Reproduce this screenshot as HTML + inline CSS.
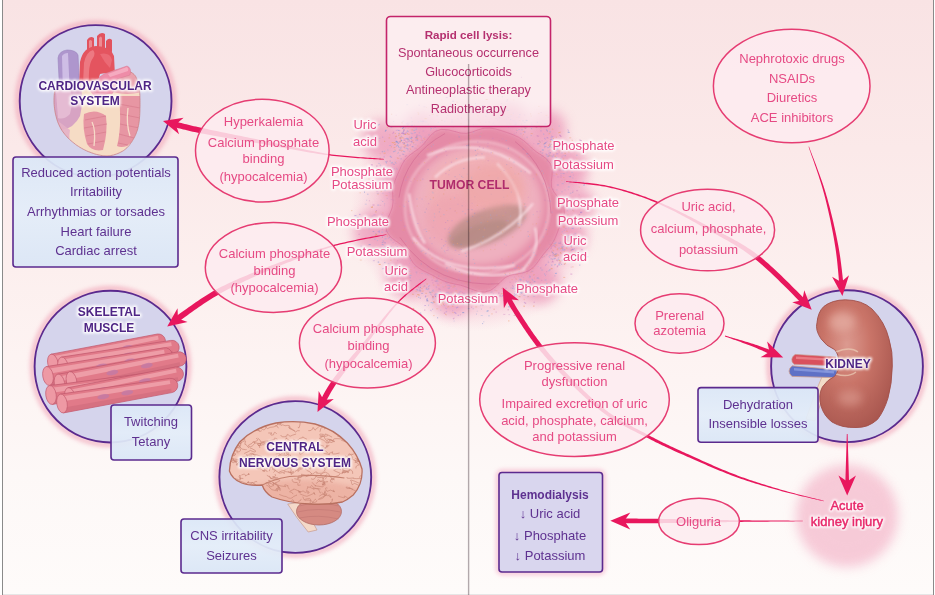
<!DOCTYPE html>
<html><head><meta charset="utf-8">
<style>
html,body{margin:0;padding:0;width:935px;height:595px;overflow:hidden;background:#fff}
svg{display:block}
text{font-family:"Liberation Sans",sans-serif}
.pk{fill:#e64a84;font-size:13px;text-anchor:middle}
.pu{fill:#5e3190;font-size:13px;text-anchor:middle}
.lb{fill:#4f2585;font-size:12px;font-weight:bold;text-anchor:middle}
.circ{fill:#d5d4ec;stroke:#5b2a8e;stroke-width:1.9}
.tl{fill:#e64a84;font-size:13px;text-anchor:middle}
.hl{fill:#fff;stroke:#fff;stroke-width:3.4;stroke-opacity:.85;stroke-linejoin:round}
</style></head><body>
<svg width="935" height="595" viewBox="0 0 935 595">
<defs>
<linearGradient id="bg" x1="0" y1="0" x2="0" y2="1">
<stop offset="0" stop-color="#f9e3e4"/>
<stop offset="0.25" stop-color="#fbe9e9"/>
<stop offset="0.45" stop-color="#fcefee"/>
<stop offset="0.6" stop-color="#fdf3f2"/>
<stop offset="0.8" stop-color="#fdf8f7"/>
<stop offset="1" stop-color="#fefbfa"/>
</linearGradient>
<radialGradient id="tglow" cx="0.5" cy="0.5" r="0.5">
<stop offset="0" stop-color="#e8749f" stop-opacity="1"/>
<stop offset="0.65" stop-color="#ec8cb0" stop-opacity="0.9"/>
<stop offset="0.85" stop-color="#f2acc5" stop-opacity="0.55"/>
<stop offset="1" stop-color="#f7c6d6" stop-opacity="0"/>
</radialGradient>
<radialGradient id="tbody" cx="0.45" cy="0.42" r="0.58">
<stop offset="0" stop-color="#f2c3cf"/>
<stop offset="0.55" stop-color="#efb3c5"/>
<stop offset="0.82" stop-color="#ea9cb6"/>
<stop offset="1" stop-color="#e2819f"/>
</radialGradient>
<radialGradient id="akglow" cx="0.5" cy="0.5" r="0.5">
<stop offset="0" stop-color="#f4adc3" stop-opacity="0.95"/>
<stop offset="0.55" stop-color="#f6bccf" stop-opacity="0.75"/>
<stop offset="1" stop-color="#fbd7e2" stop-opacity="0"/>
</radialGradient>
<linearGradient id="bluebox" x1="0" y1="0" x2="0" y2="1">
<stop offset="0" stop-color="#dbe7f7"/>
<stop offset="0.5" stop-color="#e3edf9"/>
<stop offset="1" stop-color="#dae6f6"/>
</linearGradient>
<radialGradient id="kid" cx="0.4" cy="0.35" r="0.7">
<stop offset="0" stop-color="#dc9a90"/>
<stop offset="0.45" stop-color="#c97468"/>
<stop offset="1" stop-color="#a9574f"/>
</radialGradient>
<linearGradient id="fib" x1="0" y1="0" x2="0" y2="1">
<stop offset="0" stop-color="#f2a7b0"/>
<stop offset="0.45" stop-color="#e8848f"/>
<stop offset="1" stop-color="#d66a7a"/>
</linearGradient>
<filter id="blur2" x="-50%" y="-50%" width="200%" height="200%"><feGaussianBlur stdDeviation="2"/></filter>
<filter id="blur1"><feGaussianBlur stdDeviation="0.8"/></filter>
<filter id="blur4" x="-50%" y="-50%" width="200%" height="200%"><feGaussianBlur stdDeviation="4"/></filter>
<filter id="blur6" x="-50%" y="-50%" width="200%" height="200%"><feGaussianBlur stdDeviation="6"/></filter>
<filter id="blur10" x="-50%" y="-50%" width="200%" height="200%"><feGaussianBlur stdDeviation="10"/></filter>
</defs>

<rect x="0" y="0" width="935" height="595" fill="#fff"/>
<rect x="3" y="0" width="930" height="594" fill="url(#bg)"/>
<circle cx="475" cy="207.5" r="124" fill="url(#tglow)" opacity="0.62"/>
<circle cx="382" cy="140" r="20" fill="#e98ab0" opacity="0.6" filter="url(#blur6)"/>
<circle cx="375" cy="232" r="22" fill="#e98ab0" opacity="0.6" filter="url(#blur6)"/>
<circle cx="408" cy="276" r="22" fill="#e98ab0" opacity="0.6" filter="url(#blur6)"/>
<circle cx="452" cy="296" r="20" fill="#e98ab0" opacity="0.6" filter="url(#blur6)"/>
<circle cx="540" cy="284" r="20" fill="#e98ab0" opacity="0.6" filter="url(#blur6)"/>
<circle cx="566" cy="238" r="20" fill="#e98ab0" opacity="0.6" filter="url(#blur6)"/>
<circle cx="566" cy="168" r="22" fill="#e98ab0" opacity="0.6" filter="url(#blur6)"/>
<circle cx="548" cy="128" r="18" fill="#e98ab0" opacity="0.6" filter="url(#blur6)"/>
<circle cx="398" cy="180" r="18" fill="#e98ab0" opacity="0.6" filter="url(#blur6)"/>
<circle cx="420" cy="128" r="16" fill="#e98ab0" opacity="0.6" filter="url(#blur6)"/>
<circle cx="510" cy="120" r="16" fill="#e98ab0" opacity="0.6" filter="url(#blur6)"/>
<circle cx="580" cy="205" r="15" fill="#e98ab0" opacity="0.6" filter="url(#blur6)"/>
<rect x="427.5" y="300.5" width="1" height="1" fill="#7f8fd0" opacity="0.45"/>
<rect x="577.9" y="246.0" width="1" height="1" fill="#8fb0e0" opacity="0.31"/>
<rect x="382.9" y="247.5" width="1" height="1" fill="#c77fc0" opacity="0.63"/>
<rect x="545.0" y="275.1" width="1" height="1" fill="#9aa6dc" opacity="0.53"/>
<rect x="395.6" y="266.5" width="1" height="1" fill="#b58fd8" opacity="0.42"/>
<rect x="533.9" y="281.1" width="1.5" height="1" fill="#7f8fd0" opacity="0.52"/>
<rect x="430.1" y="110.8" width="1.5" height="1" fill="#9aa6dc" opacity="0.34"/>
<rect x="450.1" y="107.1" width="1" height="1" fill="#8fb0e0" opacity="0.55"/>
<rect x="399.4" y="209.2" width="2" height="1" fill="#c77fc0" opacity="0.44"/>
<rect x="475.9" y="297.5" width="1" height="1" fill="#9aa6dc" opacity="0.33"/>
<rect x="448.6" y="286.7" width="1.5" height="1" fill="#c77fc0" opacity="0.54"/>
<rect x="561.3" y="249.4" width="2" height="1" fill="#8fb0e0" opacity="0.37"/>
<rect x="416.2" y="295.7" width="1" height="1" fill="#f0a070" opacity="0.61"/>
<rect x="393.5" y="168.1" width="1.5" height="1" fill="#b58fd8" opacity="0.44"/>
<rect x="431.1" y="266.6" width="1" height="1" fill="#7f8fd0" opacity="0.68"/>
<rect x="379.8" y="222.8" width="1" height="1" fill="#f0a070" opacity="0.32"/>
<rect x="453.0" y="139.1" width="2" height="1" fill="#b58fd8" opacity="0.41"/>
<rect x="425.4" y="249.9" width="1.5" height="1" fill="#f0a070" opacity="0.31"/>
<rect x="378.9" y="230.6" width="1" height="1" fill="#7f8fd0" opacity="0.61"/>
<rect x="544.6" y="279.5" width="2" height="1" fill="#9aa6dc" opacity="0.46"/>
<rect x="549.3" y="131.4" width="1.5" height="1" fill="#8fb0e0" opacity="0.65"/>
<rect x="518.2" y="116.5" width="1.5" height="1" fill="#b58fd8" opacity="0.58"/>
<rect x="565.9" y="199.9" width="1" height="1" fill="#9aa6dc" opacity="0.33"/>
<rect x="524.6" y="275.5" width="1" height="1" fill="#f0a070" opacity="0.30"/>
<rect x="523.8" y="121.9" width="2" height="1" fill="#9aa6dc" opacity="0.51"/>
<rect x="394.1" y="142.1" width="1" height="1" fill="#e79a6a" opacity="0.58"/>
<rect x="392.7" y="199.6" width="2" height="1" fill="#7f8fd0" opacity="0.66"/>
<rect x="490.7" y="126.8" width="2" height="1" fill="#b58fd8" opacity="0.46"/>
<rect x="409.0" y="258.3" width="1" height="1" fill="#9aa6dc" opacity="0.69"/>
<rect x="384.3" y="242.3" width="1.5" height="1" fill="#7f8fd0" opacity="0.54"/>
<rect x="540.9" y="255.9" width="1" height="1" fill="#e79a6a" opacity="0.33"/>
<rect x="498.5" y="292.6" width="1" height="1" fill="#c77fc0" opacity="0.55"/>
<rect x="556.8" y="184.5" width="2" height="1" fill="#7f8fd0" opacity="0.70"/>
<rect x="389.2" y="225.8" width="1.5" height="1" fill="#c77fc0" opacity="0.33"/>
<rect x="547.7" y="260.8" width="1" height="1" fill="#b58fd8" opacity="0.51"/>
<rect x="503.8" y="305.3" width="1.5" height="1" fill="#8fb0e0" opacity="0.36"/>
<rect x="368.5" y="178.5" width="1" height="1" fill="#f0a070" opacity="0.58"/>
<rect x="468.1" y="303.8" width="1" height="1" fill="#e79a6a" opacity="0.44"/>
<rect x="489.0" y="287.0" width="1" height="1" fill="#f0a070" opacity="0.55"/>
<rect x="497.1" y="119.6" width="1" height="1" fill="#b58fd8" opacity="0.62"/>
<rect x="514.7" y="122.4" width="2" height="1" fill="#8fb0e0" opacity="0.44"/>
<rect x="561.0" y="223.0" width="1.5" height="1" fill="#7f8fd0" opacity="0.49"/>
<rect x="505.3" y="287.7" width="1.5" height="1" fill="#b58fd8" opacity="0.68"/>
<rect x="416.1" y="273.2" width="1" height="1" fill="#9aa6dc" opacity="0.39"/>
<rect x="508.1" y="300.7" width="1" height="1" fill="#8fb0e0" opacity="0.49"/>
<rect x="410.8" y="117.4" width="1" height="1" fill="#b58fd8" opacity="0.63"/>
<rect x="534.5" y="262.2" width="2" height="1" fill="#9aa6dc" opacity="0.66"/>
<rect x="376.0" y="250.3" width="1.5" height="1" fill="#f0a070" opacity="0.33"/>
<rect x="563.3" y="177.0" width="1" height="1" fill="#f0a070" opacity="0.59"/>
<rect x="514.9" y="278.6" width="1" height="1" fill="#9aa6dc" opacity="0.36"/>
<rect x="556.3" y="153.3" width="2" height="1" fill="#b58fd8" opacity="0.56"/>
<rect x="422.1" y="278.5" width="1" height="1" fill="#8fb0e0" opacity="0.31"/>
<rect x="504.0" y="118.7" width="1" height="1" fill="#f0a070" opacity="0.47"/>
<rect x="537.7" y="143.5" width="1" height="1" fill="#b58fd8" opacity="0.31"/>
<rect x="492.5" y="279.6" width="1.5" height="1" fill="#e79a6a" opacity="0.52"/>
<rect x="523.4" y="126.4" width="1.5" height="1" fill="#7f8fd0" opacity="0.66"/>
<rect x="421.8" y="122.5" width="1" height="1" fill="#b58fd8" opacity="0.51"/>
<rect x="393.2" y="195.6" width="2" height="1" fill="#7f8fd0" opacity="0.61"/>
<rect x="399.6" y="147.5" width="2" height="1" fill="#9aa6dc" opacity="0.55"/>
<rect x="539.9" y="267.5" width="1.5" height="1" fill="#7f8fd0" opacity="0.57"/>
<rect x="401.0" y="193.3" width="1" height="1" fill="#8fb0e0" opacity="0.40"/>
<rect x="458.5" y="302.4" width="1" height="1" fill="#b58fd8" opacity="0.50"/>
<rect x="384.6" y="171.3" width="1.5" height="1" fill="#c77fc0" opacity="0.55"/>
<rect x="405.5" y="205.1" width="1" height="1" fill="#8fb0e0" opacity="0.58"/>
<rect x="396.1" y="231.4" width="1.5" height="1" fill="#9aa6dc" opacity="0.67"/>
<rect x="547.8" y="150.5" width="2" height="1" fill="#9aa6dc" opacity="0.35"/>
<rect x="541.2" y="269.6" width="2" height="1" fill="#9aa6dc" opacity="0.33"/>
<rect x="427.7" y="123.8" width="1" height="1" fill="#b58fd8" opacity="0.66"/>
<rect x="527.1" y="282.1" width="1.5" height="1" fill="#9aa6dc" opacity="0.65"/>
<rect x="552.1" y="191.9" width="1" height="1" fill="#9aa6dc" opacity="0.46"/>
<rect x="356.7" y="216.8" width="2" height="1" fill="#9aa6dc" opacity="0.70"/>
<rect x="397.2" y="260.2" width="1" height="1" fill="#c77fc0" opacity="0.44"/>
<rect x="549.3" y="255.1" width="2" height="1" fill="#c77fc0" opacity="0.58"/>
<rect x="397.2" y="275.3" width="1.5" height="1" fill="#8fb0e0" opacity="0.50"/>
<rect x="582.6" y="252.6" width="1" height="1" fill="#7f8fd0" opacity="0.41"/>
<rect x="566.1" y="230.2" width="1" height="1" fill="#b58fd8" opacity="0.41"/>
<rect x="524.9" y="259.3" width="1.5" height="1" fill="#b58fd8" opacity="0.46"/>
<rect x="369.5" y="183.3" width="2" height="1" fill="#8fb0e0" opacity="0.58"/>
<rect x="570.7" y="266.6" width="1" height="1" fill="#c77fc0" opacity="0.41"/>
<rect x="576.9" y="218.1" width="1.5" height="1" fill="#7f8fd0" opacity="0.33"/>
<rect x="547.9" y="116.8" width="1" height="1" fill="#c77fc0" opacity="0.44"/>
<rect x="375.1" y="173.6" width="1" height="1" fill="#e79a6a" opacity="0.32"/>
<rect x="443.5" y="88.7" width="1" height="1" fill="#e79a6a" opacity="0.37"/>
<rect x="551.5" y="173.5" width="1.5" height="1" fill="#f0a070" opacity="0.51"/>
<rect x="496.7" y="282.1" width="1.5" height="1" fill="#e79a6a" opacity="0.62"/>
<rect x="576.9" y="204.0" width="1" height="1" fill="#7f8fd0" opacity="0.31"/>
<rect x="364.8" y="203.7" width="2" height="1" fill="#9aa6dc" opacity="0.34"/>
<rect x="514.5" y="123.9" width="2" height="1" fill="#c77fc0" opacity="0.52"/>
<rect x="556.2" y="140.6" width="1" height="1" fill="#9aa6dc" opacity="0.44"/>
<rect x="521.5" y="127.3" width="1" height="1" fill="#f0a070" opacity="0.46"/>
<rect x="416.3" y="289.2" width="1.5" height="1" fill="#7f8fd0" opacity="0.47"/>
<rect x="567.2" y="240.3" width="2" height="1" fill="#f0a070" opacity="0.65"/>
<rect x="429.9" y="126.4" width="1" height="1" fill="#e79a6a" opacity="0.48"/>
<rect x="532.5" y="293.3" width="1" height="1" fill="#c77fc0" opacity="0.41"/>
<rect x="582.7" y="181.7" width="1" height="1" fill="#9aa6dc" opacity="0.69"/>
<rect x="440.9" y="292.7" width="1" height="1" fill="#e79a6a" opacity="0.30"/>
<rect x="414.7" y="261.9" width="1" height="1" fill="#9aa6dc" opacity="0.50"/>
<rect x="573.2" y="210.5" width="1" height="1" fill="#e79a6a" opacity="0.36"/>
<rect x="399.7" y="162.7" width="1" height="1" fill="#f0a070" opacity="0.33"/>
<rect x="573.7" y="181.1" width="1" height="1" fill="#b58fd8" opacity="0.56"/>
<rect x="452.8" y="107.3" width="2" height="1" fill="#e79a6a" opacity="0.36"/>
<rect x="460.8" y="122.6" width="1" height="1" fill="#f0a070" opacity="0.32"/>
<rect x="530.7" y="115.6" width="1" height="1" fill="#f0a070" opacity="0.66"/>
<rect x="476.5" y="123.8" width="1" height="1" fill="#8fb0e0" opacity="0.63"/>
<rect x="379.8" y="153.1" width="1" height="1" fill="#f0a070" opacity="0.33"/>
<rect x="556.7" y="229.1" width="1.5" height="1" fill="#f0a070" opacity="0.68"/>
<rect x="409.1" y="270.8" width="1" height="1" fill="#7f8fd0" opacity="0.50"/>
<rect x="572.1" y="209.5" width="1" height="1" fill="#b58fd8" opacity="0.60"/>
<rect x="396.2" y="206.1" width="2" height="1" fill="#7f8fd0" opacity="0.40"/>
<rect x="557.2" y="248.2" width="1" height="1" fill="#e79a6a" opacity="0.59"/>
<rect x="501.1" y="295.9" width="2" height="1" fill="#c77fc0" opacity="0.33"/>
<rect x="528.6" y="174.4" width="1" height="1" fill="#e79a6a" opacity="0.55"/>
<rect x="411.4" y="129.4" width="1.5" height="1" fill="#e79a6a" opacity="0.55"/>
<rect x="541.3" y="279.8" width="1" height="1" fill="#c77fc0" opacity="0.49"/>
<rect x="576.3" y="190.2" width="1.5" height="1" fill="#c77fc0" opacity="0.58"/>
<rect x="452.6" y="303.9" width="2" height="1" fill="#c77fc0" opacity="0.61"/>
<rect x="561.0" y="203.9" width="2" height="1" fill="#7f8fd0" opacity="0.31"/>
<rect x="385.2" y="230.7" width="2" height="1" fill="#b58fd8" opacity="0.70"/>
<rect x="384.1" y="284.2" width="1" height="1" fill="#7f8fd0" opacity="0.36"/>
<rect x="393.8" y="195.4" width="1" height="1" fill="#e79a6a" opacity="0.54"/>
<rect x="410.8" y="139.0" width="1" height="1" fill="#e79a6a" opacity="0.50"/>
<rect x="547.5" y="137.5" width="1" height="1" fill="#c77fc0" opacity="0.36"/>
<rect x="561.4" y="180.0" width="1" height="1" fill="#f0a070" opacity="0.47"/>
<rect x="414.6" y="265.9" width="1.5" height="1" fill="#7f8fd0" opacity="0.30"/>
<rect x="475.5" y="110.3" width="1" height="1" fill="#9aa6dc" opacity="0.66"/>
<rect x="452.5" y="293.8" width="1" height="1" fill="#e79a6a" opacity="0.46"/>
<rect x="561.4" y="206.9" width="1.5" height="1" fill="#c77fc0" opacity="0.64"/>
<rect x="457.8" y="294.0" width="1.5" height="1" fill="#7f8fd0" opacity="0.55"/>
<rect x="539.5" y="293.2" width="1" height="1" fill="#e79a6a" opacity="0.61"/>
<rect x="495.5" y="117.9" width="1" height="1" fill="#c77fc0" opacity="0.62"/>
<rect x="393.1" y="121.0" width="1" height="1" fill="#8fb0e0" opacity="0.59"/>
<rect x="552.3" y="231.9" width="2" height="1" fill="#f0a070" opacity="0.48"/>
<rect x="476.5" y="119.4" width="1" height="1" fill="#7f8fd0" opacity="0.37"/>
<rect x="399.1" y="251.6" width="1.5" height="1" fill="#e79a6a" opacity="0.40"/>
<rect x="468.7" y="120.5" width="1.5" height="1" fill="#9aa6dc" opacity="0.49"/>
<rect x="433.1" y="134.0" width="1" height="1" fill="#7f8fd0" opacity="0.56"/>
<rect x="541.0" y="240.5" width="1" height="1" fill="#8fb0e0" opacity="0.48"/>
<rect x="427.3" y="289.1" width="2" height="1" fill="#b58fd8" opacity="0.47"/>
<rect x="383.0" y="179.6" width="1" height="1" fill="#8fb0e0" opacity="0.43"/>
<rect x="405.0" y="282.1" width="1" height="1" fill="#b58fd8" opacity="0.65"/>
<rect x="474.8" y="123.8" width="1" height="1" fill="#8fb0e0" opacity="0.45"/>
<rect x="421.1" y="292.9" width="2" height="1" fill="#7f8fd0" opacity="0.41"/>
<rect x="578.8" y="186.6" width="1" height="1" fill="#f0a070" opacity="0.34"/>
<rect x="559.6" y="144.7" width="2" height="1" fill="#c77fc0" opacity="0.56"/>
<rect x="395.3" y="243.2" width="1" height="1" fill="#7f8fd0" opacity="0.31"/>
<rect x="445.7" y="97.1" width="2" height="1" fill="#b58fd8" opacity="0.69"/>
<rect x="354.4" y="215.1" width="2" height="1" fill="#b58fd8" opacity="0.69"/>
<rect x="476.0" y="313.6" width="1" height="1" fill="#7f8fd0" opacity="0.36"/>
<rect x="391.7" y="195.9" width="2" height="1" fill="#f0a070" opacity="0.33"/>
<rect x="486.8" y="139.9" width="1" height="1" fill="#7f8fd0" opacity="0.39"/>
<rect x="553.6" y="165.1" width="1.5" height="1" fill="#9aa6dc" opacity="0.51"/>
<rect x="393.8" y="240.5" width="1" height="1" fill="#b58fd8" opacity="0.34"/>
<rect x="442.9" y="303.7" width="1" height="1" fill="#e79a6a" opacity="0.62"/>
<rect x="568.3" y="208.2" width="1.5" height="1" fill="#8fb0e0" opacity="0.70"/>
<rect x="459.5" y="291.1" width="2" height="1" fill="#9aa6dc" opacity="0.51"/>
<rect x="363.1" y="174.1" width="2" height="1" fill="#7f8fd0" opacity="0.58"/>
<rect x="436.2" y="308.3" width="2" height="1" fill="#f0a070" opacity="0.33"/>
<rect x="488.6" y="302.5" width="1.5" height="1" fill="#c77fc0" opacity="0.39"/>
<rect x="562.4" y="226.1" width="2" height="1" fill="#f0a070" opacity="0.38"/>
<rect x="506.1" y="107.5" width="1" height="1" fill="#f0a070" opacity="0.38"/>
<rect x="561.0" y="191.3" width="2" height="1" fill="#9aa6dc" opacity="0.39"/>
<rect x="482.7" y="93.5" width="1" height="1" fill="#e79a6a" opacity="0.68"/>
<rect x="375.8" y="210.1" width="1" height="1" fill="#c77fc0" opacity="0.68"/>
<rect x="538.0" y="288.5" width="1" height="1" fill="#c77fc0" opacity="0.39"/>
<rect x="572.2" y="191.9" width="1" height="1" fill="#7f8fd0" opacity="0.46"/>
<rect x="554.5" y="149.5" width="1" height="1" fill="#e79a6a" opacity="0.70"/>
<rect x="558.9" y="169.8" width="2" height="1" fill="#8fb0e0" opacity="0.31"/>
<rect x="422.4" y="121.0" width="1.5" height="1" fill="#c77fc0" opacity="0.69"/>
<rect x="381.7" y="242.1" width="1.5" height="1" fill="#7f8fd0" opacity="0.47"/>
<rect x="549.4" y="143.4" width="1" height="1" fill="#8fb0e0" opacity="0.45"/>
<rect x="485.4" y="121.7" width="1" height="1" fill="#7f8fd0" opacity="0.58"/>
<rect x="513.9" y="314.8" width="2" height="1" fill="#8fb0e0" opacity="0.38"/>
<rect x="410.3" y="280.1" width="1" height="1" fill="#c77fc0" opacity="0.62"/>
<rect x="484.8" y="115.7" width="2" height="1" fill="#7f8fd0" opacity="0.31"/>
<rect x="571.2" y="246.6" width="1" height="1" fill="#f0a070" opacity="0.66"/>
<rect x="426.4" y="283.5" width="1.5" height="1" fill="#e79a6a" opacity="0.68"/>
<rect x="404.9" y="145.4" width="1.5" height="1" fill="#e79a6a" opacity="0.42"/>
<rect x="454.6" y="96.6" width="1" height="1" fill="#8fb0e0" opacity="0.31"/>
<rect x="481.7" y="272.1" width="2" height="1" fill="#b58fd8" opacity="0.62"/>
<rect x="561.2" y="156.5" width="2" height="1" fill="#b58fd8" opacity="0.35"/>
<rect x="351.3" y="210.1" width="1" height="1" fill="#e79a6a" opacity="0.54"/>
<rect x="429.2" y="291.9" width="2" height="1" fill="#e79a6a" opacity="0.44"/>
<rect x="495.7" y="108.6" width="1" height="1" fill="#b58fd8" opacity="0.40"/>
<rect x="566.6" y="246.2" width="2" height="1" fill="#7f8fd0" opacity="0.52"/>
<rect x="419.7" y="312.6" width="1.5" height="1" fill="#7f8fd0" opacity="0.55"/>
<rect x="499.0" y="295.5" width="2" height="1" fill="#c77fc0" opacity="0.70"/>
<rect x="572.5" y="190.6" width="1" height="1" fill="#c77fc0" opacity="0.60"/>
<rect x="533.2" y="125.8" width="1" height="1" fill="#f0a070" opacity="0.61"/>
<rect x="449.3" y="296.4" width="1.5" height="1" fill="#e79a6a" opacity="0.38"/>
<rect x="476.7" y="310.7" width="1" height="1" fill="#9aa6dc" opacity="0.36"/>
<rect x="539.7" y="151.0" width="1.5" height="1" fill="#c77fc0" opacity="0.70"/>
<rect x="384.1" y="203.4" width="1" height="1" fill="#9aa6dc" opacity="0.56"/>
<rect x="581.7" y="201.5" width="1" height="1" fill="#b58fd8" opacity="0.64"/>
<rect x="564.5" y="155.2" width="1.5" height="1" fill="#7f8fd0" opacity="0.39"/>
<rect x="549.0" y="231.2" width="1" height="1" fill="#9aa6dc" opacity="0.45"/>
<rect x="530.1" y="147.1" width="1.5" height="1" fill="#c77fc0" opacity="0.61"/>
<rect x="417.3" y="112.2" width="1.5" height="1" fill="#f0a070" opacity="0.39"/>
<rect x="409.4" y="277.1" width="1" height="1" fill="#9aa6dc" opacity="0.38"/>
<rect x="472.5" y="287.7" width="1" height="1" fill="#9aa6dc" opacity="0.63"/>
<rect x="402.8" y="253.0" width="1" height="1" fill="#e79a6a" opacity="0.55"/>
<rect x="571.9" y="258.1" width="1" height="1" fill="#c77fc0" opacity="0.46"/>
<rect x="503.1" y="114.7" width="1" height="1" fill="#f0a070" opacity="0.56"/>
<rect x="563.7" y="263.6" width="1.5" height="1" fill="#c77fc0" opacity="0.57"/>
<rect x="377.7" y="261.6" width="1.5" height="1" fill="#7f8fd0" opacity="0.60"/>
<rect x="545.0" y="146.0" width="1.5" height="1" fill="#b58fd8" opacity="0.56"/>
<rect x="399.8" y="267.9" width="1" height="1" fill="#c77fc0" opacity="0.68"/>
<rect x="384.1" y="246.6" width="2" height="1" fill="#7f8fd0" opacity="0.53"/>
<rect x="408.4" y="281.8" width="1" height="1" fill="#b58fd8" opacity="0.35"/>
<rect x="578.9" y="241.8" width="1" height="1" fill="#c77fc0" opacity="0.53"/>
<rect x="576.4" y="158.6" width="1" height="1" fill="#f0a070" opacity="0.36"/>
<rect x="460.7" y="273.5" width="2" height="1" fill="#7f8fd0" opacity="0.50"/>
<rect x="506.2" y="122.3" width="1" height="1" fill="#b58fd8" opacity="0.42"/>
<rect x="538.4" y="105.9" width="1" height="1" fill="#e79a6a" opacity="0.54"/>
<rect x="407.5" y="131.1" width="1" height="1" fill="#7f8fd0" opacity="0.56"/>
<rect x="527.1" y="143.0" width="2" height="1" fill="#9aa6dc" opacity="0.37"/>
<rect x="491.8" y="288.7" width="1" height="1" fill="#c77fc0" opacity="0.45"/>
<rect x="544.0" y="273.5" width="1" height="1" fill="#9aa6dc" opacity="0.65"/>
<rect x="538.3" y="113.1" width="1" height="1" fill="#f0a070" opacity="0.57"/>
<rect x="436.4" y="282.6" width="1.5" height="1" fill="#b58fd8" opacity="0.56"/>
<rect x="437.6" y="303.1" width="2" height="1" fill="#9aa6dc" opacity="0.46"/>
<rect x="415.5" y="271.6" width="2" height="1" fill="#7f8fd0" opacity="0.49"/>
<rect x="384.5" y="238.3" width="2" height="1" fill="#8fb0e0" opacity="0.63"/>
<rect x="509.3" y="123.4" width="2" height="1" fill="#e79a6a" opacity="0.45"/>
<rect x="506.8" y="116.0" width="1" height="1" fill="#8fb0e0" opacity="0.32"/>
<rect x="546.9" y="282.8" width="1" height="1" fill="#f0a070" opacity="0.32"/>
<rect x="383.9" y="205.3" width="1" height="1" fill="#c77fc0" opacity="0.31"/>
<rect x="550.1" y="240.1" width="1" height="1" fill="#7f8fd0" opacity="0.35"/>
<rect x="538.2" y="153.4" width="1" height="1" fill="#e79a6a" opacity="0.57"/>
<rect x="456.9" y="111.0" width="1.5" height="1" fill="#8fb0e0" opacity="0.36"/>
<rect x="569.2" y="137.3" width="2" height="1" fill="#e79a6a" opacity="0.36"/>
<rect x="371.8" y="206.1" width="1" height="1" fill="#e79a6a" opacity="0.43"/>
<rect x="564.6" y="228.2" width="2" height="1" fill="#9aa6dc" opacity="0.36"/>
<rect x="553.4" y="175.1" width="1.5" height="1" fill="#9aa6dc" opacity="0.35"/>
<rect x="403.4" y="193.8" width="1.5" height="1" fill="#f0a070" opacity="0.69"/>
<rect x="400.5" y="229.7" width="1.5" height="1" fill="#7f8fd0" opacity="0.70"/>
<rect x="410.9" y="140.8" width="1.5" height="1" fill="#c77fc0" opacity="0.41"/>
<rect x="560.8" y="202.5" width="1" height="1" fill="#b58fd8" opacity="0.48"/>
<rect x="515.3" y="287.1" width="1" height="1" fill="#f0a070" opacity="0.42"/>
<rect x="390.9" y="199.1" width="1.5" height="1" fill="#b58fd8" opacity="0.59"/>
<rect x="472.7" y="85.0" width="1" height="1" fill="#9aa6dc" opacity="0.42"/>
<rect x="414.4" y="147.6" width="1" height="1" fill="#7f8fd0" opacity="0.50"/>
<rect x="397.7" y="142.8" width="1" height="1" fill="#7f8fd0" opacity="0.32"/>
<rect x="391.8" y="170.9" width="1" height="1" fill="#8fb0e0" opacity="0.47"/>
<rect x="440.3" y="309.6" width="1" height="1" fill="#9aa6dc" opacity="0.45"/>
<rect x="521.0" y="123.7" width="1" height="1" fill="#b58fd8" opacity="0.58"/>
<rect x="381.9" y="236.6" width="1" height="1" fill="#7f8fd0" opacity="0.65"/>
<rect x="492.7" y="122.7" width="1" height="1" fill="#7f8fd0" opacity="0.56"/>
<rect x="381.2" y="169.6" width="2" height="1" fill="#e79a6a" opacity="0.54"/>
<rect x="386.7" y="197.9" width="1" height="1" fill="#7f8fd0" opacity="0.32"/>
<rect x="570.1" y="222.4" width="1" height="1" fill="#9aa6dc" opacity="0.36"/>
<rect x="567.7" y="151.2" width="1" height="1" fill="#f0a070" opacity="0.36"/>
<rect x="508.1" y="306.3" width="2" height="1" fill="#8fb0e0" opacity="0.63"/>
<rect x="517.1" y="288.0" width="2" height="1" fill="#7f8fd0" opacity="0.59"/>
<rect x="580.4" y="211.6" width="2" height="1" fill="#b58fd8" opacity="0.60"/>
<rect x="381.9" y="227.7" width="1" height="1" fill="#9aa6dc" opacity="0.40"/>
<rect x="423.8" y="143.7" width="1.5" height="1" fill="#7f8fd0" opacity="0.66"/>
<rect x="568.4" y="161.0" width="1.5" height="1" fill="#7f8fd0" opacity="0.55"/>
<rect x="435.1" y="125.5" width="1.5" height="1" fill="#f0a070" opacity="0.42"/>
<rect x="565.1" y="165.0" width="1" height="1" fill="#8fb0e0" opacity="0.37"/>
<rect x="551.7" y="156.2" width="1" height="1" fill="#b58fd8" opacity="0.68"/>
<rect x="473.0" y="124.7" width="1" height="1" fill="#e79a6a" opacity="0.45"/>
<rect x="545.4" y="114.9" width="2" height="1" fill="#f0a070" opacity="0.49"/>
<rect x="378.0" y="189.0" width="1" height="1" fill="#f0a070" opacity="0.53"/>
<rect x="440.9" y="295.6" width="2" height="1" fill="#9aa6dc" opacity="0.55"/>
<rect x="564.8" y="254.3" width="1" height="1" fill="#7f8fd0" opacity="0.34"/>
<rect x="558.4" y="168.4" width="1" height="1" fill="#e79a6a" opacity="0.58"/>
<rect x="580.1" y="227.7" width="1" height="1" fill="#7f8fd0" opacity="0.59"/>
<rect x="575.0" y="250.5" width="1.5" height="1" fill="#8fb0e0" opacity="0.38"/>
<rect x="550.5" y="185.8" width="2" height="1" fill="#b58fd8" opacity="0.34"/>
<rect x="500.3" y="294.4" width="1" height="1" fill="#7f8fd0" opacity="0.31"/>
<rect x="534.0" y="125.4" width="1.5" height="1" fill="#b58fd8" opacity="0.49"/>
<rect x="529.0" y="265.7" width="1" height="1" fill="#b58fd8" opacity="0.42"/>
<rect x="425.8" y="287.4" width="1" height="1" fill="#e79a6a" opacity="0.59"/>
<rect x="402.6" y="284.9" width="2" height="1" fill="#e79a6a" opacity="0.64"/>
<rect x="395.4" y="135.8" width="1" height="1" fill="#c77fc0" opacity="0.44"/>
<rect x="447.3" y="115.0" width="1" height="1" fill="#8fb0e0" opacity="0.59"/>
<rect x="516.0" y="132.1" width="1" height="1" fill="#c77fc0" opacity="0.51"/>
<rect x="453.2" y="294.6" width="1" height="1" fill="#b58fd8" opacity="0.30"/>
<rect x="400.5" y="211.7" width="2" height="1" fill="#9aa6dc" opacity="0.54"/>
<rect x="568.7" y="182.2" width="1.5" height="1" fill="#8fb0e0" opacity="0.53"/>
<rect x="533.1" y="295.9" width="2" height="1" fill="#9aa6dc" opacity="0.37"/>
<rect x="539.9" y="181.7" width="1" height="1" fill="#b58fd8" opacity="0.50"/>
<rect x="565.6" y="202.5" width="1.5" height="1" fill="#e79a6a" opacity="0.34"/>
<rect x="559.6" y="167.5" width="1" height="1" fill="#f0a070" opacity="0.47"/>
<rect x="420.9" y="138.4" width="1" height="1" fill="#c77fc0" opacity="0.45"/>
<rect x="552.1" y="140.0" width="2" height="1" fill="#9aa6dc" opacity="0.35"/>
<rect x="400.4" y="158.4" width="1.5" height="1" fill="#7f8fd0" opacity="0.53"/>
<rect x="394.9" y="196.7" width="2" height="1" fill="#b58fd8" opacity="0.56"/>
<rect x="469.9" y="107.4" width="1.5" height="1" fill="#b58fd8" opacity="0.53"/>
<rect x="550.4" y="282.3" width="1" height="1" fill="#c77fc0" opacity="0.50"/>
<rect x="464.4" y="301.7" width="1" height="1" fill="#8fb0e0" opacity="0.59"/>
<rect x="547.6" y="196.1" width="1.5" height="1" fill="#f0a070" opacity="0.54"/>
<rect x="417.7" y="286.2" width="1" height="1" fill="#e79a6a" opacity="0.37"/>
<rect x="406.2" y="104.2" width="2" height="1" fill="#9aa6dc" opacity="0.36"/>
<rect x="530.3" y="280.5" width="1" height="1" fill="#e79a6a" opacity="0.34"/>
<rect x="564.6" y="152.8" width="1" height="1" fill="#e79a6a" opacity="0.65"/>
<rect x="358.6" y="233.8" width="1" height="1" fill="#c77fc0" opacity="0.50"/>
<rect x="409.1" y="136.6" width="1" height="1" fill="#c77fc0" opacity="0.36"/>
<rect x="411.6" y="160.1" width="2" height="1" fill="#b58fd8" opacity="0.58"/>
<rect x="383.6" y="152.7" width="2" height="1" fill="#f0a070" opacity="0.64"/>
<rect x="434.6" y="137.7" width="1" height="1" fill="#f0a070" opacity="0.57"/>
<rect x="427.2" y="149.7" width="2" height="1" fill="#c77fc0" opacity="0.43"/>
<rect x="401.5" y="132.4" width="2" height="1" fill="#b58fd8" opacity="0.59"/>
<rect x="404.2" y="133.9" width="2" height="1" fill="#e79a6a" opacity="0.49"/>
<rect x="579.3" y="220.2" width="1" height="1" fill="#f0a070" opacity="0.66"/>
<rect x="435.1" y="280.8" width="2" height="1" fill="#7f8fd0" opacity="0.63"/>
<rect x="561.5" y="152.4" width="1" height="1" fill="#9aa6dc" opacity="0.59"/>
<rect x="571.9" y="177.5" width="1.5" height="1" fill="#9aa6dc" opacity="0.34"/>
<rect x="405.8" y="173.2" width="1" height="1" fill="#8fb0e0" opacity="0.56"/>
<rect x="518.4" y="129.0" width="1.5" height="1" fill="#8fb0e0" opacity="0.46"/>
<rect x="570.2" y="175.9" width="1" height="1" fill="#c77fc0" opacity="0.59"/>
<rect x="389.3" y="134.4" width="1" height="1" fill="#f0a070" opacity="0.40"/>
<rect x="401.0" y="274.0" width="1.5" height="1" fill="#c77fc0" opacity="0.53"/>
<rect x="550.6" y="268.2" width="2" height="1" fill="#e79a6a" opacity="0.68"/>
<rect x="376.3" y="190.9" width="2" height="1" fill="#c77fc0" opacity="0.38"/>
<rect x="555.6" y="290.9" width="1" height="1" fill="#b58fd8" opacity="0.62"/>
<rect x="421.3" y="148.3" width="1" height="1" fill="#9aa6dc" opacity="0.44"/>
<rect x="411.3" y="133.2" width="2" height="1" fill="#b58fd8" opacity="0.49"/>
<rect x="450.2" y="292.4" width="2" height="1" fill="#b58fd8" opacity="0.44"/>
<rect x="530.7" y="133.1" width="2" height="1" fill="#e79a6a" opacity="0.57"/>
<rect x="564.5" y="198.0" width="1.5" height="1" fill="#b58fd8" opacity="0.44"/>
<rect x="427.8" y="139.9" width="2" height="1" fill="#e79a6a" opacity="0.49"/>
<rect x="390.7" y="126.6" width="1.5" height="1" fill="#9aa6dc" opacity="0.64"/>
<rect x="577.1" y="245.0" width="1.5" height="1" fill="#b58fd8" opacity="0.61"/>
<rect x="541.3" y="286.4" width="1" height="1" fill="#7f8fd0" opacity="0.38"/>
<rect x="548.0" y="242.3" width="1.5" height="1" fill="#e79a6a" opacity="0.54"/>
<rect x="386.3" y="160.8" width="1.5" height="1" fill="#c77fc0" opacity="0.61"/>
<rect x="498.2" y="292.6" width="1" height="1" fill="#c77fc0" opacity="0.54"/>
<rect x="436.6" y="115.8" width="1.5" height="1" fill="#8fb0e0" opacity="0.38"/>
<rect x="441.5" y="120.1" width="1" height="1" fill="#8fb0e0" opacity="0.60"/>
<rect x="375.6" y="247.1" width="2" height="1" fill="#e79a6a" opacity="0.39"/>
<rect x="529.9" y="272.0" width="1" height="1" fill="#c77fc0" opacity="0.49"/>
<rect x="552.3" y="156.4" width="1" height="1" fill="#9aa6dc" opacity="0.36"/>
<rect x="437.4" y="284.8" width="2" height="1" fill="#f0a070" opacity="0.57"/>
<rect x="522.0" y="135.5" width="1" height="1" fill="#f0a070" opacity="0.37"/>
<rect x="408.0" y="286.5" width="1" height="1" fill="#f0a070" opacity="0.31"/>
<rect x="563.4" y="233.2" width="1" height="1" fill="#b58fd8" opacity="0.50"/>
<rect x="423.6" y="212.4" width="1" height="1" fill="#9aa6dc" opacity="0.39"/>
<rect x="389.0" y="256.9" width="1.5" height="1" fill="#f0a070" opacity="0.44"/>
<rect x="492.8" y="111.2" width="1" height="1" fill="#8fb0e0" opacity="0.41"/>
<rect x="422.6" y="286.3" width="1.5" height="1" fill="#e79a6a" opacity="0.44"/>
<rect x="375.1" y="211.4" width="1.5" height="1" fill="#e79a6a" opacity="0.65"/>
<rect x="418.9" y="288.6" width="1.5" height="1" fill="#7f8fd0" opacity="0.38"/>
<rect x="449.9" y="103.2" width="1" height="1" fill="#9aa6dc" opacity="0.61"/>
<rect x="563.8" y="229.9" width="1" height="1" fill="#8fb0e0" opacity="0.46"/>
<rect x="530.4" y="251.6" width="1" height="1" fill="#7f8fd0" opacity="0.63"/>
<rect x="379.8" y="222.3" width="2" height="1" fill="#8fb0e0" opacity="0.55"/>
<rect x="410.8" y="143.2" width="1" height="1" fill="#f0a070" opacity="0.39"/>
<rect x="437.0" y="142.6" width="1" height="1" fill="#7f8fd0" opacity="0.65"/>
<rect x="385.7" y="254.5" width="1" height="1" fill="#7f8fd0" opacity="0.45"/>
<rect x="518.8" y="120.0" width="1.5" height="1" fill="#e79a6a" opacity="0.37"/>
<rect x="554.1" y="224.4" width="2" height="1" fill="#7f8fd0" opacity="0.53"/>
<rect x="379.7" y="157.5" width="1" height="1" fill="#8fb0e0" opacity="0.63"/>
<rect x="488.2" y="121.5" width="2" height="1" fill="#c77fc0" opacity="0.48"/>
<rect x="558.5" y="214.8" width="1" height="1" fill="#f0a070" opacity="0.49"/>
<rect x="384.3" y="262.1" width="1" height="1" fill="#7f8fd0" opacity="0.56"/>
<rect x="497.8" y="300.1" width="1" height="1" fill="#7f8fd0" opacity="0.57"/>
<rect x="545.5" y="273.8" width="1" height="1" fill="#b58fd8" opacity="0.39"/>
<rect x="537.6" y="266.1" width="1" height="1" fill="#8fb0e0" opacity="0.48"/>
<rect x="471.4" y="111.9" width="1.5" height="1" fill="#7f8fd0" opacity="0.61"/>
<rect x="450.5" y="104.5" width="1.5" height="1" fill="#7f8fd0" opacity="0.55"/>
<rect x="454.6" y="131.0" width="1.5" height="1" fill="#c77fc0" opacity="0.67"/>
<rect x="569.7" y="239.4" width="1" height="1" fill="#f0a070" opacity="0.46"/>
<rect x="437.9" y="295.2" width="1" height="1" fill="#8fb0e0" opacity="0.68"/>
<rect x="519.7" y="133.3" width="2" height="1" fill="#8fb0e0" opacity="0.49"/>
<rect x="519.8" y="283.3" width="1" height="1" fill="#b58fd8" opacity="0.45"/>
<rect x="421.4" y="139.8" width="2" height="1" fill="#c77fc0" opacity="0.68"/>
<rect x="493.8" y="124.3" width="1.5" height="1" fill="#8fb0e0" opacity="0.42"/>
<rect x="581.2" y="249.2" width="1.5" height="1" fill="#b58fd8" opacity="0.65"/>
<rect x="460.9" y="117.5" width="1" height="1" fill="#7f8fd0" opacity="0.54"/>
<rect x="448.6" y="274.6" width="2" height="1" fill="#c77fc0" opacity="0.57"/>
<rect x="389.2" y="145.0" width="2" height="1" fill="#9aa6dc" opacity="0.41"/>
<rect x="570.0" y="208.5" width="1" height="1" fill="#8fb0e0" opacity="0.42"/>
<rect x="543.8" y="289.7" width="1" height="1" fill="#b58fd8" opacity="0.41"/>
<rect x="535.8" y="126.8" width="1.5" height="1" fill="#c77fc0" opacity="0.51"/>
<rect x="398.6" y="188.3" width="2" height="1" fill="#c77fc0" opacity="0.38"/>
<rect x="475.1" y="105.6" width="1" height="1" fill="#8fb0e0" opacity="0.57"/>
<rect x="384.8" y="227.1" width="1.5" height="1" fill="#9aa6dc" opacity="0.53"/>
<rect x="559.6" y="212.4" width="1.5" height="1" fill="#8fb0e0" opacity="0.61"/>
<rect x="486.4" y="310.7" width="1.5" height="1" fill="#8fb0e0" opacity="0.65"/>
<rect x="395.6" y="196.7" width="1" height="1" fill="#9aa6dc" opacity="0.38"/>
<rect x="516.5" y="294.9" width="1.5" height="1" fill="#f0a070" opacity="0.45"/>
<rect x="397.6" y="175.0" width="1" height="1" fill="#9aa6dc" opacity="0.32"/>
<rect x="579.3" y="205.7" width="1" height="1" fill="#e79a6a" opacity="0.45"/>
<rect x="372.7" y="231.0" width="1.5" height="1" fill="#7f8fd0" opacity="0.41"/>
<rect x="395.9" y="145.7" width="1" height="1" fill="#7f8fd0" opacity="0.38"/>
<rect x="531.0" y="149.6" width="1.5" height="1" fill="#9aa6dc" opacity="0.67"/>
<rect x="458.3" y="293.8" width="2" height="1" fill="#7f8fd0" opacity="0.61"/>
<rect x="519.0" y="114.1" width="1.5" height="1" fill="#7f8fd0" opacity="0.38"/>
<rect x="514.6" y="291.0" width="1" height="1" fill="#7f8fd0" opacity="0.32"/>
<rect x="376.6" y="171.2" width="1" height="1" fill="#b58fd8" opacity="0.65"/>
<rect x="419.9" y="142.3" width="1" height="1" fill="#7f8fd0" opacity="0.40"/>
<rect x="404.3" y="177.8" width="2" height="1" fill="#f0a070" opacity="0.37"/>
<rect x="517.7" y="149.7" width="1" height="1" fill="#e79a6a" opacity="0.70"/>
<rect x="493.6" y="308.7" width="1" height="1" fill="#e79a6a" opacity="0.66"/>
<rect x="556.1" y="153.2" width="1" height="1" fill="#b58fd8" opacity="0.40"/>
<rect x="380.7" y="199.7" width="1" height="1" fill="#c77fc0" opacity="0.34"/>
<rect x="443.8" y="275.1" width="1" height="1" fill="#7f8fd0" opacity="0.57"/>
<rect x="451.1" y="281.3" width="2" height="1" fill="#7f8fd0" opacity="0.43"/>
<rect x="471.3" y="290.7" width="1.5" height="1" fill="#7f8fd0" opacity="0.49"/>
<rect x="522.2" y="289.9" width="1" height="1" fill="#f0a070" opacity="0.49"/>
<rect x="562.6" y="155.0" width="1" height="1" fill="#b58fd8" opacity="0.36"/>
<rect x="530.1" y="113.4" width="1" height="1" fill="#e79a6a" opacity="0.61"/>
<rect x="575.2" y="180.9" width="1" height="1" fill="#c77fc0" opacity="0.55"/>
<rect x="394.7" y="231.8" width="1" height="1" fill="#c77fc0" opacity="0.55"/>
<rect x="546.7" y="295.5" width="1" height="1" fill="#9aa6dc" opacity="0.37"/>
<rect x="374.0" y="238.7" width="1.5" height="1" fill="#9aa6dc" opacity="0.47"/>
<rect x="476.8" y="293.5" width="1.5" height="1" fill="#7f8fd0" opacity="0.53"/>
<rect x="446.4" y="300.5" width="1.5" height="1" fill="#7f8fd0" opacity="0.48"/>
<rect x="388.3" y="216.9" width="1" height="1" fill="#9aa6dc" opacity="0.55"/>
<rect x="500.7" y="103.0" width="1.5" height="1" fill="#b58fd8" opacity="0.35"/>
<rect x="477.7" y="120.3" width="2" height="1" fill="#e79a6a" opacity="0.70"/>
<rect x="575.8" y="206.3" width="2" height="1" fill="#e79a6a" opacity="0.66"/>
<rect x="562.5" y="239.9" width="1.5" height="1" fill="#f0a070" opacity="0.36"/>
<rect x="422.2" y="145.2" width="1" height="1" fill="#8fb0e0" opacity="0.48"/>
<rect x="499.9" y="111.5" width="1.5" height="1" fill="#8fb0e0" opacity="0.37"/>
<rect x="380.3" y="247.5" width="1" height="1" fill="#8fb0e0" opacity="0.36"/>
<rect x="513.9" y="288.7" width="1" height="1" fill="#b58fd8" opacity="0.58"/>
<rect x="508.0" y="300.5" width="2" height="1" fill="#8fb0e0" opacity="0.60"/>
<rect x="519.5" y="293.6" width="1" height="1" fill="#9aa6dc" opacity="0.53"/>
<rect x="508.6" y="314.1" width="1" height="1" fill="#c77fc0" opacity="0.51"/>
<rect x="415.2" y="290.7" width="2" height="1" fill="#e79a6a" opacity="0.34"/>
<rect x="393.7" y="258.4" width="1.5" height="1" fill="#f0a070" opacity="0.40"/>
<rect x="392.4" y="173.6" width="1" height="1" fill="#e79a6a" opacity="0.37"/>
<rect x="409.4" y="274.9" width="2" height="1" fill="#8fb0e0" opacity="0.69"/>
<rect x="560.9" y="248.0" width="1" height="1" fill="#e79a6a" opacity="0.63"/>
<rect x="533.3" y="143.1" width="1" height="1" fill="#c77fc0" opacity="0.42"/>
<rect x="563.2" y="276.9" width="2" height="1" fill="#f0a070" opacity="0.48"/>
<rect x="571.9" y="222.9" width="1" height="1" fill="#9aa6dc" opacity="0.39"/>
<rect x="512.1" y="287.8" width="1.5" height="1" fill="#7f8fd0" opacity="0.40"/>
<rect x="516.5" y="116.9" width="1" height="1" fill="#f0a070" opacity="0.40"/>
<rect x="525.6" y="126.4" width="2" height="1" fill="#f0a070" opacity="0.51"/>
<rect x="441.2" y="99.4" width="1" height="1" fill="#f0a070" opacity="0.32"/>
<rect x="554.1" y="283.2" width="1.5" height="1" fill="#c77fc0" opacity="0.34"/>
<rect x="552.4" y="280.2" width="1" height="1" fill="#9aa6dc" opacity="0.36"/>
<rect x="397.8" y="170.2" width="2" height="1" fill="#f0a070" opacity="0.37"/>
<rect x="524.2" y="114.4" width="1" height="1" fill="#c77fc0" opacity="0.46"/>
<rect x="560.3" y="175.2" width="1.5" height="1" fill="#b58fd8" opacity="0.44"/>
<rect x="480.4" y="295.0" width="1.5" height="1" fill="#8fb0e0" opacity="0.63"/>
<rect x="536.6" y="121.7" width="1.5" height="1" fill="#7f8fd0" opacity="0.51"/>
<rect x="575.7" y="180.7" width="1" height="1" fill="#c77fc0" opacity="0.45"/>
<rect x="384.4" y="190.1" width="1.5" height="1" fill="#7f8fd0" opacity="0.47"/>
<rect x="372.5" y="204.5" width="2" height="1" fill="#c77fc0" opacity="0.55"/>
<rect x="510.2" y="119.1" width="1" height="1" fill="#7f8fd0" opacity="0.65"/>
<rect x="394.8" y="132.9" width="1" height="1" fill="#f0a070" opacity="0.55"/>
<rect x="474.7" y="293.5" width="1" height="1" fill="#8fb0e0" opacity="0.47"/>
<rect x="564.2" y="179.6" width="1" height="1" fill="#f0a070" opacity="0.35"/>
<rect x="387.1" y="149.5" width="1.5" height="1" fill="#8fb0e0" opacity="0.33"/>
<rect x="384.1" y="150.8" width="1" height="1" fill="#8fb0e0" opacity="0.65"/>
<rect x="553.2" y="162.6" width="1.5" height="1" fill="#8fb0e0" opacity="0.41"/>
<rect x="466.6" y="114.4" width="1" height="1" fill="#c77fc0" opacity="0.56"/>
<rect x="501.0" y="288.0" width="1.5" height="1" fill="#f0a070" opacity="0.48"/>
<rect x="393.1" y="182.5" width="1" height="1" fill="#e79a6a" opacity="0.40"/>
<rect x="490.5" y="291.6" width="2" height="1" fill="#8fb0e0" opacity="0.69"/>
<rect x="393.6" y="268.2" width="1.5" height="1" fill="#9aa6dc" opacity="0.52"/>
<rect x="382.4" y="212.4" width="1" height="1" fill="#e79a6a" opacity="0.42"/>
<rect x="488.6" y="112.0" width="1.5" height="1" fill="#b58fd8" opacity="0.48"/>
<rect x="567.3" y="244.6" width="2" height="1" fill="#c77fc0" opacity="0.44"/>
<rect x="479.9" y="148.7" width="1" height="1" fill="#f0a070" opacity="0.47"/>
<rect x="430.2" y="129.6" width="1" height="1" fill="#9aa6dc" opacity="0.55"/>
<rect x="535.1" y="126.4" width="2" height="1" fill="#f0a070" opacity="0.41"/>
<rect x="418.5" y="148.0" width="1" height="1" fill="#f0a070" opacity="0.47"/>
<rect x="541.2" y="256.8" width="2" height="1" fill="#7f8fd0" opacity="0.46"/>
<rect x="579.0" y="203.0" width="2" height="1" fill="#9aa6dc" opacity="0.64"/>
<rect x="458.2" y="295.9" width="2" height="1" fill="#b58fd8" opacity="0.58"/>
<rect x="453.2" y="295.1" width="1.5" height="1" fill="#e79a6a" opacity="0.44"/>
<rect x="394.4" y="194.4" width="2" height="1" fill="#7f8fd0" opacity="0.45"/>
<rect x="448.3" y="287.8" width="1.5" height="1" fill="#8fb0e0" opacity="0.62"/>
<rect x="392.5" y="242.1" width="1.5" height="1" fill="#b58fd8" opacity="0.43"/>
<rect x="531.5" y="124.2" width="1" height="1" fill="#b58fd8" opacity="0.68"/>
<rect x="495.5" y="275.5" width="1" height="1" fill="#7f8fd0" opacity="0.32"/>
<rect x="376.1" y="165.6" width="1.5" height="1" fill="#c77fc0" opacity="0.67"/>
<rect x="483.0" y="154.8" width="2" height="1" fill="#8fb0e0" opacity="0.46"/>
<rect x="421.3" y="273.0" width="1.5" height="1" fill="#8fb0e0" opacity="0.48"/>
<rect x="578.7" y="214.1" width="1.5" height="1" fill="#c77fc0" opacity="0.50"/>
<rect x="415.7" y="129.1" width="1" height="1" fill="#8fb0e0" opacity="0.65"/>
<rect x="556.1" y="189.5" width="1.5" height="1" fill="#8fb0e0" opacity="0.58"/>
<rect x="472.8" y="112.4" width="1" height="1" fill="#7f8fd0" opacity="0.45"/>
<rect x="404.6" y="284.1" width="1" height="1" fill="#9aa6dc" opacity="0.56"/>
<rect x="447.0" y="302.3" width="2" height="1" fill="#e79a6a" opacity="0.55"/>
<rect x="376.8" y="192.8" width="2" height="1" fill="#9aa6dc" opacity="0.37"/>
<rect x="414.5" y="144.2" width="1" height="1" fill="#8fb0e0" opacity="0.44"/>
<rect x="568.6" y="203.9" width="1" height="1" fill="#c77fc0" opacity="0.62"/>
<rect x="442.4" y="293.2" width="1" height="1" fill="#f0a070" opacity="0.67"/>
<rect x="396.8" y="265.0" width="1" height="1" fill="#7f8fd0" opacity="0.37"/>
<rect x="486.6" y="112.9" width="1.5" height="1" fill="#8fb0e0" opacity="0.65"/>
<rect x="545.8" y="154.1" width="2" height="1" fill="#9aa6dc" opacity="0.54"/>
<rect x="533.3" y="281.5" width="1" height="1" fill="#8fb0e0" opacity="0.31"/>
<rect x="571.9" y="256.8" width="2" height="1" fill="#c77fc0" opacity="0.62"/>
<rect x="559.6" y="241.6" width="1.5" height="1" fill="#7f8fd0" opacity="0.36"/>
<rect x="482.0" y="300.8" width="1" height="1" fill="#f0a070" opacity="0.64"/>
<rect x="568.8" y="176.2" width="1.5" height="1" fill="#7f8fd0" opacity="0.38"/>
<rect x="400.7" y="135.6" width="1" height="1" fill="#c77fc0" opacity="0.48"/>
<rect x="404.3" y="142.3" width="1" height="1" fill="#9aa6dc" opacity="0.32"/>
<rect x="567.9" y="165.3" width="2" height="1" fill="#b58fd8" opacity="0.42"/>
<rect x="404.8" y="155.8" width="1" height="1" fill="#c77fc0" opacity="0.40"/>
<rect x="402.4" y="266.5" width="2" height="1" fill="#e79a6a" opacity="0.65"/>
<rect x="387.7" y="215.9" width="1" height="1" fill="#b58fd8" opacity="0.33"/>
<rect x="520.8" y="289.0" width="2" height="1" fill="#e79a6a" opacity="0.52"/>
<rect x="547.8" y="270.3" width="2" height="1" fill="#8fb0e0" opacity="0.43"/>
<rect x="412.1" y="121.2" width="1" height="1" fill="#e79a6a" opacity="0.45"/>
<rect x="384.0" y="226.2" width="1" height="1" fill="#e79a6a" opacity="0.47"/>
<rect x="453.6" y="320.6" width="1" height="1" fill="#9aa6dc" opacity="0.34"/>
<rect x="462.7" y="304.2" width="1" height="1" fill="#b58fd8" opacity="0.52"/>
<rect x="378.6" y="227.3" width="1.5" height="1" fill="#e79a6a" opacity="0.39"/>
<rect x="402.6" y="255.6" width="1" height="1" fill="#f0a070" opacity="0.42"/>
<rect x="373.5" y="222.6" width="1" height="1" fill="#f0a070" opacity="0.68"/>
<rect x="593.8" y="206.0" width="2" height="1" fill="#8fb0e0" opacity="0.54"/>
<rect x="409.9" y="277.2" width="1" height="1" fill="#9aa6dc" opacity="0.65"/>
<rect x="555.6" y="284.3" width="1" height="1" fill="#8fb0e0" opacity="0.52"/>
<rect x="462.5" y="302.4" width="1" height="1" fill="#f0a070" opacity="0.42"/>
<rect x="410.1" y="260.2" width="1" height="1" fill="#7f8fd0" opacity="0.61"/>
<rect x="487.2" y="310.3" width="1.5" height="1" fill="#7f8fd0" opacity="0.62"/>
<rect x="481.3" y="90.6" width="1" height="1" fill="#9aa6dc" opacity="0.59"/>
<rect x="552.2" y="254.1" width="1.5" height="1" fill="#c77fc0" opacity="0.44"/>
<rect x="540.6" y="112.0" width="1" height="1" fill="#c77fc0" opacity="0.67"/>
<rect x="511.4" y="279.1" width="1.5" height="1" fill="#f0a070" opacity="0.66"/>
<rect x="585.6" y="224.8" width="2" height="1" fill="#f0a070" opacity="0.40"/>
<rect x="524.0" y="138.4" width="1.5" height="1" fill="#9aa6dc" opacity="0.35"/>
<rect x="568.5" y="151.5" width="1" height="1" fill="#f0a070" opacity="0.59"/>
<rect x="574.6" y="232.9" width="1.5" height="1" fill="#9aa6dc" opacity="0.36"/>
<rect x="467.8" y="111.9" width="1.5" height="1" fill="#8fb0e0" opacity="0.55"/>
<rect x="557.2" y="176.5" width="1.5" height="1" fill="#c77fc0" opacity="0.67"/>
<rect x="430.5" y="127.9" width="1.5" height="1" fill="#8fb0e0" opacity="0.67"/>
<rect x="549.4" y="269.3" width="1" height="1" fill="#7f8fd0" opacity="0.69"/>
<rect x="442.0" y="137.6" width="1.5" height="1" fill="#7f8fd0" opacity="0.38"/>
<rect x="557.5" y="159.4" width="2" height="1" fill="#f0a070" opacity="0.70"/>
<rect x="406.9" y="148.4" width="1.5" height="1" fill="#9aa6dc" opacity="0.51"/>
<rect x="411.9" y="293.8" width="2" height="1" fill="#e79a6a" opacity="0.50"/>
<rect x="434.1" y="126.8" width="2" height="1" fill="#9aa6dc" opacity="0.57"/>
<rect x="531.1" y="128.2" width="1" height="1" fill="#9aa6dc" opacity="0.68"/>
<rect x="512.4" y="135.7" width="1.5" height="1" fill="#8fb0e0" opacity="0.37"/>
<rect x="525.4" y="289.5" width="1" height="1" fill="#e79a6a" opacity="0.69"/>
<rect x="518.0" y="282.0" width="2" height="1" fill="#e79a6a" opacity="0.34"/>
<rect x="404.4" y="127.5" width="2" height="1" fill="#c77fc0" opacity="0.40"/>
<rect x="480.7" y="315.0" width="2" height="1" fill="#8fb0e0" opacity="0.35"/>
<rect x="415.5" y="136.2" width="1" height="1" fill="#f0a070" opacity="0.54"/>
<rect x="480.2" y="295.5" width="1" height="1" fill="#f0a070" opacity="0.52"/>
<rect x="481.9" y="105.2" width="2" height="1" fill="#8fb0e0" opacity="0.64"/>
<rect x="382.3" y="268.3" width="1" height="1" fill="#9aa6dc" opacity="0.58"/>
<rect x="567.2" y="214.5" width="1.5" height="1" fill="#e79a6a" opacity="0.38"/>
<rect x="446.2" y="117.5" width="1" height="1" fill="#c77fc0" opacity="0.36"/>
<rect x="393.1" y="236.3" width="1" height="1" fill="#8fb0e0" opacity="0.32"/>
<rect x="385.0" y="225.2" width="2" height="1" fill="#b58fd8" opacity="0.33"/>
<rect x="452.2" y="100.7" width="2" height="1" fill="#7f8fd0" opacity="0.68"/>
<rect x="381.2" y="214.2" width="1.5" height="1" fill="#b58fd8" opacity="0.30"/>
<rect x="549.9" y="166.9" width="1.5" height="1" fill="#f0a070" opacity="0.56"/>
<rect x="547.9" y="245.7" width="1" height="1" fill="#f0a070" opacity="0.31"/>
<rect x="393.5" y="269.3" width="1" height="1" fill="#f0a070" opacity="0.34"/>
<rect x="454.6" y="106.5" width="1.5" height="1" fill="#e79a6a" opacity="0.45"/>
<rect x="420.5" y="136.5" width="1.5" height="1" fill="#9aa6dc" opacity="0.64"/>
<rect x="472.7" y="308.2" width="1" height="1" fill="#7f8fd0" opacity="0.34"/>
<rect x="520.9" y="76.8" width="1" height="1" fill="#c77fc0" opacity="0.68"/>
<rect x="403.4" y="210.0" width="1" height="1" fill="#c77fc0" opacity="0.70"/>
<rect x="402.0" y="153.7" width="1" height="1" fill="#9aa6dc" opacity="0.36"/>
<rect x="415.4" y="139.8" width="1" height="1" fill="#c77fc0" opacity="0.69"/>
<rect x="526.8" y="138.2" width="1" height="1" fill="#e79a6a" opacity="0.31"/>
<rect x="400.5" y="146.5" width="2" height="1" fill="#b58fd8" opacity="0.36"/>
<rect x="577.3" y="256.2" width="1" height="1" fill="#e79a6a" opacity="0.48"/>
<rect x="423.5" y="120.7" width="1" height="1" fill="#b58fd8" opacity="0.66"/>
<rect x="522.3" y="285.2" width="1.5" height="1" fill="#8fb0e0" opacity="0.53"/>
<rect x="368.6" y="228.2" width="1.5" height="1" fill="#8fb0e0" opacity="0.51"/>
<rect x="403.3" y="241.4" width="2" height="1" fill="#9aa6dc" opacity="0.68"/>
<rect x="407.6" y="145.6" width="1" height="1" fill="#b58fd8" opacity="0.59"/>
<rect x="432.1" y="282.3" width="1.5" height="1" fill="#c77fc0" opacity="0.49"/>
<rect x="425.1" y="142.5" width="1.5" height="1" fill="#e79a6a" opacity="0.51"/>
<rect x="407.7" y="133.8" width="2" height="1" fill="#f0a070" opacity="0.58"/>
<rect x="528.7" y="277.1" width="1.5" height="1" fill="#8fb0e0" opacity="0.52"/>
<rect x="559.6" y="176.6" width="2" height="1" fill="#c77fc0" opacity="0.40"/>
<rect x="489.7" y="307.3" width="1" height="1" fill="#9aa6dc" opacity="0.39"/>
<rect x="522.7" y="131.0" width="1.5" height="1" fill="#f0a070" opacity="0.58"/>
<rect x="487.9" y="294.5" width="1" height="1" fill="#c77fc0" opacity="0.52"/>
<rect x="444.2" y="120.8" width="1" height="1" fill="#8fb0e0" opacity="0.64"/>
<rect x="445.1" y="145.7" width="2" height="1" fill="#b58fd8" opacity="0.35"/>
<rect x="401.9" y="206.1" width="1" height="1" fill="#7f8fd0" opacity="0.48"/>
<rect x="437.8" y="121.9" width="1" height="1" fill="#8fb0e0" opacity="0.69"/>
<rect x="507.5" y="290.5" width="1" height="1" fill="#e79a6a" opacity="0.46"/>
<rect x="567.6" y="235.2" width="1" height="1" fill="#7f8fd0" opacity="0.58"/>
<rect x="561.6" y="183.2" width="2" height="1" fill="#9aa6dc" opacity="0.66"/>
<rect x="558.1" y="257.5" width="1" height="1" fill="#b58fd8" opacity="0.53"/>
<rect x="562.7" y="158.5" width="1.5" height="1" fill="#f0a070" opacity="0.62"/>
<rect x="467.1" y="118.9" width="1.5" height="1" fill="#7f8fd0" opacity="0.35"/>
<rect x="409.6" y="273.2" width="2" height="1" fill="#f0a070" opacity="0.32"/>
<rect x="421.8" y="167.7" width="1.5" height="1" fill="#7f8fd0" opacity="0.52"/>
<rect x="513.2" y="99.4" width="1" height="1" fill="#f0a070" opacity="0.40"/>
<rect x="514.8" y="312.0" width="1" height="1" fill="#c77fc0" opacity="0.64"/>
<rect x="389.6" y="160.6" width="1" height="1" fill="#7f8fd0" opacity="0.62"/>
<rect x="513.6" y="295.4" width="1.5" height="1" fill="#8fb0e0" opacity="0.65"/>
<rect x="424.5" y="118.1" width="1.5" height="1" fill="#e79a6a" opacity="0.68"/>
<rect x="557.0" y="214.5" width="1" height="1" fill="#e79a6a" opacity="0.49"/>
<rect x="357.2" y="219.2" width="1" height="1" fill="#7f8fd0" opacity="0.55"/>
<rect x="413.2" y="129.8" width="2" height="1" fill="#8fb0e0" opacity="0.64"/>
<rect x="564.5" y="189.4" width="1" height="1" fill="#9aa6dc" opacity="0.44"/>
<rect x="392.6" y="193.0" width="1" height="1" fill="#e79a6a" opacity="0.54"/>
<rect x="572.7" y="234.4" width="1.5" height="1" fill="#c77fc0" opacity="0.53"/>
<rect x="394.3" y="274.7" width="1.5" height="1" fill="#e79a6a" opacity="0.30"/>
<rect x="391.7" y="163.2" width="1" height="1" fill="#c77fc0" opacity="0.55"/>
<rect x="460.8" y="112.4" width="1.5" height="1" fill="#9aa6dc" opacity="0.45"/>
<rect x="573.8" y="248.3" width="1" height="1" fill="#8fb0e0" opacity="0.70"/>
<rect x="568.2" y="227.4" width="1" height="1" fill="#8fb0e0" opacity="0.65"/>
<rect x="487.9" y="125.6" width="1.5" height="1" fill="#e79a6a" opacity="0.62"/>
<rect x="481.3" y="289.0" width="1" height="1" fill="#b58fd8" opacity="0.57"/>
<rect x="442.5" y="297.7" width="1" height="1" fill="#8fb0e0" opacity="0.44"/>
<rect x="402.5" y="184.0" width="1.5" height="1" fill="#c77fc0" opacity="0.32"/>
<rect x="433.3" y="274.5" width="1.5" height="1" fill="#c77fc0" opacity="0.66"/>
<rect x="521.6" y="90.5" width="1" height="1" fill="#e79a6a" opacity="0.35"/>
<rect x="580.0" y="212.2" width="2" height="1" fill="#c77fc0" opacity="0.53"/>
<rect x="447.0" y="287.7" width="1" height="1" fill="#9aa6dc" opacity="0.36"/>
<rect x="457.0" y="115.3" width="1.5" height="1" fill="#f0a070" opacity="0.33"/>
<rect x="515.9" y="309.3" width="1" height="1" fill="#7f8fd0" opacity="0.42"/>
<rect x="435.8" y="258.0" width="2" height="1" fill="#f0a070" opacity="0.59"/>
<rect x="565.3" y="160.2" width="2" height="1" fill="#b58fd8" opacity="0.43"/>
<rect x="523.9" y="301.9" width="1" height="1" fill="#b58fd8" opacity="0.55"/>
<rect x="482.1" y="292.4" width="1" height="1" fill="#7f8fd0" opacity="0.32"/>
<rect x="376.9" y="240.1" width="1" height="1" fill="#8fb0e0" opacity="0.38"/>
<rect x="465.9" y="119.8" width="1" height="1" fill="#9aa6dc" opacity="0.33"/>
<rect x="512.9" y="112.8" width="1" height="1" fill="#9aa6dc" opacity="0.38"/>
<rect x="389.1" y="187.6" width="1.5" height="1" fill="#7f8fd0" opacity="0.67"/>
<rect x="495.4" y="290.1" width="2" height="1" fill="#f0a070" opacity="0.46"/>
<rect x="425.9" y="107.0" width="1" height="1" fill="#e79a6a" opacity="0.32"/>
<rect x="378.7" y="263.9" width="2" height="1" fill="#e79a6a" opacity="0.70"/>
<rect x="393.7" y="265.8" width="1" height="1" fill="#c77fc0" opacity="0.31"/>
<rect x="438.2" y="288.1" width="1.5" height="1" fill="#c77fc0" opacity="0.36"/>
<rect x="561.8" y="217.5" width="1" height="1" fill="#9aa6dc" opacity="0.51"/>
<rect x="522.9" y="134.1" width="1" height="1" fill="#e79a6a" opacity="0.56"/>
<rect x="390.8" y="146.3" width="1" height="1" fill="#e79a6a" opacity="0.60"/>
<rect x="470.5" y="296.7" width="1.5" height="1" fill="#b58fd8" opacity="0.56"/>
<rect x="402.4" y="184.6" width="2" height="1" fill="#f0a070" opacity="0.52"/>
<rect x="419.3" y="272.4" width="1" height="1" fill="#e79a6a" opacity="0.52"/>
<rect x="551.3" y="261.7" width="1.5" height="1" fill="#b58fd8" opacity="0.36"/>
<rect x="427.5" y="158.6" width="1" height="1" fill="#7f8fd0" opacity="0.35"/>
<rect x="363.8" y="177.1" width="1" height="1" fill="#9aa6dc" opacity="0.40"/>
<rect x="401.1" y="150.6" width="1" height="1" fill="#b58fd8" opacity="0.51"/>
<rect x="433.5" y="262.9" width="1" height="1" fill="#f0a070" opacity="0.48"/>
<rect x="540.0" y="130.4" width="2" height="1" fill="#b58fd8" opacity="0.48"/>
<rect x="420.5" y="314.2" width="1" height="1" fill="#7f8fd0" opacity="0.56"/>
<rect x="579.8" y="217.5" width="1.5" height="1" fill="#f0a070" opacity="0.32"/>
<rect x="409.6" y="180.1" width="2" height="1" fill="#c77fc0" opacity="0.68"/>
<rect x="407.0" y="139.1" width="2" height="1" fill="#e79a6a" opacity="0.40"/>
<rect x="411.0" y="289.1" width="2" height="1" fill="#e79a6a" opacity="0.56"/>
<rect x="443.7" y="305.1" width="1" height="1" fill="#8fb0e0" opacity="0.49"/>
<rect x="562.6" y="169.7" width="1.5" height="1" fill="#b58fd8" opacity="0.68"/>
<rect x="536.7" y="277.5" width="2" height="1" fill="#7f8fd0" opacity="0.65"/>
<rect x="475.2" y="306.4" width="2" height="1" fill="#e79a6a" opacity="0.38"/>
<rect x="570.4" y="239.2" width="1.5" height="1" fill="#f0a070" opacity="0.32"/>
<rect x="485.9" y="136.7" width="1" height="1" fill="#c77fc0" opacity="0.47"/>
<rect x="547.0" y="292.6" width="1" height="1" fill="#b58fd8" opacity="0.36"/>
<rect x="550.8" y="162.1" width="1.5" height="1" fill="#9aa6dc" opacity="0.36"/>
<rect x="466.1" y="108.0" width="2" height="1" fill="#f0a070" opacity="0.34"/>
<rect x="421.6" y="290.6" width="2" height="1" fill="#f0a070" opacity="0.65"/>
<rect x="578.7" y="194.4" width="1" height="1" fill="#b58fd8" opacity="0.32"/>
<rect x="377.2" y="204.6" width="2" height="1" fill="#9aa6dc" opacity="0.58"/>
<rect x="458.8" y="90.7" width="1" height="1" fill="#7f8fd0" opacity="0.35"/>
<rect x="371.7" y="215.6" width="2" height="1" fill="#9aa6dc" opacity="0.30"/>
<rect x="488.0" y="284.4" width="1" height="1" fill="#8fb0e0" opacity="0.51"/>
<rect x="523.9" y="131.5" width="1.5" height="1" fill="#7f8fd0" opacity="0.69"/>
<rect x="538.0" y="125.9" width="1.5" height="1" fill="#7f8fd0" opacity="0.58"/>
<rect x="569.1" y="216.3" width="1" height="1" fill="#e79a6a" opacity="0.69"/>
<rect x="513.4" y="315.0" width="1.5" height="1" fill="#e79a6a" opacity="0.30"/>
<rect x="436.2" y="114.7" width="2" height="1" fill="#f0a070" opacity="0.52"/>
<rect x="395.4" y="182.8" width="1.5" height="1" fill="#b58fd8" opacity="0.46"/>
<rect x="448.3" y="264.8" width="2" height="1" fill="#c77fc0" opacity="0.69"/>
<rect x="409.2" y="262.9" width="1" height="1" fill="#9aa6dc" opacity="0.40"/>
<rect x="370.9" y="206.8" width="2" height="1" fill="#e79a6a" opacity="0.70"/>
<rect x="517.7" y="126.1" width="1" height="1" fill="#8fb0e0" opacity="0.66"/>
<rect x="562.2" y="235.0" width="1.5" height="1" fill="#f0a070" opacity="0.57"/>
<rect x="391.3" y="238.5" width="1" height="1" fill="#8fb0e0" opacity="0.49"/>
<rect x="424.2" y="141.3" width="1.5" height="1" fill="#c77fc0" opacity="0.54"/>
<rect x="572.6" y="204.3" width="2" height="1" fill="#f0a070" opacity="0.44"/>
<rect x="578.8" y="250.9" width="1.5" height="1" fill="#8fb0e0" opacity="0.55"/>
<rect x="435.9" y="129.6" width="1" height="1" fill="#8fb0e0" opacity="0.67"/>
<rect x="485.7" y="99.0" width="2" height="1" fill="#e79a6a" opacity="0.64"/>
<rect x="427.3" y="273.8" width="1" height="1" fill="#9aa6dc" opacity="0.67"/>
<rect x="388.7" y="192.1" width="1" height="1" fill="#8fb0e0" opacity="0.51"/>
<rect x="512.4" y="120.3" width="2" height="1" fill="#b58fd8" opacity="0.37"/>
<rect x="572.8" y="174.6" width="1" height="1" fill="#b58fd8" opacity="0.43"/>
<rect x="407.6" y="285.5" width="1" height="1" fill="#c77fc0" opacity="0.58"/>
<rect x="413.8" y="267.3" width="1.5" height="1" fill="#e79a6a" opacity="0.57"/>
<rect x="385.6" y="195.0" width="2" height="1" fill="#e79a6a" opacity="0.42"/>
<rect x="368.6" y="244.1" width="2" height="1" fill="#7f8fd0" opacity="0.55"/>
<rect x="462.6" y="107.7" width="1" height="1" fill="#7f8fd0" opacity="0.45"/>
<rect x="367.0" y="193.7" width="1.5" height="1" fill="#9aa6dc" opacity="0.51"/>
<rect x="505.5" y="118.6" width="1.5" height="1" fill="#7f8fd0" opacity="0.32"/>
<rect x="523.4" y="305.7" width="1.5" height="1" fill="#f0a070" opacity="0.67"/>
<rect x="471.7" y="300.3" width="2" height="1" fill="#8fb0e0" opacity="0.64"/>
<rect x="507.5" y="309.3" width="1.5" height="1" fill="#c77fc0" opacity="0.55"/>
<rect x="399.9" y="284.3" width="1" height="1" fill="#e79a6a" opacity="0.59"/>
<rect x="447.1" y="301.1" width="2" height="1" fill="#c77fc0" opacity="0.56"/>
<rect x="508.2" y="126.7" width="1" height="1" fill="#8fb0e0" opacity="0.67"/>
<rect x="512.8" y="304.0" width="1.5" height="1" fill="#b58fd8" opacity="0.33"/>
<rect x="503.8" y="300.5" width="2" height="1" fill="#c77fc0" opacity="0.46"/>
<rect x="395.7" y="253.7" width="1" height="1" fill="#f0a070" opacity="0.34"/>
<rect x="370.8" y="164.4" width="2" height="1" fill="#c77fc0" opacity="0.70"/>
<rect x="514.6" y="285.2" width="2" height="1" fill="#7f8fd0" opacity="0.46"/>
<rect x="538.4" y="278.2" width="1" height="1" fill="#9aa6dc" opacity="0.46"/>
<rect x="566.3" y="230.8" width="1.5" height="1" fill="#f0a070" opacity="0.52"/>
<rect x="486.7" y="113.4" width="1" height="1" fill="#9aa6dc" opacity="0.53"/>
<rect x="564.6" y="216.1" width="1" height="1" fill="#c77fc0" opacity="0.64"/>
<rect x="491.0" y="278.9" width="1.5" height="1" fill="#9aa6dc" opacity="0.49"/>
<rect x="571.3" y="241.3" width="2" height="1" fill="#f0a070" opacity="0.64"/>
<rect x="534.0" y="277.6" width="1" height="1" fill="#f0a070" opacity="0.43"/>
<rect x="511.0" y="297.0" width="1" height="1" fill="#7f8fd0" opacity="0.70"/>
<rect x="460.3" y="299.7" width="1.5" height="1" fill="#e79a6a" opacity="0.52"/>
<rect x="368.9" y="200.3" width="1" height="1" fill="#c77fc0" opacity="0.42"/>
<rect x="475.8" y="292.4" width="1.5" height="1" fill="#8fb0e0" opacity="0.42"/>
<rect x="545.9" y="283.1" width="1.5" height="1" fill="#9aa6dc" opacity="0.67"/>
<rect x="422.6" y="130.6" width="1.5" height="1" fill="#b58fd8" opacity="0.38"/>
<rect x="553.3" y="164.9" width="1" height="1" fill="#8fb0e0" opacity="0.59"/>
<rect x="597.7" y="213.9" width="1.5" height="1" fill="#b58fd8" opacity="0.31"/>
<rect x="495.5" y="311.6" width="1.5" height="1" fill="#c77fc0" opacity="0.38"/>
<rect x="503.3" y="313.9" width="2" height="1" fill="#c77fc0" opacity="0.38"/>
<rect x="502.0" y="294.9" width="2" height="1" fill="#9aa6dc" opacity="0.64"/>
<rect x="554.5" y="284.9" width="2" height="1" fill="#b58fd8" opacity="0.37"/>
<rect x="576.4" y="154.8" width="1" height="1" fill="#8fb0e0" opacity="0.50"/>
<rect x="432.9" y="127.9" width="1" height="1" fill="#9aa6dc" opacity="0.36"/>
<rect x="550.7" y="165.4" width="1" height="1" fill="#9aa6dc" opacity="0.49"/>
<rect x="504.7" y="300.3" width="1.5" height="1" fill="#9aa6dc" opacity="0.58"/>
<rect x="383.3" y="241.5" width="1" height="1" fill="#c77fc0" opacity="0.65"/>
<rect x="564.4" y="162.0" width="1.5" height="1" fill="#c77fc0" opacity="0.60"/>
<rect x="546.5" y="137.2" width="1.5" height="1" fill="#b58fd8" opacity="0.58"/>
<rect x="457.3" y="118.4" width="1" height="1" fill="#8fb0e0" opacity="0.36"/>
<rect x="506.9" y="109.9" width="2" height="1" fill="#9aa6dc" opacity="0.69"/>
<rect x="427.4" y="295.4" width="1" height="1" fill="#f0a070" opacity="0.38"/>
<rect x="536.9" y="289.8" width="2" height="1" fill="#9aa6dc" opacity="0.43"/>
<rect x="388.0" y="268.3" width="1" height="1" fill="#f0a070" opacity="0.70"/>
<rect x="566.6" y="171.6" width="1" height="1" fill="#8fb0e0" opacity="0.42"/>
<rect x="419.6" y="284.3" width="1" height="1" fill="#7f8fd0" opacity="0.49"/>
<rect x="528.8" y="146.9" width="1" height="1" fill="#8fb0e0" opacity="0.38"/>
<rect x="378.4" y="225.3" width="1.5" height="1" fill="#9aa6dc" opacity="0.31"/>
<rect x="413.4" y="164.3" width="1.5" height="1" fill="#7f8fd0" opacity="0.38"/>
<rect x="529.0" y="282.5" width="2" height="1" fill="#e79a6a" opacity="0.49"/>
<rect x="425.6" y="296.1" width="1" height="1" fill="#e79a6a" opacity="0.34"/>
<rect x="525.8" y="119.7" width="1" height="1" fill="#c77fc0" opacity="0.60"/>
<rect x="534.2" y="257.3" width="2" height="1" fill="#9aa6dc" opacity="0.48"/>
<rect x="563.6" y="226.2" width="1" height="1" fill="#f0a070" opacity="0.47"/>
<rect x="524.8" y="127.6" width="1.5" height="1" fill="#7f8fd0" opacity="0.59"/>
<rect x="466.6" y="124.8" width="1.5" height="1" fill="#7f8fd0" opacity="0.30"/>
<rect x="407.7" y="122.7" width="2" height="1" fill="#b58fd8" opacity="0.42"/>
<rect x="467.7" y="308.1" width="2" height="1" fill="#9aa6dc" opacity="0.41"/>
<rect x="376.9" y="182.1" width="2" height="1" fill="#e79a6a" opacity="0.40"/>
<rect x="379.6" y="164.7" width="1.5" height="1" fill="#9aa6dc" opacity="0.46"/>
<rect x="503.4" y="299.8" width="1" height="1" fill="#9aa6dc" opacity="0.59"/>
<rect x="380.9" y="187.0" width="1" height="1" fill="#7f8fd0" opacity="0.50"/>
<rect x="500.9" y="111.5" width="1" height="1" fill="#8fb0e0" opacity="0.58"/>
<rect x="487.5" y="300.8" width="1" height="1" fill="#e79a6a" opacity="0.47"/>
<rect x="411.7" y="146.1" width="1.5" height="1" fill="#7f8fd0" opacity="0.53"/>
<rect x="541.5" y="269.3" width="1" height="1" fill="#9aa6dc" opacity="0.63"/>
<rect x="554.6" y="246.1" width="1" height="1" fill="#e79a6a" opacity="0.32"/>
<rect x="410.1" y="149.1" width="1" height="1" fill="#e79a6a" opacity="0.62"/>
<rect x="401.7" y="225.1" width="1" height="1" fill="#9aa6dc" opacity="0.43"/>
<rect x="562.9" y="167.9" width="1" height="1" fill="#b58fd8" opacity="0.36"/>
<rect x="382.2" y="201.0" width="1" height="1" fill="#9aa6dc" opacity="0.62"/>
<rect x="488.1" y="106.6" width="1.5" height="1" fill="#f0a070" opacity="0.58"/>
<rect x="586.5" y="256.3" width="2" height="1" fill="#7f8fd0" opacity="0.32"/>
<rect x="382.4" y="192.8" width="1" height="1" fill="#8fb0e0" opacity="0.38"/>
<rect x="404.4" y="138.2" width="1.5" height="1" fill="#b58fd8" opacity="0.61"/>
<rect x="553.4" y="257.9" width="2" height="1" fill="#9aa6dc" opacity="0.57"/>
<rect x="472.6" y="124.1" width="1.5" height="1" fill="#9aa6dc" opacity="0.63"/>
<rect x="578.7" y="165.1" width="1" height="1" fill="#b58fd8" opacity="0.47"/>
<rect x="513.6" y="133.5" width="1.5" height="1" fill="#b58fd8" opacity="0.60"/>
<rect x="403.1" y="160.5" width="1.5" height="1" fill="#7f8fd0" opacity="0.60"/>
<rect x="522.1" y="141.8" width="1" height="1" fill="#9aa6dc" opacity="0.54"/>
<rect x="375.7" y="167.8" width="1" height="1" fill="#f0a070" opacity="0.46"/>
<rect x="493.0" y="126.0" width="1.5" height="1" fill="#b58fd8" opacity="0.63"/>
<rect x="382.8" y="267.9" width="1.5" height="1" fill="#b58fd8" opacity="0.57"/>
<rect x="561.6" y="149.2" width="1.5" height="1" fill="#c77fc0" opacity="0.30"/>
<rect x="373.5" y="214.4" width="2" height="1" fill="#b58fd8" opacity="0.47"/>
<rect x="398.6" y="149.6" width="1" height="1" fill="#c77fc0" opacity="0.43"/>
<rect x="493.6" y="285.7" width="1" height="1" fill="#8fb0e0" opacity="0.42"/>
<rect x="572.4" y="266.4" width="1" height="1" fill="#e79a6a" opacity="0.58"/>
<rect x="396.1" y="237.0" width="1" height="1" fill="#7f8fd0" opacity="0.57"/>
<rect x="549.9" y="227.1" width="1" height="1" fill="#b58fd8" opacity="0.46"/>
<rect x="425.2" y="292.8" width="2" height="1" fill="#e79a6a" opacity="0.42"/>
<rect x="432.5" y="298.3" width="1" height="1" fill="#8fb0e0" opacity="0.64"/>
<rect x="567.9" y="189.1" width="1" height="1" fill="#b58fd8" opacity="0.34"/>
<rect x="477.5" y="302.6" width="1.5" height="1" fill="#8fb0e0" opacity="0.59"/>
<rect x="423.4" y="106.3" width="2" height="1" fill="#b58fd8" opacity="0.35"/>
<rect x="477.0" y="115.3" width="2" height="1" fill="#e79a6a" opacity="0.33"/>
<rect x="426.9" y="160.9" width="1.5" height="1" fill="#e79a6a" opacity="0.56"/>
<rect x="403.1" y="130.6" width="1" height="1" fill="#c77fc0" opacity="0.66"/>
<rect x="400.5" y="208.4" width="1" height="1" fill="#7f8fd0" opacity="0.52"/>
<rect x="360.7" y="245.7" width="1" height="1" fill="#b58fd8" opacity="0.59"/>
<rect x="474.9" y="103.2" width="1" height="1" fill="#9aa6dc" opacity="0.68"/>
<rect x="551.3" y="146.7" width="1" height="1" fill="#9aa6dc" opacity="0.54"/>
<rect x="379.8" y="158.6" width="1.5" height="1" fill="#f0a070" opacity="0.55"/>
<rect x="480.2" y="304.8" width="1" height="1" fill="#b58fd8" opacity="0.47"/>
<rect x="557.3" y="196.4" width="2" height="1" fill="#f0a070" opacity="0.50"/>
<rect x="552.5" y="195.3" width="1.5" height="1" fill="#e79a6a" opacity="0.43"/>
<rect x="521.2" y="129.3" width="1.5" height="1" fill="#8fb0e0" opacity="0.66"/>
<rect x="504.2" y="297.2" width="1" height="1" fill="#b58fd8" opacity="0.36"/>
<rect x="467.6" y="108.8" width="1.5" height="1" fill="#7f8fd0" opacity="0.69"/>
<rect x="492.8" y="106.0" width="1" height="1" fill="#e79a6a" opacity="0.41"/>
<rect x="536.6" y="158.3" width="2" height="1" fill="#c77fc0" opacity="0.34"/>
<rect x="468.7" y="304.0" width="1.5" height="1" fill="#c77fc0" opacity="0.45"/>
<rect x="567.7" y="186.4" width="2" height="1" fill="#8fb0e0" opacity="0.50"/>
<rect x="387.8" y="263.1" width="1.5" height="1" fill="#9aa6dc" opacity="0.32"/>
<rect x="460.8" y="283.4" width="2" height="1" fill="#b58fd8" opacity="0.60"/>
<rect x="460.4" y="296.6" width="2" height="1" fill="#e79a6a" opacity="0.51"/>
<rect x="453.6" y="292.8" width="1" height="1" fill="#b58fd8" opacity="0.32"/>
<rect x="516.3" y="130.0" width="1.5" height="1" fill="#8fb0e0" opacity="0.44"/>
<rect x="563.4" y="173.1" width="1" height="1" fill="#7f8fd0" opacity="0.60"/>
<rect x="429.2" y="115.0" width="1" height="1" fill="#c77fc0" opacity="0.67"/>
<rect x="527.7" y="296.0" width="1" height="1" fill="#f0a070" opacity="0.61"/>
<rect x="385.8" y="275.8" width="1.5" height="1" fill="#b58fd8" opacity="0.46"/>
<rect x="391.5" y="207.6" width="1" height="1" fill="#f0a070" opacity="0.51"/>
<rect x="359.5" y="192.3" width="1.5" height="1" fill="#f0a070" opacity="0.35"/>
<rect x="418.2" y="296.8" width="1" height="1" fill="#8fb0e0" opacity="0.64"/>
<rect x="425.1" y="121.4" width="2" height="1" fill="#8fb0e0" opacity="0.46"/>
<rect x="392.2" y="167.0" width="1" height="1" fill="#b58fd8" opacity="0.36"/>
<rect x="418.7" y="104.8" width="1" height="1" fill="#b58fd8" opacity="0.50"/>
<rect x="564.9" y="142.1" width="2" height="1" fill="#b58fd8" opacity="0.65"/>
<rect x="532.2" y="268.1" width="2" height="1" fill="#f0a070" opacity="0.54"/>
<rect x="457.6" y="314.8" width="1.5" height="1" fill="#b58fd8" opacity="0.54"/>
<rect x="559.5" y="150.3" width="1" height="1" fill="#e79a6a" opacity="0.44"/>
<rect x="384.5" y="166.5" width="1" height="1" fill="#7f8fd0" opacity="0.35"/>
<rect x="564.0" y="181.5" width="1" height="1" fill="#9aa6dc" opacity="0.48"/>
<rect x="482.2" y="126.9" width="1" height="1" fill="#c77fc0" opacity="0.32"/>
<rect x="522.0" y="120.3" width="2" height="1" fill="#7f8fd0" opacity="0.39"/>
<rect x="413.0" y="143.3" width="1" height="1" fill="#8fb0e0" opacity="0.39"/>
<rect x="503.3" y="108.3" width="1.5" height="1" fill="#9aa6dc" opacity="0.64"/>
<rect x="508.6" y="122.4" width="1" height="1" fill="#b58fd8" opacity="0.31"/>
<rect x="379.7" y="204.8" width="1.5" height="1" fill="#c77fc0" opacity="0.33"/>
<rect x="411.0" y="140.7" width="2" height="1" fill="#c77fc0" opacity="0.50"/>
<rect x="406.9" y="165.9" width="1" height="1" fill="#9aa6dc" opacity="0.62"/>
<rect x="551.9" y="188.8" width="2" height="1" fill="#7f8fd0" opacity="0.53"/>
<rect x="359.8" y="259.5" width="2" height="1" fill="#f0a070" opacity="0.38"/>
<rect x="399.1" y="141.4" width="1" height="1" fill="#b58fd8" opacity="0.33"/>
<rect x="555.5" y="148.2" width="2" height="1" fill="#7f8fd0" opacity="0.61"/>
<rect x="498.8" y="117.3" width="1.5" height="1" fill="#9aa6dc" opacity="0.60"/>
<rect x="546.4" y="183.9" width="1" height="1" fill="#f0a070" opacity="0.33"/>
<rect x="508.0" y="320.4" width="1.5" height="1" fill="#f0a070" opacity="0.52"/>
<rect x="406.9" y="138.5" width="1.5" height="1" fill="#8fb0e0" opacity="0.70"/>
<rect x="439.6" y="302.5" width="2" height="1" fill="#e79a6a" opacity="0.66"/>
<rect x="507.9" y="117.0" width="1" height="1" fill="#c77fc0" opacity="0.44"/>
<rect x="525.0" y="146.8" width="1" height="1" fill="#c77fc0" opacity="0.66"/>
<rect x="506.9" y="99.4" width="1" height="1" fill="#c77fc0" opacity="0.64"/>
<rect x="380.6" y="190.9" width="1.5" height="1" fill="#e79a6a" opacity="0.56"/>
<rect x="574.7" y="167.0" width="1.5" height="1" fill="#9aa6dc" opacity="0.68"/>
<rect x="552.5" y="198.2" width="1" height="1" fill="#c77fc0" opacity="0.62"/>
<rect x="531.2" y="122.3" width="1" height="1" fill="#9aa6dc" opacity="0.31"/>
<rect x="494.3" y="289.6" width="1" height="1" fill="#7f8fd0" opacity="0.49"/>
<rect x="561.7" y="231.2" width="1" height="1" fill="#8fb0e0" opacity="0.64"/>
<rect x="430.9" y="277.1" width="1" height="1" fill="#b58fd8" opacity="0.30"/>
<rect x="500.7" y="293.2" width="2" height="1" fill="#e79a6a" opacity="0.65"/>
<rect x="570.3" y="273.6" width="2" height="1" fill="#c77fc0" opacity="0.53"/>
<rect x="541.6" y="171.9" width="2" height="1" fill="#f0a070" opacity="0.60"/>
<rect x="392.3" y="169.3" width="2" height="1" fill="#9aa6dc" opacity="0.56"/>
<rect x="521.9" y="153.2" width="2" height="1" fill="#9aa6dc" opacity="0.58"/>
<rect x="364.3" y="227.0" width="2" height="1" fill="#8fb0e0" opacity="0.33"/>
<rect x="483.3" y="321.3" width="1" height="1" fill="#9aa6dc" opacity="0.46"/>
<rect x="499.5" y="108.8" width="1" height="1" fill="#f0a070" opacity="0.40"/>
<rect x="542.7" y="164.2" width="1" height="1" fill="#9aa6dc" opacity="0.32"/>
<rect x="568.1" y="236.3" width="1" height="1" fill="#9aa6dc" opacity="0.67"/>
<rect x="395.4" y="114.8" width="1.5" height="1" fill="#c77fc0" opacity="0.32"/>
<rect x="410.1" y="220.5" width="1" height="1" fill="#b58fd8" opacity="0.37"/>
<rect x="510.1" y="115.7" width="1.5" height="1" fill="#9aa6dc" opacity="0.34"/>
<rect x="501.8" y="96.3" width="1" height="1" fill="#7f8fd0" opacity="0.64"/>
<rect x="400.9" y="180.9" width="1" height="1" fill="#b58fd8" opacity="0.50"/>
<rect x="418.0" y="155.1" width="1" height="1" fill="#7f8fd0" opacity="0.56"/>
<rect x="412.1" y="153.1" width="2" height="1" fill="#c77fc0" opacity="0.57"/>
<rect x="383.9" y="172.2" width="2" height="1" fill="#8fb0e0" opacity="0.38"/>
<rect x="448.1" y="109.6" width="1" height="1" fill="#f0a070" opacity="0.57"/>
<rect x="566.6" y="198.0" width="1.5" height="1" fill="#8fb0e0" opacity="0.57"/>
<rect x="553.9" y="255.1" width="1" height="1" fill="#9aa6dc" opacity="0.34"/>
<rect x="461.1" y="297.0" width="1.5" height="1" fill="#c77fc0" opacity="0.61"/>
<rect x="580.3" y="212.0" width="1" height="1" fill="#7f8fd0" opacity="0.35"/>
<rect x="445.2" y="130.3" width="2" height="1" fill="#c77fc0" opacity="0.67"/>
<rect x="396.9" y="168.8" width="1" height="1" fill="#9aa6dc" opacity="0.67"/>
<rect x="524.7" y="127.7" width="1" height="1" fill="#f0a070" opacity="0.64"/>
<rect x="390.6" y="245.9" width="1" height="1" fill="#7f8fd0" opacity="0.55"/>
<rect x="449.2" y="297.9" width="1.5" height="1" fill="#b58fd8" opacity="0.64"/>
<rect x="575.8" y="225.3" width="1" height="1" fill="#c77fc0" opacity="0.36"/>
<rect x="533.5" y="301.7" width="1.5" height="1" fill="#c77fc0" opacity="0.41"/>
<rect x="475.1" y="295.9" width="1" height="1" fill="#c77fc0" opacity="0.44"/>
<rect x="395.8" y="185.5" width="1" height="1" fill="#7f8fd0" opacity="0.66"/>
<rect x="506.3" y="100.8" width="1" height="1" fill="#8fb0e0" opacity="0.34"/>
<rect x="515.8" y="129.5" width="1" height="1" fill="#e79a6a" opacity="0.51"/>
<rect x="583.9" y="184.1" width="1" height="1" fill="#9aa6dc" opacity="0.51"/>
<rect x="434.7" y="153.2" width="1" height="1" fill="#c77fc0" opacity="0.56"/>
<rect x="492.8" y="293.2" width="1" height="1" fill="#b58fd8" opacity="0.59"/>
<rect x="368.3" y="255.6" width="2" height="1" fill="#8fb0e0" opacity="0.55"/>
<rect x="533.0" y="305.6" width="1.5" height="1" fill="#f0a070" opacity="0.60"/>
<rect x="475.9" y="301.5" width="1" height="1" fill="#f0a070" opacity="0.56"/>
<rect x="402.2" y="142.0" width="1" height="1" fill="#f0a070" opacity="0.56"/>
<rect x="399.4" y="155.2" width="1" height="1" fill="#7f8fd0" opacity="0.51"/>
<rect x="552.4" y="245.2" width="1" height="1" fill="#7f8fd0" opacity="0.52"/>
<rect x="459.9" y="123.1" width="2" height="1" fill="#e79a6a" opacity="0.37"/>
<rect x="543.3" y="256.2" width="2" height="1" fill="#e79a6a" opacity="0.46"/>
<rect x="446.2" y="136.7" width="2" height="1" fill="#7f8fd0" opacity="0.44"/>
<rect x="525.7" y="120.1" width="2" height="1" fill="#7f8fd0" opacity="0.63"/>
<rect x="491.2" y="313.4" width="1.5" height="1" fill="#f0a070" opacity="0.41"/>
<rect x="553.8" y="212.3" width="1" height="1" fill="#9aa6dc" opacity="0.66"/>
<rect x="522.7" y="279.2" width="1.5" height="1" fill="#f0a070" opacity="0.37"/>
<rect x="526.2" y="271.0" width="1" height="1" fill="#7f8fd0" opacity="0.45"/>
<rect x="424.1" y="136.8" width="1.5" height="1" fill="#7f8fd0" opacity="0.31"/>
<rect x="530.5" y="135.1" width="1.5" height="1" fill="#9aa6dc" opacity="0.45"/>
<rect x="456.2" y="101.6" width="1.5" height="1" fill="#e79a6a" opacity="0.45"/>
<rect x="364.0" y="191.6" width="1" height="1" fill="#7f8fd0" opacity="0.66"/>
<rect x="524.4" y="290.3" width="1" height="1" fill="#7f8fd0" opacity="0.56"/>
<rect x="526.6" y="163.8" width="2" height="1" fill="#b58fd8" opacity="0.64"/>
<rect x="480.9" y="308.6" width="1" height="1" fill="#7f8fd0" opacity="0.34"/>
<rect x="410.3" y="269.0" width="1" height="1" fill="#e79a6a" opacity="0.41"/>
<rect x="386.1" y="222.7" width="2" height="1" fill="#8fb0e0" opacity="0.34"/>
<rect x="546.2" y="271.2" width="1" height="1" fill="#c77fc0" opacity="0.66"/>
<rect x="382.8" y="253.0" width="1.5" height="1" fill="#e79a6a" opacity="0.48"/>
<rect x="481.8" y="304.2" width="1" height="1" fill="#e79a6a" opacity="0.33"/>
<rect x="491.5" y="299.6" width="2" height="1" fill="#b58fd8" opacity="0.34"/>
<rect x="550.6" y="180.1" width="1" height="1" fill="#8fb0e0" opacity="0.40"/>
<rect x="523.5" y="294.8" width="2" height="1" fill="#7f8fd0" opacity="0.41"/>
<rect x="554.8" y="167.1" width="1" height="1" fill="#c77fc0" opacity="0.33"/>
<rect x="386.4" y="233.9" width="1.5" height="1" fill="#f0a070" opacity="0.33"/>
<rect x="445.2" y="110.5" width="2" height="1" fill="#c77fc0" opacity="0.40"/>
<rect x="394.4" y="202.8" width="2" height="1" fill="#7f8fd0" opacity="0.57"/>
<rect x="553.6" y="223.3" width="1" height="1" fill="#f0a070" opacity="0.61"/>
<rect x="422.1" y="120.5" width="1.5" height="1" fill="#c77fc0" opacity="0.60"/>
<rect x="540.4" y="127.3" width="1" height="1" fill="#e79a6a" opacity="0.58"/>
<rect x="552.0" y="214.9" width="1" height="1" fill="#c77fc0" opacity="0.64"/>
<rect x="452.9" y="304.0" width="1" height="1" fill="#9aa6dc" opacity="0.42"/>
<rect x="436.9" y="295.3" width="1" height="1" fill="#7f8fd0" opacity="0.31"/>
<rect x="570.0" y="176.2" width="1" height="1" fill="#9aa6dc" opacity="0.49"/>
<rect x="366.1" y="199.7" width="1" height="1" fill="#9aa6dc" opacity="0.38"/>
<rect x="385.0" y="224.1" width="2" height="1" fill="#e79a6a" opacity="0.41"/>
<rect x="569.9" y="192.7" width="1.5" height="1" fill="#9aa6dc" opacity="0.47"/>
<rect x="451.3" y="119.4" width="1.5" height="1" fill="#8fb0e0" opacity="0.61"/>
<rect x="482.2" y="304.9" width="1.5" height="1" fill="#b58fd8" opacity="0.54"/>
<rect x="386.0" y="221.3" width="2" height="1" fill="#8fb0e0" opacity="0.36"/>
<rect x="482.1" y="323.1" width="1" height="1" fill="#9aa6dc" opacity="0.70"/>
<rect x="552.2" y="293.6" width="1" height="1" fill="#e79a6a" opacity="0.37"/>
<rect x="372.9" y="260.2" width="2" height="1" fill="#b58fd8" opacity="0.40"/>
<rect x="378.5" y="162.9" width="1" height="1" fill="#9aa6dc" opacity="0.68"/>
<rect x="462.2" y="312.1" width="2" height="1" fill="#7f8fd0" opacity="0.67"/>
<rect x="547.7" y="262.1" width="1.5" height="1" fill="#7f8fd0" opacity="0.33"/>
<rect x="477.2" y="110.5" width="2" height="1" fill="#7f8fd0" opacity="0.64"/>
<rect x="510.7" y="114.0" width="1" height="1" fill="#f0a070" opacity="0.48"/>
<rect x="396.8" y="207.7" width="1" height="1" fill="#e79a6a" opacity="0.47"/>
<rect x="397.5" y="157.8" width="2" height="1" fill="#e79a6a" opacity="0.37"/>
<rect x="441.0" y="119.9" width="1.5" height="1" fill="#e79a6a" opacity="0.57"/>
<rect x="568.9" y="253.2" width="1" height="1" fill="#f0a070" opacity="0.55"/>
<rect x="390.5" y="222.4" width="2" height="1" fill="#7f8fd0" opacity="0.49"/>
<rect x="441.3" y="139.6" width="1" height="1" fill="#f0a070" opacity="0.49"/>
<rect x="417.1" y="320.1" width="1" height="1" fill="#7f8fd0" opacity="0.52"/>
<rect x="401.8" y="258.9" width="1" height="1" fill="#9aa6dc" opacity="0.45"/>
<rect x="452.7" y="126.3" width="1" height="1" fill="#e79a6a" opacity="0.70"/>
<rect x="407.6" y="127.9" width="1" height="1" fill="#e79a6a" opacity="0.31"/>
<rect x="531.2" y="270.8" width="2" height="1" fill="#7f8fd0" opacity="0.53"/>
<rect x="571.3" y="171.8" width="1.5" height="1" fill="#8fb0e0" opacity="0.44"/>
<rect x="479.6" y="122.0" width="1" height="1" fill="#f0a070" opacity="0.57"/>
<rect x="497.5" y="95.8" width="1.5" height="1" fill="#c77fc0" opacity="0.35"/>
<rect x="411.7" y="142.0" width="1" height="1" fill="#9aa6dc" opacity="0.58"/>
<rect x="583.2" y="184.7" width="1.5" height="1" fill="#9aa6dc" opacity="0.61"/>
<rect x="445.1" y="296.1" width="2" height="1" fill="#8fb0e0" opacity="0.64"/>
<rect x="558.7" y="125.6" width="1" height="1" fill="#8fb0e0" opacity="0.38"/>
<rect x="551.8" y="214.6" width="1" height="1" fill="#e79a6a" opacity="0.33"/>
<rect x="566.8" y="210.2" width="1" height="1" fill="#9aa6dc" opacity="0.58"/>
<rect x="572.2" y="209.9" width="1" height="1" fill="#f0a070" opacity="0.31"/>
<rect x="554.4" y="275.4" width="1" height="1" fill="#7f8fd0" opacity="0.36"/>
<rect x="431.3" y="279.6" width="2" height="1" fill="#c77fc0" opacity="0.65"/>
<rect x="427.9" y="287.8" width="1.5" height="1" fill="#7f8fd0" opacity="0.36"/>
<rect x="544.5" y="251.6" width="1" height="1" fill="#e79a6a" opacity="0.62"/>
<rect x="464.0" y="126.9" width="2" height="1" fill="#e79a6a" opacity="0.36"/>
<rect x="382.1" y="136.7" width="1" height="1" fill="#b58fd8" opacity="0.64"/>
<rect x="391.3" y="250.7" width="1" height="1" fill="#e79a6a" opacity="0.39"/>
<rect x="503.5" y="115.9" width="1" height="1" fill="#8fb0e0" opacity="0.38"/>
<rect x="451.1" y="121.5" width="2" height="1" fill="#b58fd8" opacity="0.62"/>
<rect x="488.0" y="315.3" width="2" height="1" fill="#8fb0e0" opacity="0.36"/>
<rect x="512.3" y="304.5" width="1" height="1" fill="#8fb0e0" opacity="0.34"/>
<rect x="410.7" y="137.0" width="1.5" height="1" fill="#c77fc0" opacity="0.59"/>
<rect x="578.3" y="227.4" width="1" height="1" fill="#f0a070" opacity="0.39"/>
<rect x="453.6" y="287.4" width="1" height="1" fill="#8fb0e0" opacity="0.66"/>
<rect x="498.0" y="284.5" width="1.5" height="1" fill="#e79a6a" opacity="0.35"/>
<rect x="554.0" y="239.3" width="1.5" height="1" fill="#f0a070" opacity="0.46"/>
<rect x="377.5" y="193.7" width="1" height="1" fill="#e79a6a" opacity="0.61"/>
<rect x="437.7" y="291.1" width="1" height="1" fill="#9aa6dc" opacity="0.37"/>
<rect x="402.0" y="131.9" width="2" height="1" fill="#9aa6dc" opacity="0.31"/>
<rect x="432.0" y="296.2" width="1.5" height="1" fill="#b58fd8" opacity="0.57"/>
<rect x="398.5" y="218.7" width="1" height="1" fill="#e79a6a" opacity="0.34"/>
<rect x="552.4" y="243.2" width="1" height="1" fill="#e79a6a" opacity="0.48"/>
<rect x="537.9" y="125.1" width="2" height="1" fill="#f0a070" opacity="0.61"/>
<rect x="426.5" y="257.0" width="1" height="1" fill="#e79a6a" opacity="0.34"/>
<rect x="374.0" y="235.8" width="1.5" height="1" fill="#f0a070" opacity="0.35"/>
<rect x="544.4" y="123.4" width="2" height="1" fill="#7f8fd0" opacity="0.57"/>
<rect x="563.5" y="227.0" width="1" height="1" fill="#f0a070" opacity="0.64"/>
<rect x="428.0" y="134.4" width="2" height="1" fill="#9aa6dc" opacity="0.58"/>
<rect x="452.0" y="103.9" width="1" height="1" fill="#f0a070" opacity="0.31"/>
<rect x="550.0" y="160.7" width="1" height="1" fill="#f0a070" opacity="0.43"/>
<rect x="509.7" y="133.5" width="2" height="1" fill="#8fb0e0" opacity="0.37"/>
<rect x="519.8" y="292.0" width="1.5" height="1" fill="#e79a6a" opacity="0.35"/>
<rect x="478.8" y="289.2" width="1" height="1" fill="#8fb0e0" opacity="0.34"/>
<rect x="581.6" y="168.4" width="2" height="1" fill="#c77fc0" opacity="0.39"/>
<rect x="510.3" y="287.5" width="1.5" height="1" fill="#b58fd8" opacity="0.60"/>
<rect x="394.9" y="269.8" width="1" height="1" fill="#f0a070" opacity="0.67"/>
<rect x="359.0" y="213.9" width="1.5" height="1" fill="#b58fd8" opacity="0.62"/>
<rect x="547.9" y="220.0" width="1" height="1" fill="#f0a070" opacity="0.69"/>
<rect x="404.5" y="146.3" width="1" height="1" fill="#e79a6a" opacity="0.59"/>
<rect x="526.6" y="136.7" width="1" height="1" fill="#7f8fd0" opacity="0.65"/>
<rect x="403.8" y="172.0" width="1.5" height="1" fill="#7f8fd0" opacity="0.54"/>
<rect x="560.7" y="146.0" width="1.5" height="1" fill="#b58fd8" opacity="0.63"/>
<rect x="465.7" y="298.0" width="1.5" height="1" fill="#e79a6a" opacity="0.45"/>
<rect x="419.7" y="279.3" width="1" height="1" fill="#9aa6dc" opacity="0.66"/>
<rect x="390.4" y="259.7" width="1" height="1" fill="#f0a070" opacity="0.63"/>
<rect x="402.7" y="137.1" width="1.5" height="1" fill="#f0a070" opacity="0.69" transform="rotate(38 402.7 137.1)"/>
<rect x="404.7" y="156.4" width="2.5" height="1" fill="#c77fc0" opacity="0.73" transform="rotate(-44 404.7 156.4)"/>
<rect x="395.2" y="137.5" width="1" height="1" fill="#b58fd8" opacity="0.51" transform="rotate(41 395.2 137.5)"/>
<rect x="418.3" y="121.2" width="1" height="1" fill="#9aa6dc" opacity="0.71" transform="rotate(41 418.3 121.2)"/>
<rect x="431.8" y="136.5" width="2.5" height="1" fill="#c77fc0" opacity="0.70" transform="rotate(44 431.8 136.5)"/>
<rect x="407.3" y="150.0" width="1" height="1" fill="#9aa6dc" opacity="0.40" transform="rotate(-21 407.3 150.0)"/>
<rect x="424.7" y="143.2" width="2" height="1" fill="#9aa6dc" opacity="0.38" transform="rotate(-52 424.7 143.2)"/>
<rect x="404.6" y="132.6" width="2.5" height="1" fill="#c77fc0" opacity="0.49" transform="rotate(-3 404.6 132.6)"/>
<rect x="393.5" y="151.1" width="2.5" height="1" fill="#8fb0e0" opacity="0.49" transform="rotate(-19 393.5 151.1)"/>
<rect x="414.7" y="124.4" width="1" height="1" fill="#e79a6a" opacity="0.62" transform="rotate(60 414.7 124.4)"/>
<rect x="408.3" y="137.4" width="2.5" height="1" fill="#c77fc0" opacity="0.36" transform="rotate(55 408.3 137.4)"/>
<rect x="406.1" y="147.6" width="2" height="1" fill="#8fb0e0" opacity="0.77" transform="rotate(19 406.1 147.6)"/>
<rect x="415.7" y="127.6" width="1" height="1" fill="#8fb0e0" opacity="0.56" transform="rotate(8 415.7 127.6)"/>
<rect x="410.9" y="140.9" width="1.5" height="1" fill="#7f8fd0" opacity="0.59" transform="rotate(38 410.9 140.9)"/>
<rect x="407.5" y="129.8" width="1" height="1" fill="#9aa6dc" opacity="0.45" transform="rotate(46 407.5 129.8)"/>
<rect x="416.9" y="139.4" width="1" height="1" fill="#c77fc0" opacity="0.77" transform="rotate(-36 416.9 139.4)"/>
<rect x="401.8" y="149.5" width="1.5" height="1" fill="#f0a070" opacity="0.57" transform="rotate(30 401.8 149.5)"/>
<rect x="427.6" y="141.5" width="2.5" height="1" fill="#8fb0e0" opacity="0.80" transform="rotate(7 427.6 141.5)"/>
<rect x="407.0" y="133.2" width="1" height="1" fill="#f0a070" opacity="0.74" transform="rotate(-17 407.0 133.2)"/>
<rect x="411.8" y="136.5" width="1.5" height="1" fill="#7f8fd0" opacity="0.58" transform="rotate(52 411.8 136.5)"/>
<rect x="399.2" y="137.7" width="2.5" height="1" fill="#f0a070" opacity="0.71" transform="rotate(-9 399.2 137.7)"/>
<rect x="398.1" y="134.8" width="1.5" height="1" fill="#e79a6a" opacity="0.54" transform="rotate(2 398.1 134.8)"/>
<rect x="400.2" y="141.0" width="2" height="1" fill="#7f8fd0" opacity="0.76" transform="rotate(-40 400.2 141.0)"/>
<rect x="407.8" y="126.4" width="1.5" height="1" fill="#9aa6dc" opacity="0.45" transform="rotate(-39 407.8 126.4)"/>
<rect x="426.3" y="118.0" width="1" height="1" fill="#f0a070" opacity="0.69" transform="rotate(25 426.3 118.0)"/>
<rect x="402.8" y="131.3" width="2.5" height="1" fill="#b58fd8" opacity="0.77" transform="rotate(-54 402.8 131.3)"/>
<rect x="416.4" y="135.8" width="1" height="1" fill="#7f8fd0" opacity="0.75" transform="rotate(7 416.4 135.8)"/>
<rect x="396.5" y="145.0" width="1.5" height="1" fill="#9aa6dc" opacity="0.80" transform="rotate(-20 396.5 145.0)"/>
<rect x="405.9" y="131.6" width="1.5" height="1" fill="#9aa6dc" opacity="0.42" transform="rotate(-11 405.9 131.6)"/>
<rect x="398.0" y="133.6" width="1.5" height="1" fill="#9aa6dc" opacity="0.55" transform="rotate(-43 398.0 133.6)"/>
<rect x="400.1" y="136.9" width="1.5" height="1" fill="#e79a6a" opacity="0.54" transform="rotate(41 400.1 136.9)"/>
<rect x="406.8" y="125.1" width="2" height="1" fill="#c77fc0" opacity="0.56" transform="rotate(-36 406.8 125.1)"/>
<rect x="399.8" y="136.6" width="1.5" height="1" fill="#9aa6dc" opacity="0.38" transform="rotate(24 399.8 136.6)"/>
<rect x="416.1" y="137.7" width="2.5" height="1" fill="#e79a6a" opacity="0.50" transform="rotate(25 416.1 137.7)"/>
<rect x="413.7" y="126.4" width="1" height="1" fill="#c77fc0" opacity="0.37" transform="rotate(34 413.7 126.4)"/>
<rect x="391.8" y="141.9" width="2.5" height="1" fill="#f0a070" opacity="0.78" transform="rotate(14 391.8 141.9)"/>
<rect x="414.0" y="153.6" width="1" height="1" fill="#f0a070" opacity="0.78" transform="rotate(-43 414.0 153.6)"/>
<rect x="390.4" y="156.3" width="2" height="1" fill="#b58fd8" opacity="0.62" transform="rotate(21 390.4 156.3)"/>
<rect x="390.5" y="162.8" width="2.5" height="1" fill="#8fb0e0" opacity="0.64" transform="rotate(-26 390.5 162.8)"/>
<rect x="420.9" y="158.3" width="2" height="1" fill="#7f8fd0" opacity="0.71" transform="rotate(-7 420.9 158.3)"/>
<rect x="402.9" y="153.4" width="2" height="1" fill="#7f8fd0" opacity="0.60" transform="rotate(35 402.9 153.4)"/>
<rect x="393.0" y="163.5" width="2" height="1" fill="#7f8fd0" opacity="0.46" transform="rotate(13 393.0 163.5)"/>
<rect x="384.7" y="131.2" width="2" height="1" fill="#7f8fd0" opacity="0.71" transform="rotate(-52 384.7 131.2)"/>
<rect x="410.8" y="125.4" width="2" height="1" fill="#7f8fd0" opacity="0.75" transform="rotate(-25 410.8 125.4)"/>
<rect x="378.5" y="140.8" width="1" height="1" fill="#c77fc0" opacity="0.38" transform="rotate(-35 378.5 140.8)"/>
<rect x="404.5" y="133.9" width="1.5" height="1" fill="#e79a6a" opacity="0.45" transform="rotate(-8 404.5 133.9)"/>
<rect x="426.5" y="160.7" width="1.5" height="1" fill="#7f8fd0" opacity="0.60" transform="rotate(51 426.5 160.7)"/>
<rect x="426.6" y="153.6" width="1.5" height="1" fill="#c77fc0" opacity="0.37" transform="rotate(-0 426.6 153.6)"/>
<rect x="403.6" y="128.4" width="1.5" height="1" fill="#f0a070" opacity="0.62" transform="rotate(57 403.6 128.4)"/>
<rect x="408.7" y="140.9" width="1" height="1" fill="#7f8fd0" opacity="0.36" transform="rotate(25 408.7 140.9)"/>
<rect x="401.3" y="136.0" width="1" height="1" fill="#9aa6dc" opacity="0.43" transform="rotate(13 401.3 136.0)"/>
<rect x="391.1" y="113.8" width="1" height="1" fill="#e79a6a" opacity="0.79" transform="rotate(-8 391.1 113.8)"/>
<rect x="398.4" y="145.4" width="2.5" height="1" fill="#9aa6dc" opacity="0.79" transform="rotate(59 398.4 145.4)"/>
<rect x="403.1" y="133.3" width="1.5" height="1" fill="#9aa6dc" opacity="0.71" transform="rotate(15 403.1 133.3)"/>
<rect x="398.2" y="129.9" width="1" height="1" fill="#8fb0e0" opacity="0.70" transform="rotate(6 398.2 129.9)"/>
<rect x="406.4" y="138.8" width="1" height="1" fill="#c77fc0" opacity="0.62" transform="rotate(-20 406.4 138.8)"/>
<rect x="383.7" y="156.3" width="1" height="1" fill="#b58fd8" opacity="0.76" transform="rotate(7 383.7 156.3)"/>
<rect x="409.3" y="145.4" width="1.5" height="1" fill="#c77fc0" opacity="0.66" transform="rotate(-59 409.3 145.4)"/>
<rect x="411.3" y="121.4" width="1" height="1" fill="#8fb0e0" opacity="0.73" transform="rotate(-17 411.3 121.4)"/>
<rect x="403.0" y="133.0" width="2.5" height="1" fill="#c77fc0" opacity="0.50" transform="rotate(-2 403.0 133.0)"/>
<rect x="377.7" y="125.0" width="2" height="1" fill="#9aa6dc" opacity="0.75" transform="rotate(-37 377.7 125.0)"/>
<rect x="412.7" y="139.7" width="1" height="1" fill="#f0a070" opacity="0.80" transform="rotate(23 412.7 139.7)"/>
<rect x="397.2" y="157.1" width="2" height="1" fill="#e79a6a" opacity="0.42" transform="rotate(43 397.2 157.1)"/>
<rect x="396.0" y="140.6" width="2.5" height="1" fill="#7f8fd0" opacity="0.77" transform="rotate(31 396.0 140.6)"/>
<rect x="416.2" y="155.3" width="2.5" height="1" fill="#8fb0e0" opacity="0.76" transform="rotate(10 416.2 155.3)"/>
<rect x="381.6" y="151.5" width="1.5" height="1" fill="#7f8fd0" opacity="0.40" transform="rotate(-27 381.6 151.5)"/>
<rect x="422.1" y="154.9" width="2" height="1" fill="#c77fc0" opacity="0.39" transform="rotate(-6 422.1 154.9)"/>
<rect x="403.0" y="142.2" width="2" height="1" fill="#b58fd8" opacity="0.45" transform="rotate(19 403.0 142.2)"/>
<rect x="403.1" y="150.6" width="2.5" height="1" fill="#8fb0e0" opacity="0.70" transform="rotate(23 403.1 150.6)"/>
<rect x="399.6" y="132.8" width="2" height="1" fill="#f0a070" opacity="0.53" transform="rotate(54 399.6 132.8)"/>
<rect x="399.5" y="141.0" width="1.5" height="1" fill="#f0a070" opacity="0.72" transform="rotate(-25 399.5 141.0)"/>
<rect x="387.0" y="126.6" width="1.5" height="1" fill="#f0a070" opacity="0.51" transform="rotate(42 387.0 126.6)"/>
<rect x="410.4" y="133.2" width="1" height="1" fill="#8fb0e0" opacity="0.55" transform="rotate(-57 410.4 133.2)"/>
<rect x="422.3" y="149.7" width="1.5" height="1" fill="#7f8fd0" opacity="0.56" transform="rotate(-4 422.3 149.7)"/>
<rect x="401.5" y="122.2" width="1.5" height="1" fill="#e79a6a" opacity="0.78" transform="rotate(17 401.5 122.2)"/>
<rect x="405.8" y="123.9" width="2" height="1" fill="#b58fd8" opacity="0.50" transform="rotate(-40 405.8 123.9)"/>
<rect x="416.5" y="134.6" width="1.5" height="1" fill="#b58fd8" opacity="0.46" transform="rotate(50 416.5 134.6)"/>
<rect x="409.4" y="164.0" width="2" height="1" fill="#8fb0e0" opacity="0.79" transform="rotate(33 409.4 164.0)"/>
<rect x="395.6" y="129.9" width="2.5" height="1" fill="#b58fd8" opacity="0.45" transform="rotate(-10 395.6 129.9)"/>
<rect x="395.5" y="141.8" width="2.5" height="1" fill="#7f8fd0" opacity="0.45" transform="rotate(-4 395.5 141.8)"/>
<rect x="417.7" y="114.3" width="1.5" height="1" fill="#e79a6a" opacity="0.58" transform="rotate(-46 417.7 114.3)"/>
<rect x="395.2" y="161.4" width="2.5" height="1" fill="#9aa6dc" opacity="0.56" transform="rotate(52 395.2 161.4)"/>
<rect x="400.3" y="138.0" width="2" height="1" fill="#c77fc0" opacity="0.42" transform="rotate(46 400.3 138.0)"/>
<rect x="385.9" y="161.0" width="2.5" height="1" fill="#9aa6dc" opacity="0.61" transform="rotate(56 385.9 161.0)"/>
<rect x="394.4" y="149.3" width="1" height="1" fill="#e79a6a" opacity="0.49" transform="rotate(-5 394.4 149.3)"/>
<rect x="416.9" y="136.7" width="2" height="1" fill="#e79a6a" opacity="0.57" transform="rotate(52 416.9 136.7)"/>
<rect x="414.1" y="166.7" width="1.5" height="1" fill="#f0a070" opacity="0.51" transform="rotate(13 414.1 166.7)"/>
<rect x="395.8" y="168.1" width="1" height="1" fill="#9aa6dc" opacity="0.54" transform="rotate(-35 395.8 168.1)"/>
<rect x="417.2" y="145.8" width="1" height="1" fill="#f0a070" opacity="0.69" transform="rotate(-32 417.2 145.8)"/>
<rect x="412.1" y="145.9" width="1.5" height="1" fill="#7f8fd0" opacity="0.66" transform="rotate(26 412.1 145.9)"/>
<rect x="408.6" y="140.0" width="1" height="1" fill="#c77fc0" opacity="0.79" transform="rotate(-22 408.6 140.0)"/>
<rect x="403.6" y="139.4" width="2" height="1" fill="#c77fc0" opacity="0.76" transform="rotate(11 403.6 139.4)"/>
<rect x="405.8" y="138.4" width="1.5" height="1" fill="#9aa6dc" opacity="0.76" transform="rotate(-33 405.8 138.4)"/>
<rect x="406.4" y="145.5" width="2" height="1" fill="#8fb0e0" opacity="0.65" transform="rotate(-14 406.4 145.5)"/>
<rect x="407.6" y="139.9" width="2.5" height="1" fill="#8fb0e0" opacity="0.40" transform="rotate(30 407.6 139.9)"/>
<rect x="404.2" y="146.3" width="1" height="1" fill="#e79a6a" opacity="0.78" transform="rotate(59 404.2 146.3)"/>
<rect x="420.6" y="139.4" width="2.5" height="1" fill="#f0a070" opacity="0.42" transform="rotate(27 420.6 139.4)"/>
<rect x="395.0" y="136.7" width="2" height="1" fill="#e79a6a" opacity="0.59" transform="rotate(-40 395.0 136.7)"/>
<rect x="408.1" y="144.4" width="1" height="1" fill="#b58fd8" opacity="0.42" transform="rotate(0 408.1 144.4)"/>
<rect x="392.2" y="133.5" width="2.5" height="1" fill="#c77fc0" opacity="0.59" transform="rotate(-58 392.2 133.5)"/>
<rect x="416.0" y="144.2" width="1" height="1" fill="#9aa6dc" opacity="0.46" transform="rotate(39 416.0 144.2)"/>
<rect x="405.3" y="144.9" width="2.5" height="1" fill="#c77fc0" opacity="0.54" transform="rotate(-3 405.3 144.9)"/>
<rect x="434.5" y="147.9" width="1" height="1" fill="#b58fd8" opacity="0.55" transform="rotate(0 434.5 147.9)"/>
<rect x="418.5" y="133.0" width="1.5" height="1" fill="#9aa6dc" opacity="0.38" transform="rotate(-50 418.5 133.0)"/>
<rect x="402.6" y="144.2" width="1" height="1" fill="#f0a070" opacity="0.54" transform="rotate(-23 402.6 144.2)"/>
<rect x="378.8" y="138.0" width="1.5" height="1" fill="#9aa6dc" opacity="0.43" transform="rotate(-8 378.8 138.0)"/>
<rect x="409.8" y="137.8" width="2.5" height="1" fill="#8fb0e0" opacity="0.77" transform="rotate(10 409.8 137.8)"/>
<rect x="371.1" y="140.5" width="1.5" height="1" fill="#f0a070" opacity="0.72" transform="rotate(35 371.1 140.5)"/>
<rect x="404.3" y="143.1" width="1" height="1" fill="#7f8fd0" opacity="0.58" transform="rotate(30 404.3 143.1)"/>
<rect x="409.1" y="150.6" width="1.5" height="1" fill="#9aa6dc" opacity="0.54" transform="rotate(19 409.1 150.6)"/>
<rect x="425.3" y="153.1" width="1.5" height="1" fill="#7f8fd0" opacity="0.65" transform="rotate(-48 425.3 153.1)"/>
<rect x="393.4" y="147.6" width="2" height="1" fill="#e79a6a" opacity="0.50" transform="rotate(-28 393.4 147.6)"/>
<rect x="401.2" y="133.0" width="2.5" height="1" fill="#c77fc0" opacity="0.66" transform="rotate(-8 401.2 133.0)"/>
<rect x="407.4" y="143.6" width="1.5" height="1" fill="#8fb0e0" opacity="0.80" transform="rotate(50 407.4 143.6)"/>
<rect x="415.7" y="147.8" width="2" height="1" fill="#c77fc0" opacity="0.44" transform="rotate(20 415.7 147.8)"/>
<rect x="384.6" y="140.6" width="1" height="1" fill="#e79a6a" opacity="0.77" transform="rotate(38 384.6 140.6)"/>
<rect x="398.9" y="141.0" width="2.5" height="1" fill="#c77fc0" opacity="0.41" transform="rotate(22 398.9 141.0)"/>
<rect x="400.2" y="126.1" width="1" height="1" fill="#f0a070" opacity="0.71" transform="rotate(35 400.2 126.1)"/>
<rect x="423.0" y="149.1" width="1" height="1" fill="#9aa6dc" opacity="0.45" transform="rotate(54 423.0 149.1)"/>
<rect x="404.2" y="146.8" width="2" height="1" fill="#b58fd8" opacity="0.53" transform="rotate(39 404.2 146.8)"/>
<rect x="411.3" y="150.2" width="1" height="1" fill="#9aa6dc" opacity="0.41" transform="rotate(5 411.3 150.2)"/>
<rect x="397.6" y="143.5" width="2" height="1" fill="#9aa6dc" opacity="0.67" transform="rotate(-46 397.6 143.5)"/>
<rect x="392.8" y="151.4" width="1.5" height="1" fill="#7f8fd0" opacity="0.37" transform="rotate(-18 392.8 151.4)"/>
<rect x="431.5" y="113.4" width="2.5" height="1" fill="#e79a6a" opacity="0.79" transform="rotate(17 431.5 113.4)"/>
<rect x="418.7" y="135.3" width="2" height="1" fill="#9aa6dc" opacity="0.58" transform="rotate(-2 418.7 135.3)"/>
<rect x="399.3" y="149.2" width="1.5" height="1" fill="#8fb0e0" opacity="0.63" transform="rotate(19 399.3 149.2)"/>
<rect x="406.6" y="141.7" width="1.5" height="1" fill="#c77fc0" opacity="0.37" transform="rotate(-25 406.6 141.7)"/>
<rect x="416.6" y="150.7" width="2" height="1" fill="#c77fc0" opacity="0.58" transform="rotate(-30 416.6 150.7)"/>
<rect x="417.0" y="134.0" width="2" height="1" fill="#c77fc0" opacity="0.48" transform="rotate(40 417.0 134.0)"/>
<rect x="413.5" y="141.7" width="1.5" height="1" fill="#e79a6a" opacity="0.68" transform="rotate(43 413.5 141.7)"/>
<rect x="401.9" y="128.1" width="2" height="1" fill="#7f8fd0" opacity="0.68" transform="rotate(-35 401.9 128.1)"/>
<rect x="407.0" y="159.5" width="2" height="1" fill="#f0a070" opacity="0.64" transform="rotate(23 407.0 159.5)"/>
<rect x="404.4" y="143.9" width="2.5" height="1" fill="#e79a6a" opacity="0.36" transform="rotate(55 404.4 143.9)"/>
<rect x="388.5" y="137.4" width="1.5" height="1" fill="#e79a6a" opacity="0.50" transform="rotate(-3 388.5 137.4)"/>
<rect x="401.5" y="122.0" width="2.5" height="1" fill="#9aa6dc" opacity="0.40" transform="rotate(-36 401.5 122.0)"/>
<rect x="407.6" y="138.0" width="2" height="1" fill="#9aa6dc" opacity="0.73" transform="rotate(44 407.6 138.0)"/>
<rect x="394.1" y="144.4" width="1.5" height="1" fill="#e79a6a" opacity="0.79" transform="rotate(-38 394.1 144.4)"/>
<rect x="410.0" y="147.6" width="1.5" height="1" fill="#f0a070" opacity="0.50" transform="rotate(42 410.0 147.6)"/>
<rect x="414.1" y="132.5" width="1.5" height="1" fill="#9aa6dc" opacity="0.70" transform="rotate(-15 414.1 132.5)"/>
<rect x="422.7" y="156.5" width="2.5" height="1" fill="#c77fc0" opacity="0.80" transform="rotate(59 422.7 156.5)"/>
<rect x="416.1" y="139.1" width="2.5" height="1" fill="#9aa6dc" opacity="0.70" transform="rotate(28 416.1 139.1)"/>
<rect x="412.4" y="146.5" width="1" height="1" fill="#9aa6dc" opacity="0.63" transform="rotate(-37 412.4 146.5)"/>
<rect x="421.6" y="142.1" width="1.5" height="1" fill="#8fb0e0" opacity="0.48" transform="rotate(-36 421.6 142.1)"/>
<rect x="420.1" y="120.6" width="2.5" height="1" fill="#9aa6dc" opacity="0.61" transform="rotate(9 420.1 120.6)"/>
<rect x="403.7" y="142.7" width="1" height="1" fill="#e79a6a" opacity="0.58" transform="rotate(-45 403.7 142.7)"/>
<rect x="407.2" y="149.4" width="2" height="1" fill="#c77fc0" opacity="0.36" transform="rotate(-33 407.2 149.4)"/>
<rect x="399.4" y="149.8" width="2.5" height="1" fill="#f0a070" opacity="0.46" transform="rotate(10 399.4 149.8)"/>
<rect x="402.8" y="142.2" width="2" height="1" fill="#b58fd8" opacity="0.47" transform="rotate(33 402.8 142.2)"/>
<rect x="372.3" y="144.3" width="2.5" height="1" fill="#7f8fd0" opacity="0.56" transform="rotate(12 372.3 144.3)"/>
<rect x="411.9" y="153.5" width="2.5" height="1" fill="#c77fc0" opacity="0.42" transform="rotate(55 411.9 153.5)"/>
<rect x="423.7" y="137.5" width="2.5" height="1" fill="#f0a070" opacity="0.77" transform="rotate(45 423.7 137.5)"/>
<rect x="396.6" y="161.0" width="1" height="1" fill="#f0a070" opacity="0.38" transform="rotate(49 396.6 161.0)"/>
<rect x="405.4" y="141.0" width="2.5" height="1" fill="#c77fc0" opacity="0.48" transform="rotate(24 405.4 141.0)"/>
<rect x="373.5" y="136.8" width="1" height="1" fill="#9aa6dc" opacity="0.58" transform="rotate(-1 373.5 136.8)"/>
<rect x="389.6" y="156.1" width="1.5" height="1" fill="#9aa6dc" opacity="0.74" transform="rotate(-17 389.6 156.1)"/>
<rect x="397.1" y="153.3" width="2" height="1" fill="#8fb0e0" opacity="0.48" transform="rotate(-50 397.1 153.3)"/>
<rect x="415.3" y="137.0" width="2" height="1" fill="#7f8fd0" opacity="0.65" transform="rotate(4 415.3 137.0)"/>
<rect x="400.3" y="148.8" width="1" height="1" fill="#b58fd8" opacity="0.50" transform="rotate(-10 400.3 148.8)"/>
<rect x="415.2" y="137.2" width="1" height="1" fill="#c77fc0" opacity="0.42" transform="rotate(19 415.2 137.2)"/>
<rect x="398.8" y="129.5" width="2" height="1" fill="#c77fc0" opacity="0.45" transform="rotate(35 398.8 129.5)"/>
<rect x="530.2" y="154.9" width="1" height="1" fill="#e79a6a" opacity="0.36" transform="rotate(-34 530.2 154.9)"/>
<rect x="562.4" y="146.4" width="1" height="1" fill="#f0a070" opacity="0.57" transform="rotate(-3 562.4 146.4)"/>
<rect x="550.0" y="155.7" width="1.5" height="1" fill="#f0a070" opacity="0.66" transform="rotate(-29 550.0 155.7)"/>
<rect x="544.7" y="145.8" width="1.5" height="1" fill="#8fb0e0" opacity="0.65" transform="rotate(44 544.7 145.8)"/>
<rect x="545.0" y="161.7" width="2.5" height="1" fill="#f0a070" opacity="0.68" transform="rotate(-47 545.0 161.7)"/>
<rect x="546.8" y="158.2" width="1.5" height="1" fill="#9aa6dc" opacity="0.65" transform="rotate(29 546.8 158.2)"/>
<rect x="545.8" y="154.6" width="2" height="1" fill="#b58fd8" opacity="0.57" transform="rotate(6 545.8 154.6)"/>
<rect x="549.8" y="152.9" width="1" height="1" fill="#7f8fd0" opacity="0.63" transform="rotate(-56 549.8 152.9)"/>
<rect x="572.0" y="139.4" width="1.5" height="1" fill="#f0a070" opacity="0.47" transform="rotate(41 572.0 139.4)"/>
<rect x="556.1" y="166.5" width="1" height="1" fill="#8fb0e0" opacity="0.36" transform="rotate(47 556.1 166.5)"/>
<rect x="530.8" y="156.8" width="2.5" height="1" fill="#f0a070" opacity="0.59" transform="rotate(43 530.8 156.8)"/>
<rect x="554.1" y="170.1" width="1" height="1" fill="#e79a6a" opacity="0.41" transform="rotate(-15 554.1 170.1)"/>
<rect x="549.8" y="148.9" width="1" height="1" fill="#f0a070" opacity="0.37" transform="rotate(24 549.8 148.9)"/>
<rect x="544.1" y="142.7" width="1" height="1" fill="#f0a070" opacity="0.74" transform="rotate(59 544.1 142.7)"/>
<rect x="531.8" y="156.4" width="1" height="1" fill="#e79a6a" opacity="0.71" transform="rotate(28 531.8 156.4)"/>
<rect x="548.6" y="154.3" width="2.5" height="1" fill="#f0a070" opacity="0.63" transform="rotate(43 548.6 154.3)"/>
<rect x="557.4" y="161.9" width="2.5" height="1" fill="#c77fc0" opacity="0.70" transform="rotate(-5 557.4 161.9)"/>
<rect x="556.1" y="173.2" width="2" height="1" fill="#e79a6a" opacity="0.69" transform="rotate(40 556.1 173.2)"/>
<rect x="548.2" y="165.1" width="1" height="1" fill="#c77fc0" opacity="0.45" transform="rotate(-34 548.2 165.1)"/>
<rect x="557.0" y="147.3" width="2" height="1" fill="#8fb0e0" opacity="0.58" transform="rotate(-57 557.0 147.3)"/>
<rect x="548.4" y="133.8" width="2" height="1" fill="#f0a070" opacity="0.53" transform="rotate(-41 548.4 133.8)"/>
<rect x="526.4" y="150.5" width="1.5" height="1" fill="#c77fc0" opacity="0.59" transform="rotate(-42 526.4 150.5)"/>
<rect x="557.7" y="144.6" width="1.5" height="1" fill="#8fb0e0" opacity="0.70" transform="rotate(-36 557.7 144.6)"/>
<rect x="546.4" y="141.0" width="1" height="1" fill="#b58fd8" opacity="0.47" transform="rotate(-18 546.4 141.0)"/>
<rect x="553.8" y="155.5" width="1.5" height="1" fill="#8fb0e0" opacity="0.49" transform="rotate(37 553.8 155.5)"/>
<rect x="553.8" y="144.0" width="1.5" height="1" fill="#b58fd8" opacity="0.60" transform="rotate(12 553.8 144.0)"/>
<rect x="544.4" y="146.4" width="1.5" height="1" fill="#b58fd8" opacity="0.48" transform="rotate(44 544.4 146.4)"/>
<rect x="551.3" y="135.6" width="2.5" height="1" fill="#b58fd8" opacity="0.55" transform="rotate(21 551.3 135.6)"/>
<rect x="554.1" y="148.1" width="1.5" height="1" fill="#7f8fd0" opacity="0.54" transform="rotate(1 554.1 148.1)"/>
<rect x="552.1" y="155.6" width="2.5" height="1" fill="#b58fd8" opacity="0.52" transform="rotate(-42 552.1 155.6)"/>
<rect x="553.3" y="161.7" width="1.5" height="1" fill="#9aa6dc" opacity="0.56" transform="rotate(5 553.3 161.7)"/>
<rect x="537.2" y="154.3" width="1" height="1" fill="#b58fd8" opacity="0.36" transform="rotate(52 537.2 154.3)"/>
<rect x="548.9" y="152.6" width="1" height="1" fill="#b58fd8" opacity="0.59" transform="rotate(-34 548.9 152.6)"/>
<rect x="549.6" y="141.8" width="1.5" height="1" fill="#f0a070" opacity="0.77" transform="rotate(-39 549.6 141.8)"/>
<rect x="545.4" y="153.8" width="1" height="1" fill="#b58fd8" opacity="0.79" transform="rotate(-41 545.4 153.8)"/>
<rect x="545.4" y="157.0" width="1" height="1" fill="#b58fd8" opacity="0.38" transform="rotate(9 545.4 157.0)"/>
<rect x="553.2" y="146.1" width="1" height="1" fill="#9aa6dc" opacity="0.47" transform="rotate(40 553.2 146.1)"/>
<rect x="547.5" y="156.2" width="2" height="1" fill="#7f8fd0" opacity="0.76" transform="rotate(-33 547.5 156.2)"/>
<rect x="548.9" y="170.1" width="1" height="1" fill="#c77fc0" opacity="0.69" transform="rotate(44 548.9 170.1)"/>
<rect x="560.3" y="160.7" width="2.5" height="1" fill="#c77fc0" opacity="0.70" transform="rotate(59 560.3 160.7)"/>
<rect x="548.7" y="152.6" width="2.5" height="1" fill="#b58fd8" opacity="0.54" transform="rotate(52 548.7 152.6)"/>
<rect x="541.4" y="155.3" width="2.5" height="1" fill="#7f8fd0" opacity="0.65" transform="rotate(10 541.4 155.3)"/>
<rect x="531.8" y="146.8" width="1.5" height="1" fill="#e79a6a" opacity="0.72" transform="rotate(49 531.8 146.8)"/>
<rect x="550.9" y="143.9" width="1.5" height="1" fill="#7f8fd0" opacity="0.56" transform="rotate(9 550.9 143.9)"/>
<rect x="548.4" y="162.5" width="1" height="1" fill="#b58fd8" opacity="0.39" transform="rotate(-16 548.4 162.5)"/>
<rect x="567.8" y="131.5" width="2" height="1" fill="#7f8fd0" opacity="0.63" transform="rotate(16 567.8 131.5)"/>
<rect x="554.1" y="140.8" width="2" height="1" fill="#9aa6dc" opacity="0.55" transform="rotate(16 554.1 140.8)"/>
<rect x="553.0" y="147.8" width="1" height="1" fill="#c77fc0" opacity="0.65" transform="rotate(-57 553.0 147.8)"/>
<rect x="539.9" y="153.1" width="1.5" height="1" fill="#8fb0e0" opacity="0.50" transform="rotate(-45 539.9 153.1)"/>
<rect x="544.1" y="142.9" width="2" height="1" fill="#b58fd8" opacity="0.49" transform="rotate(6 544.1 142.9)"/>
<rect x="549.7" y="145.5" width="1" height="1" fill="#f0a070" opacity="0.80" transform="rotate(-24 549.7 145.5)"/>
<rect x="552.0" y="128.5" width="1.5" height="1" fill="#f0a070" opacity="0.63" transform="rotate(16 552.0 128.5)"/>
<rect x="546.7" y="129.2" width="2.5" height="1" fill="#7f8fd0" opacity="0.49" transform="rotate(56 546.7 129.2)"/>
<rect x="540.2" y="157.0" width="2.5" height="1" fill="#9aa6dc" opacity="0.79" transform="rotate(-21 540.2 157.0)"/>
<rect x="536.8" y="135.3" width="2" height="1" fill="#c77fc0" opacity="0.73" transform="rotate(10 536.8 135.3)"/>
<rect x="543.6" y="143.8" width="1.5" height="1" fill="#9aa6dc" opacity="0.55" transform="rotate(32 543.6 143.8)"/>
<rect x="547.1" y="155.6" width="1.5" height="1" fill="#8fb0e0" opacity="0.54" transform="rotate(53 547.1 155.6)"/>
<rect x="553.8" y="145.7" width="1" height="1" fill="#8fb0e0" opacity="0.54" transform="rotate(-56 553.8 145.7)"/>
<rect x="527.5" y="157.5" width="2.5" height="1" fill="#e79a6a" opacity="0.67" transform="rotate(-52 527.5 157.5)"/>
<rect x="552.2" y="147.8" width="1" height="1" fill="#e79a6a" opacity="0.71" transform="rotate(-16 552.2 147.8)"/>
<rect x="549.3" y="146.0" width="1.5" height="1" fill="#7f8fd0" opacity="0.58" transform="rotate(17 549.3 146.0)"/>
<rect x="552.9" y="138.6" width="1" height="1" fill="#8fb0e0" opacity="0.41" transform="rotate(39 552.9 138.6)"/>
<rect x="541.5" y="153.7" width="2" height="1" fill="#9aa6dc" opacity="0.73" transform="rotate(-54 541.5 153.7)"/>
<rect x="547.8" y="145.6" width="2.5" height="1" fill="#f0a070" opacity="0.49" transform="rotate(-53 547.8 145.6)"/>
<rect x="555.9" y="156.7" width="1.5" height="1" fill="#8fb0e0" opacity="0.61" transform="rotate(27 555.9 156.7)"/>
<rect x="546.0" y="161.3" width="2.5" height="1" fill="#9aa6dc" opacity="0.36" transform="rotate(-5 546.0 161.3)"/>
<rect x="542.4" y="161.0" width="1" height="1" fill="#f0a070" opacity="0.39" transform="rotate(2 542.4 161.0)"/>
<rect x="542.9" y="157.9" width="2" height="1" fill="#e79a6a" opacity="0.67" transform="rotate(-15 542.9 157.9)"/>
<rect x="530.4" y="160.8" width="1.5" height="1" fill="#e79a6a" opacity="0.80" transform="rotate(53 530.4 160.8)"/>
<rect x="547.2" y="168.0" width="1.5" height="1" fill="#8fb0e0" opacity="0.41" transform="rotate(6 547.2 168.0)"/>
<rect x="560.4" y="162.9" width="1" height="1" fill="#7f8fd0" opacity="0.47" transform="rotate(24 560.4 162.9)"/>
<rect x="538.4" y="161.5" width="2.5" height="1" fill="#9aa6dc" opacity="0.56" transform="rotate(26 538.4 161.5)"/>
<rect x="559.9" y="158.2" width="1.5" height="1" fill="#7f8fd0" opacity="0.56" transform="rotate(18 559.9 158.2)"/>
<rect x="546.9" y="147.3" width="2.5" height="1" fill="#9aa6dc" opacity="0.53" transform="rotate(-9 546.9 147.3)"/>
<rect x="537.3" y="160.7" width="2" height="1" fill="#f0a070" opacity="0.53" transform="rotate(8 537.3 160.7)"/>
<rect x="541.7" y="149.4" width="2" height="1" fill="#9aa6dc" opacity="0.80" transform="rotate(-4 541.7 149.4)"/>
<rect x="551.9" y="143.8" width="1" height="1" fill="#f0a070" opacity="0.67" transform="rotate(53 551.9 143.8)"/>
<rect x="558.1" y="132.5" width="2.5" height="1" fill="#e79a6a" opacity="0.56" transform="rotate(-23 558.1 132.5)"/>
<rect x="536.1" y="162.9" width="1.5" height="1" fill="#b58fd8" opacity="0.73" transform="rotate(20 536.1 162.9)"/>
<rect x="550.7" y="155.0" width="1.5" height="1" fill="#8fb0e0" opacity="0.57" transform="rotate(44 550.7 155.0)"/>
<rect x="542.6" y="149.2" width="1.5" height="1" fill="#8fb0e0" opacity="0.79" transform="rotate(37 542.6 149.2)"/>
<rect x="555.9" y="148.5" width="2" height="1" fill="#7f8fd0" opacity="0.44" transform="rotate(50 555.9 148.5)"/>
<rect x="554.6" y="147.8" width="1" height="1" fill="#c77fc0" opacity="0.55" transform="rotate(16 554.6 147.8)"/>
<rect x="549.0" y="145.8" width="2.5" height="1" fill="#9aa6dc" opacity="0.46" transform="rotate(-57 549.0 145.8)"/>
<rect x="560.5" y="159.0" width="1" height="1" fill="#8fb0e0" opacity="0.46" transform="rotate(-26 560.5 159.0)"/>
<rect x="557.3" y="148.2" width="1" height="1" fill="#7f8fd0" opacity="0.69" transform="rotate(11 557.3 148.2)"/>
<rect x="539.0" y="140.6" width="2.5" height="1" fill="#f0a070" opacity="0.60" transform="rotate(38 539.0 140.6)"/>
<rect x="554.9" y="160.1" width="2" height="1" fill="#e79a6a" opacity="0.53" transform="rotate(-37 554.9 160.1)"/>
<rect x="544.7" y="137.6" width="2" height="1" fill="#b58fd8" opacity="0.62" transform="rotate(51 544.7 137.6)"/>
<rect x="552.8" y="138.3" width="1" height="1" fill="#e79a6a" opacity="0.77" transform="rotate(-15 552.8 138.3)"/>
<rect x="555.1" y="155.3" width="2" height="1" fill="#f0a070" opacity="0.65" transform="rotate(52 555.1 155.3)"/>
<rect x="549.9" y="139.5" width="2.5" height="1" fill="#c77fc0" opacity="0.69" transform="rotate(-22 549.9 139.5)"/>
<rect x="558.5" y="158.7" width="1" height="1" fill="#b58fd8" opacity="0.46" transform="rotate(22 558.5 158.7)"/>
<rect x="552.0" y="146.8" width="1.5" height="1" fill="#9aa6dc" opacity="0.57" transform="rotate(-20 552.0 146.8)"/>
<rect x="579.5" y="139.6" width="2.5" height="1" fill="#c77fc0" opacity="0.71" transform="rotate(16 579.5 139.6)"/>
<rect x="560.1" y="173.2" width="2.5" height="1" fill="#9aa6dc" opacity="0.38" transform="rotate(-6 560.1 173.2)"/>
<rect x="559.1" y="151.3" width="1" height="1" fill="#c77fc0" opacity="0.54" transform="rotate(42 559.1 151.3)"/>
<rect x="550.4" y="137.2" width="2" height="1" fill="#9aa6dc" opacity="0.49" transform="rotate(-1 550.4 137.2)"/>
<rect x="536.8" y="158.6" width="1" height="1" fill="#8fb0e0" opacity="0.50" transform="rotate(13 536.8 158.6)"/>
<rect x="554.6" y="149.9" width="1" height="1" fill="#e79a6a" opacity="0.36" transform="rotate(41 554.6 149.9)"/>
<rect x="559.7" y="134.6" width="2.5" height="1" fill="#c77fc0" opacity="0.78" transform="rotate(40 559.7 134.6)"/>
<rect x="536.9" y="143.4" width="2.5" height="1" fill="#7f8fd0" opacity="0.63" transform="rotate(-11 536.9 143.4)"/>
<rect x="559.1" y="147.0" width="2.5" height="1" fill="#8fb0e0" opacity="0.40" transform="rotate(-48 559.1 147.0)"/>
<rect x="541.7" y="140.3" width="1" height="1" fill="#c77fc0" opacity="0.40" transform="rotate(12 541.7 140.3)"/>
<rect x="567.8" y="129.1" width="2" height="1" fill="#b58fd8" opacity="0.37" transform="rotate(45 567.8 129.1)"/>
<rect x="544.0" y="143.2" width="2.5" height="1" fill="#7f8fd0" opacity="0.75" transform="rotate(-30 544.0 143.2)"/>
<rect x="539.5" y="145.6" width="1" height="1" fill="#e79a6a" opacity="0.50" transform="rotate(5 539.5 145.6)"/>
<rect x="559.4" y="144.5" width="1" height="1" fill="#8fb0e0" opacity="0.54" transform="rotate(46 559.4 144.5)"/>
<rect x="539.4" y="140.3" width="2.5" height="1" fill="#9aa6dc" opacity="0.49" transform="rotate(48 539.4 140.3)"/>
<rect x="555.8" y="152.3" width="1" height="1" fill="#f0a070" opacity="0.42" transform="rotate(25 555.8 152.3)"/>
<rect x="543.0" y="134.1" width="1" height="1" fill="#9aa6dc" opacity="0.76" transform="rotate(-40 543.0 134.1)"/>
<rect x="546.7" y="165.9" width="1.5" height="1" fill="#b58fd8" opacity="0.69" transform="rotate(26 546.7 165.9)"/>
<rect x="564.7" y="147.8" width="1.5" height="1" fill="#8fb0e0" opacity="0.78" transform="rotate(34 564.7 147.8)"/>
<rect x="555.0" y="147.8" width="2.5" height="1" fill="#8fb0e0" opacity="0.78" transform="rotate(-42 555.0 147.8)"/>
<rect x="530.1" y="156.0" width="2" height="1" fill="#b58fd8" opacity="0.77" transform="rotate(-58 530.1 156.0)"/>
<rect x="546.5" y="161.3" width="1.5" height="1" fill="#7f8fd0" opacity="0.73" transform="rotate(-60 546.5 161.3)"/>
<rect x="555.6" y="137.3" width="1" height="1" fill="#f0a070" opacity="0.50" transform="rotate(-51 555.6 137.3)"/>
<rect x="531.5" y="165.5" width="1" height="1" fill="#8fb0e0" opacity="0.61" transform="rotate(-45 531.5 165.5)"/>
<rect x="551.7" y="138.9" width="2.5" height="1" fill="#9aa6dc" opacity="0.72" transform="rotate(38 551.7 138.9)"/>
<rect x="552.8" y="172.7" width="2" height="1" fill="#b58fd8" opacity="0.45" transform="rotate(-60 552.8 172.7)"/>
<rect x="567.3" y="236.4" width="1.5" height="1" fill="#7f8fd0" opacity="0.70" transform="rotate(16 567.3 236.4)"/>
<rect x="569.1" y="225.4" width="1.5" height="1" fill="#e79a6a" opacity="0.76" transform="rotate(-22 569.1 225.4)"/>
<rect x="549.0" y="236.4" width="2.5" height="1" fill="#b58fd8" opacity="0.47" transform="rotate(-30 549.0 236.4)"/>
<rect x="549.9" y="248.6" width="2" height="1" fill="#b58fd8" opacity="0.75" transform="rotate(-31 549.9 248.6)"/>
<rect x="550.2" y="236.1" width="1.5" height="1" fill="#7f8fd0" opacity="0.70" transform="rotate(32 550.2 236.1)"/>
<rect x="553.5" y="254.2" width="2.5" height="1" fill="#e79a6a" opacity="0.71" transform="rotate(5 553.5 254.2)"/>
<rect x="551.0" y="251.5" width="1.5" height="1" fill="#c77fc0" opacity="0.42" transform="rotate(-51 551.0 251.5)"/>
<rect x="555.1" y="245.7" width="2.5" height="1" fill="#f0a070" opacity="0.39" transform="rotate(-30 555.1 245.7)"/>
<rect x="544.7" y="232.9" width="2.5" height="1" fill="#c77fc0" opacity="0.40" transform="rotate(-12 544.7 232.9)"/>
<rect x="558.9" y="262.4" width="2" height="1" fill="#c77fc0" opacity="0.70" transform="rotate(4 558.9 262.4)"/>
<rect x="553.4" y="245.1" width="1" height="1" fill="#c77fc0" opacity="0.48" transform="rotate(-26 553.4 245.1)"/>
<rect x="554.5" y="243.2" width="2.5" height="1" fill="#e79a6a" opacity="0.48" transform="rotate(44 554.5 243.2)"/>
<rect x="547.8" y="241.4" width="1" height="1" fill="#c77fc0" opacity="0.77" transform="rotate(-6 547.8 241.4)"/>
<rect x="537.2" y="242.0" width="2.5" height="1" fill="#e79a6a" opacity="0.47" transform="rotate(-48 537.2 242.0)"/>
<rect x="538.2" y="249.8" width="2.5" height="1" fill="#9aa6dc" opacity="0.44" transform="rotate(-59 538.2 249.8)"/>
<rect x="568.6" y="237.3" width="2.5" height="1" fill="#e79a6a" opacity="0.64" transform="rotate(7 568.6 237.3)"/>
<rect x="554.3" y="245.9" width="1.5" height="1" fill="#c77fc0" opacity="0.49" transform="rotate(2 554.3 245.9)"/>
<rect x="552.5" y="260.4" width="2" height="1" fill="#c77fc0" opacity="0.76" transform="rotate(49 552.5 260.4)"/>
<rect x="565.0" y="245.0" width="1.5" height="1" fill="#8fb0e0" opacity="0.43" transform="rotate(-30 565.0 245.0)"/>
<rect x="553.2" y="250.0" width="1" height="1" fill="#f0a070" opacity="0.47" transform="rotate(4 553.2 250.0)"/>
<rect x="535.0" y="250.4" width="1.5" height="1" fill="#b58fd8" opacity="0.54" transform="rotate(-58 535.0 250.4)"/>
<rect x="570.8" y="249.6" width="1" height="1" fill="#f0a070" opacity="0.39" transform="rotate(57 570.8 249.6)"/>
<rect x="556.7" y="259.4" width="2" height="1" fill="#c77fc0" opacity="0.61" transform="rotate(47 556.7 259.4)"/>
<rect x="568.1" y="245.3" width="2.5" height="1" fill="#e79a6a" opacity="0.40" transform="rotate(-52 568.1 245.3)"/>
<rect x="542.1" y="248.5" width="2.5" height="1" fill="#c77fc0" opacity="0.65" transform="rotate(8 542.1 248.5)"/>
<rect x="550.1" y="244.6" width="2.5" height="1" fill="#f0a070" opacity="0.50" transform="rotate(-14 550.1 244.6)"/>
<rect x="570.9" y="249.9" width="2.5" height="1" fill="#7f8fd0" opacity="0.60" transform="rotate(-35 570.9 249.9)"/>
<rect x="560.4" y="251.9" width="2" height="1" fill="#e79a6a" opacity="0.70" transform="rotate(47 560.4 251.9)"/>
<rect x="556.5" y="267.0" width="2.5" height="1" fill="#c77fc0" opacity="0.59" transform="rotate(-55 556.5 267.0)"/>
<rect x="568.3" y="255.9" width="1" height="1" fill="#f0a070" opacity="0.52" transform="rotate(50 568.3 255.9)"/>
<rect x="558.5" y="242.5" width="1.5" height="1" fill="#7f8fd0" opacity="0.60" transform="rotate(19 558.5 242.5)"/>
<rect x="555.5" y="252.9" width="2" height="1" fill="#c77fc0" opacity="0.37" transform="rotate(28 555.5 252.9)"/>
<rect x="549.4" y="244.4" width="1.5" height="1" fill="#c77fc0" opacity="0.47" transform="rotate(-4 549.4 244.4)"/>
<rect x="564.0" y="264.0" width="2" height="1" fill="#f0a070" opacity="0.69" transform="rotate(-44 564.0 264.0)"/>
<rect x="551.1" y="232.5" width="1" height="1" fill="#b58fd8" opacity="0.44" transform="rotate(57 551.1 232.5)"/>
<rect x="549.3" y="239.3" width="1" height="1" fill="#f0a070" opacity="0.60" transform="rotate(-14 549.3 239.3)"/>
<rect x="548.7" y="244.1" width="2.5" height="1" fill="#7f8fd0" opacity="0.66" transform="rotate(-8 548.7 244.1)"/>
<rect x="548.6" y="243.0" width="1.5" height="1" fill="#c77fc0" opacity="0.61" transform="rotate(-34 548.6 243.0)"/>
<rect x="558.6" y="263.4" width="2.5" height="1" fill="#8fb0e0" opacity="0.61" transform="rotate(38 558.6 263.4)"/>
<rect x="564.5" y="249.1" width="1" height="1" fill="#b58fd8" opacity="0.61" transform="rotate(30 564.5 249.1)"/>
<rect x="542.3" y="242.0" width="2" height="1" fill="#f0a070" opacity="0.57" transform="rotate(-8 542.3 242.0)"/>
<rect x="547.1" y="239.4" width="2.5" height="1" fill="#9aa6dc" opacity="0.79" transform="rotate(-4 547.1 239.4)"/>
<rect x="561.7" y="244.4" width="1" height="1" fill="#b58fd8" opacity="0.66" transform="rotate(-25 561.7 244.4)"/>
<rect x="553.0" y="245.1" width="2.5" height="1" fill="#b58fd8" opacity="0.71" transform="rotate(15 553.0 245.1)"/>
<rect x="559.6" y="243.4" width="1.5" height="1" fill="#c77fc0" opacity="0.68" transform="rotate(-36 559.6 243.4)"/>
<rect x="551.7" y="258.3" width="2" height="1" fill="#7f8fd0" opacity="0.51" transform="rotate(28 551.7 258.3)"/>
<rect x="549.7" y="247.2" width="2" height="1" fill="#f0a070" opacity="0.40" transform="rotate(30 549.7 247.2)"/>
<rect x="557.6" y="253.5" width="2.5" height="1" fill="#e79a6a" opacity="0.47" transform="rotate(46 557.6 253.5)"/>
<rect x="562.4" y="247.0" width="2" height="1" fill="#f0a070" opacity="0.46" transform="rotate(54 562.4 247.0)"/>
<rect x="556.5" y="249.6" width="1.5" height="1" fill="#e79a6a" opacity="0.49" transform="rotate(-36 556.5 249.6)"/>
<rect x="536.0" y="258.9" width="2" height="1" fill="#7f8fd0" opacity="0.48" transform="rotate(2 536.0 258.9)"/>
<rect x="560.1" y="248.5" width="1" height="1" fill="#e79a6a" opacity="0.64" transform="rotate(-19 560.1 248.5)"/>
<rect x="544.7" y="249.5" width="2.5" height="1" fill="#7f8fd0" opacity="0.57" transform="rotate(-16 544.7 249.5)"/>
<rect x="536.9" y="248.0" width="2" height="1" fill="#7f8fd0" opacity="0.54" transform="rotate(15 536.9 248.0)"/>
<rect x="554.5" y="256.2" width="2" height="1" fill="#c77fc0" opacity="0.76" transform="rotate(-31 554.5 256.2)"/>
<rect x="554.2" y="265.0" width="1.5" height="1" fill="#9aa6dc" opacity="0.75" transform="rotate(-56 554.2 265.0)"/>
<rect x="552.8" y="243.1" width="2.5" height="1" fill="#8fb0e0" opacity="0.51" transform="rotate(-0 552.8 243.1)"/>
<rect x="551.7" y="244.5" width="1.5" height="1" fill="#f0a070" opacity="0.54" transform="rotate(58 551.7 244.5)"/>
<rect x="560.9" y="264.3" width="1" height="1" fill="#7f8fd0" opacity="0.47" transform="rotate(-46 560.9 264.3)"/>
<rect x="562.1" y="259.7" width="1" height="1" fill="#9aa6dc" opacity="0.58" transform="rotate(-42 562.1 259.7)"/>
<rect x="549.1" y="255.9" width="2" height="1" fill="#8fb0e0" opacity="0.56" transform="rotate(52 549.1 255.9)"/>
<rect x="549.8" y="258.4" width="2" height="1" fill="#b58fd8" opacity="0.36" transform="rotate(-1 549.8 258.4)"/>
<rect x="548.5" y="250.5" width="1" height="1" fill="#8fb0e0" opacity="0.66" transform="rotate(-5 548.5 250.5)"/>
<rect x="561.8" y="248.5" width="1" height="1" fill="#b58fd8" opacity="0.50" transform="rotate(-42 561.8 248.5)"/>
<rect x="559.6" y="261.7" width="2" height="1" fill="#f0a070" opacity="0.51" transform="rotate(-51 559.6 261.7)"/>
<rect x="564.7" y="257.4" width="2.5" height="1" fill="#e79a6a" opacity="0.71" transform="rotate(-4 564.7 257.4)"/>
<rect x="553.9" y="258.9" width="1" height="1" fill="#b58fd8" opacity="0.43" transform="rotate(-39 553.9 258.9)"/>
<rect x="557.6" y="258.6" width="2.5" height="1" fill="#8fb0e0" opacity="0.43" transform="rotate(27 557.6 258.6)"/>
<rect x="568.4" y="255.7" width="1" height="1" fill="#8fb0e0" opacity="0.62" transform="rotate(-58 568.4 255.7)"/>
<rect x="564.3" y="245.2" width="2" height="1" fill="#8fb0e0" opacity="0.47" transform="rotate(-56 564.3 245.2)"/>
<rect x="561.9" y="246.4" width="2" height="1" fill="#7f8fd0" opacity="0.41" transform="rotate(59 561.9 246.4)"/>
<rect x="554.6" y="243.3" width="1" height="1" fill="#9aa6dc" opacity="0.75" transform="rotate(20 554.6 243.3)"/>
<rect x="550.5" y="247.4" width="2" height="1" fill="#c77fc0" opacity="0.78" transform="rotate(-60 550.5 247.4)"/>
<rect x="552.1" y="251.6" width="2.5" height="1" fill="#7f8fd0" opacity="0.78" transform="rotate(41 552.1 251.6)"/>
<rect x="554.7" y="247.1" width="1.5" height="1" fill="#f0a070" opacity="0.57" transform="rotate(-1 554.7 247.1)"/>
<rect x="562.2" y="259.3" width="1.5" height="1" fill="#b58fd8" opacity="0.58" transform="rotate(52 562.2 259.3)"/>
<rect x="554.3" y="254.1" width="2.5" height="1" fill="#7f8fd0" opacity="0.77" transform="rotate(-16 554.3 254.1)"/>
<rect x="570.6" y="261.0" width="1.5" height="1" fill="#8fb0e0" opacity="0.80" transform="rotate(-34 570.6 261.0)"/>
<rect x="563.7" y="250.9" width="1.5" height="1" fill="#e79a6a" opacity="0.41" transform="rotate(-10 563.7 250.9)"/>
<rect x="576.6" y="254.8" width="1.5" height="1" fill="#c77fc0" opacity="0.69" transform="rotate(-24 576.6 254.8)"/>
<rect x="554.1" y="243.4" width="2.5" height="1" fill="#8fb0e0" opacity="0.70" transform="rotate(-40 554.1 243.4)"/>
<rect x="544.8" y="265.2" width="2" height="1" fill="#b58fd8" opacity="0.79" transform="rotate(-46 544.8 265.2)"/>
<rect x="556.2" y="254.5" width="2" height="1" fill="#f0a070" opacity="0.64" transform="rotate(34 556.2 254.5)"/>
<rect x="542.5" y="248.7" width="1" height="1" fill="#f0a070" opacity="0.65" transform="rotate(11 542.5 248.7)"/>
<rect x="538.5" y="250.6" width="1" height="1" fill="#8fb0e0" opacity="0.41" transform="rotate(-9 538.5 250.6)"/>
<rect x="545.8" y="254.9" width="2" height="1" fill="#8fb0e0" opacity="0.58" transform="rotate(-42 545.8 254.9)"/>
<rect x="554.4" y="258.2" width="1" height="1" fill="#8fb0e0" opacity="0.55" transform="rotate(-21 554.4 258.2)"/>
<rect x="563.6" y="257.5" width="1" height="1" fill="#9aa6dc" opacity="0.52" transform="rotate(-31 563.6 257.5)"/>
<rect x="574.8" y="251.9" width="2" height="1" fill="#f0a070" opacity="0.74" transform="rotate(21 574.8 251.9)"/>
<rect x="573.1" y="238.5" width="1.5" height="1" fill="#9aa6dc" opacity="0.55" transform="rotate(39 573.1 238.5)"/>
<rect x="570.0" y="235.0" width="2.5" height="1" fill="#c77fc0" opacity="0.40" transform="rotate(-38 570.0 235.0)"/>
<rect x="561.2" y="233.8" width="1" height="1" fill="#e79a6a" opacity="0.51" transform="rotate(38 561.2 233.8)"/>
<rect x="550.2" y="233.5" width="1" height="1" fill="#9aa6dc" opacity="0.54" transform="rotate(-34 550.2 233.5)"/>
<rect x="553.3" y="239.5" width="2.5" height="1" fill="#8fb0e0" opacity="0.70" transform="rotate(52 553.3 239.5)"/>
<rect x="555.5" y="244.8" width="1" height="1" fill="#f0a070" opacity="0.54" transform="rotate(-30 555.5 244.8)"/>
<rect x="569.3" y="243.1" width="1.5" height="1" fill="#7f8fd0" opacity="0.55" transform="rotate(-34 569.3 243.1)"/>
<rect x="558.3" y="247.4" width="1.5" height="1" fill="#8fb0e0" opacity="0.68" transform="rotate(2 558.3 247.4)"/>
<rect x="570.4" y="246.7" width="2" height="1" fill="#7f8fd0" opacity="0.74" transform="rotate(-58 570.4 246.7)"/>
<rect x="554.9" y="273.0" width="2" height="1" fill="#9aa6dc" opacity="0.73" transform="rotate(-6 554.9 273.0)"/>
<rect x="552.1" y="256.0" width="2" height="1" fill="#b58fd8" opacity="0.59" transform="rotate(-42 552.1 256.0)"/>
<rect x="562.7" y="249.0" width="2" height="1" fill="#8fb0e0" opacity="0.55" transform="rotate(27 562.7 249.0)"/>
<rect x="550.9" y="264.7" width="1.5" height="1" fill="#9aa6dc" opacity="0.61" transform="rotate(-7 550.9 264.7)"/>
<rect x="566.2" y="239.0" width="2.5" height="1" fill="#9aa6dc" opacity="0.72" transform="rotate(-23 566.2 239.0)"/>
<rect x="571.6" y="228.0" width="2" height="1" fill="#9aa6dc" opacity="0.76" transform="rotate(-9 571.6 228.0)"/>
<rect x="561.6" y="246.5" width="2" height="1" fill="#8fb0e0" opacity="0.66" transform="rotate(-14 561.6 246.5)"/>
<rect x="554.3" y="255.2" width="2.5" height="1" fill="#e79a6a" opacity="0.58" transform="rotate(12 554.3 255.2)"/>
<rect x="564.2" y="260.7" width="2" height="1" fill="#f0a070" opacity="0.35" transform="rotate(25 564.2 260.7)"/>
<rect x="551.6" y="251.5" width="1" height="1" fill="#e79a6a" opacity="0.45" transform="rotate(39 551.6 251.5)"/>
<rect x="546.7" y="247.3" width="2" height="1" fill="#9aa6dc" opacity="0.72" transform="rotate(34 546.7 247.3)"/>
<rect x="548.3" y="236.4" width="1" height="1" fill="#7f8fd0" opacity="0.61" transform="rotate(-57 548.3 236.4)"/>
<rect x="537.0" y="242.1" width="2.5" height="1" fill="#7f8fd0" opacity="0.44" transform="rotate(-1 537.0 242.1)"/>
<rect x="537.9" y="245.1" width="1" height="1" fill="#c77fc0" opacity="0.73" transform="rotate(-23 537.9 245.1)"/>
<rect x="571.7" y="249.1" width="2" height="1" fill="#c77fc0" opacity="0.70" transform="rotate(6 571.7 249.1)"/>
<rect x="550.9" y="234.3" width="2" height="1" fill="#b58fd8" opacity="0.48" transform="rotate(-27 550.9 234.3)"/>
<rect x="579.2" y="264.7" width="1" height="1" fill="#7f8fd0" opacity="0.63" transform="rotate(-18 579.2 264.7)"/>
<rect x="559.1" y="259.7" width="1.5" height="1" fill="#e79a6a" opacity="0.63" transform="rotate(44 559.1 259.7)"/>
<rect x="566.5" y="247.1" width="1.5" height="1" fill="#e79a6a" opacity="0.61" transform="rotate(47 566.5 247.1)"/>
<rect x="552.7" y="249.2" width="2.5" height="1" fill="#e79a6a" opacity="0.41" transform="rotate(54 552.7 249.2)"/>
<rect x="543.7" y="256.3" width="1" height="1" fill="#9aa6dc" opacity="0.52" transform="rotate(-50 543.7 256.3)"/>
<rect x="544.1" y="234.9" width="1" height="1" fill="#7f8fd0" opacity="0.70" transform="rotate(-45 544.1 234.9)"/>
<rect x="433.2" y="315.6" width="1" height="1" fill="#f0a070" opacity="0.58" transform="rotate(-41 433.2 315.6)"/>
<rect x="454.2" y="280.6" width="2" height="1" fill="#8fb0e0" opacity="0.49" transform="rotate(-44 454.2 280.6)"/>
<rect x="446.5" y="303.0" width="2" height="1" fill="#9aa6dc" opacity="0.52" transform="rotate(6 446.5 303.0)"/>
<rect x="427.9" y="287.9" width="1" height="1" fill="#b58fd8" opacity="0.59" transform="rotate(13 427.9 287.9)"/>
<rect x="419.9" y="297.6" width="1" height="1" fill="#7f8fd0" opacity="0.61" transform="rotate(13 419.9 297.6)"/>
<rect x="446.5" y="301.2" width="2.5" height="1" fill="#b58fd8" opacity="0.36" transform="rotate(-48 446.5 301.2)"/>
<rect x="452.6" y="318.8" width="2" height="1" fill="#c77fc0" opacity="0.49" transform="rotate(-43 452.6 318.8)"/>
<rect x="441.4" y="272.7" width="2" height="1" fill="#e79a6a" opacity="0.50" transform="rotate(-42 441.4 272.7)"/>
<rect x="446.9" y="279.8" width="1" height="1" fill="#b58fd8" opacity="0.50" transform="rotate(-21 446.9 279.8)"/>
<rect x="419.2" y="290.3" width="2" height="1" fill="#7f8fd0" opacity="0.67" transform="rotate(4 419.2 290.3)"/>
<rect x="435.2" y="281.2" width="2" height="1" fill="#8fb0e0" opacity="0.55" transform="rotate(-43 435.2 281.2)"/>
<rect x="462.9" y="302.8" width="1" height="1" fill="#f0a070" opacity="0.66" transform="rotate(19 462.9 302.8)"/>
<rect x="436.7" y="293.5" width="2" height="1" fill="#8fb0e0" opacity="0.60" transform="rotate(5 436.7 293.5)"/>
<rect x="426.4" y="300.6" width="1.5" height="1" fill="#7f8fd0" opacity="0.76" transform="rotate(-48 426.4 300.6)"/>
<rect x="452.1" y="306.4" width="1" height="1" fill="#f0a070" opacity="0.77" transform="rotate(-54 452.1 306.4)"/>
<rect x="449.2" y="292.6" width="1.5" height="1" fill="#b58fd8" opacity="0.52" transform="rotate(46 449.2 292.6)"/>
<rect x="454.6" y="311.8" width="2.5" height="1" fill="#b58fd8" opacity="0.79" transform="rotate(37 454.6 311.8)"/>
<rect x="464.0" y="292.7" width="2" height="1" fill="#9aa6dc" opacity="0.49" transform="rotate(28 464.0 292.7)"/>
<rect x="417.5" y="293.9" width="2.5" height="1" fill="#e79a6a" opacity="0.75" transform="rotate(22 417.5 293.9)"/>
<rect x="424.6" y="296.9" width="2" height="1" fill="#b58fd8" opacity="0.78" transform="rotate(-59 424.6 296.9)"/>
<rect x="455.9" y="280.0" width="1.5" height="1" fill="#c77fc0" opacity="0.35" transform="rotate(-3 455.9 280.0)"/>
<rect x="446.0" y="280.8" width="1" height="1" fill="#8fb0e0" opacity="0.64" transform="rotate(-55 446.0 280.8)"/>
<rect x="443.6" y="295.5" width="2.5" height="1" fill="#8fb0e0" opacity="0.49" transform="rotate(-29 443.6 295.5)"/>
<rect x="435.2" y="293.6" width="2.5" height="1" fill="#8fb0e0" opacity="0.61" transform="rotate(4 435.2 293.6)"/>
<rect x="425.9" y="288.4" width="1.5" height="1" fill="#b58fd8" opacity="0.72" transform="rotate(-51 425.9 288.4)"/>
<rect x="448.3" y="300.1" width="2.5" height="1" fill="#9aa6dc" opacity="0.76" transform="rotate(20 448.3 300.1)"/>
<rect x="442.4" y="301.0" width="1.5" height="1" fill="#9aa6dc" opacity="0.50" transform="rotate(-12 442.4 301.0)"/>
<rect x="439.5" y="294.1" width="2" height="1" fill="#c77fc0" opacity="0.76" transform="rotate(35 439.5 294.1)"/>
<rect x="424.4" y="305.0" width="1.5" height="1" fill="#b58fd8" opacity="0.56" transform="rotate(-4 424.4 305.0)"/>
<rect x="439.2" y="295.5" width="2" height="1" fill="#c77fc0" opacity="0.43" transform="rotate(43 439.2 295.5)"/>
<rect x="457.9" y="275.0" width="2.5" height="1" fill="#b58fd8" opacity="0.74" transform="rotate(-32 457.9 275.0)"/>
<rect x="428.2" y="304.7" width="1" height="1" fill="#8fb0e0" opacity="0.50" transform="rotate(10 428.2 304.7)"/>
<rect x="450.7" y="285.7" width="1" height="1" fill="#b58fd8" opacity="0.78" transform="rotate(46 450.7 285.7)"/>
<rect x="430.3" y="309.5" width="2" height="1" fill="#b58fd8" opacity="0.41" transform="rotate(35 430.3 309.5)"/>
<rect x="464.2" y="295.5" width="1" height="1" fill="#b58fd8" opacity="0.56" transform="rotate(58 464.2 295.5)"/>
<rect x="436.5" y="300.2" width="1" height="1" fill="#8fb0e0" opacity="0.35" transform="rotate(-34 436.5 300.2)"/>
<rect x="431.8" y="297.3" width="2" height="1" fill="#e79a6a" opacity="0.59" transform="rotate(-51 431.8 297.3)"/>
<rect x="421.0" y="288.0" width="2" height="1" fill="#f0a070" opacity="0.38" transform="rotate(7 421.0 288.0)"/>
<rect x="436.9" y="280.0" width="2" height="1" fill="#8fb0e0" opacity="0.76" transform="rotate(31 436.9 280.0)"/>
<rect x="438.4" y="294.3" width="2" height="1" fill="#e79a6a" opacity="0.36" transform="rotate(-54 438.4 294.3)"/>
<rect x="454.9" y="297.8" width="2.5" height="1" fill="#8fb0e0" opacity="0.39" transform="rotate(50 454.9 297.8)"/>
<rect x="457.5" y="300.5" width="1" height="1" fill="#e79a6a" opacity="0.41" transform="rotate(-51 457.5 300.5)"/>
<rect x="462.6" y="291.7" width="2.5" height="1" fill="#c77fc0" opacity="0.71" transform="rotate(56 462.6 291.7)"/>
<rect x="453.9" y="285.1" width="2" height="1" fill="#e79a6a" opacity="0.79" transform="rotate(28 453.9 285.1)"/>
<rect x="428.3" y="270.8" width="1.5" height="1" fill="#c77fc0" opacity="0.39" transform="rotate(58 428.3 270.8)"/>
<rect x="416.0" y="285.4" width="1.5" height="1" fill="#7f8fd0" opacity="0.71" transform="rotate(39 416.0 285.4)"/>
<rect x="432.8" y="302.7" width="2" height="1" fill="#b58fd8" opacity="0.54" transform="rotate(-60 432.8 302.7)"/>
<rect x="456.7" y="302.9" width="1.5" height="1" fill="#9aa6dc" opacity="0.46" transform="rotate(37 456.7 302.9)"/>
<rect x="456.8" y="272.1" width="1" height="1" fill="#9aa6dc" opacity="0.79" transform="rotate(-57 456.8 272.1)"/>
<rect x="446.3" y="282.9" width="2.5" height="1" fill="#7f8fd0" opacity="0.47" transform="rotate(-31 446.3 282.9)"/>
<rect x="450.9" y="300.5" width="1.5" height="1" fill="#7f8fd0" opacity="0.40" transform="rotate(-33 450.9 300.5)"/>
<rect x="405.8" y="305.7" width="2.5" height="1" fill="#e79a6a" opacity="0.49" transform="rotate(-3 405.8 305.7)"/>
<rect x="446.7" y="302.9" width="1.5" height="1" fill="#f0a070" opacity="0.50" transform="rotate(36 446.7 302.9)"/>
<rect x="442.3" y="297.3" width="1" height="1" fill="#f0a070" opacity="0.55" transform="rotate(50 442.3 297.3)"/>
<rect x="456.5" y="304.8" width="2" height="1" fill="#f0a070" opacity="0.73" transform="rotate(-50 456.5 304.8)"/>
<rect x="434.2" y="280.4" width="2.5" height="1" fill="#c77fc0" opacity="0.66" transform="rotate(13 434.2 280.4)"/>
<rect x="432.8" y="295.7" width="2" height="1" fill="#c77fc0" opacity="0.60" transform="rotate(48 432.8 295.7)"/>
<rect x="456.1" y="291.5" width="2" height="1" fill="#e79a6a" opacity="0.45" transform="rotate(16 456.1 291.5)"/>
<rect x="439.3" y="282.5" width="2.5" height="1" fill="#f0a070" opacity="0.58" transform="rotate(-1 439.3 282.5)"/>
<rect x="418.5" y="286.6" width="1.5" height="1" fill="#9aa6dc" opacity="0.45" transform="rotate(40 418.5 286.6)"/>
<rect x="437.6" y="296.2" width="2.5" height="1" fill="#7f8fd0" opacity="0.43" transform="rotate(-5 437.6 296.2)"/>
<rect x="465.4" y="286.8" width="1" height="1" fill="#c77fc0" opacity="0.53" transform="rotate(10 465.4 286.8)"/>
<rect x="431.9" y="290.9" width="1.5" height="1" fill="#8fb0e0" opacity="0.44" transform="rotate(43 431.9 290.9)"/>
<rect x="412.6" y="308.5" width="1.5" height="1" fill="#e79a6a" opacity="0.59" transform="rotate(-28 412.6 308.5)"/>
<rect x="440.2" y="290.9" width="2" height="1" fill="#9aa6dc" opacity="0.68" transform="rotate(41 440.2 290.9)"/>
<rect x="457.4" y="298.6" width="1" height="1" fill="#7f8fd0" opacity="0.36" transform="rotate(55 457.4 298.6)"/>
<rect x="463.6" y="288.1" width="2.5" height="1" fill="#f0a070" opacity="0.51" transform="rotate(41 463.6 288.1)"/>
<rect x="457.8" y="293.9" width="2.5" height="1" fill="#8fb0e0" opacity="0.41" transform="rotate(-56 457.8 293.9)"/>
<rect x="449.2" y="275.5" width="2.5" height="1" fill="#f0a070" opacity="0.49" transform="rotate(-28 449.2 275.5)"/>
<rect x="453.6" y="284.6" width="2" height="1" fill="#7f8fd0" opacity="0.50" transform="rotate(-18 453.6 284.6)"/>
<rect x="471.7" y="306.4" width="1" height="1" fill="#c77fc0" opacity="0.59" transform="rotate(43 471.7 306.4)"/>
<rect x="443.5" y="278.0" width="1" height="1" fill="#b58fd8" opacity="0.71" transform="rotate(-46 443.5 278.0)"/>
<rect x="445.5" y="292.5" width="1.5" height="1" fill="#b58fd8" opacity="0.53" transform="rotate(-33 445.5 292.5)"/>
<rect x="433.3" y="276.1" width="2.5" height="1" fill="#f0a070" opacity="0.66" transform="rotate(56 433.3 276.1)"/>
<rect x="433.1" y="288.9" width="1" height="1" fill="#8fb0e0" opacity="0.39" transform="rotate(30 433.1 288.9)"/>
<rect x="441.7" y="303.0" width="2.5" height="1" fill="#e79a6a" opacity="0.79" transform="rotate(-53 441.7 303.0)"/>
<rect x="433.9" y="294.6" width="2.5" height="1" fill="#b58fd8" opacity="0.44" transform="rotate(-24 433.9 294.6)"/>
<rect x="448.5" y="292.4" width="1.5" height="1" fill="#c77fc0" opacity="0.68" transform="rotate(24 448.5 292.4)"/>
<rect x="448.3" y="285.0" width="2" height="1" fill="#b58fd8" opacity="0.68" transform="rotate(9 448.3 285.0)"/>
<rect x="426.3" y="300.9" width="1" height="1" fill="#7f8fd0" opacity="0.39" transform="rotate(-23 426.3 300.9)"/>
<rect x="442.8" y="294.8" width="1" height="1" fill="#f0a070" opacity="0.68" transform="rotate(14 442.8 294.8)"/>
<rect x="445.5" y="311.4" width="1.5" height="1" fill="#b58fd8" opacity="0.63" transform="rotate(-10 445.5 311.4)"/>
<rect x="440.8" y="303.6" width="2" height="1" fill="#f0a070" opacity="0.63" transform="rotate(52 440.8 303.6)"/>
<rect x="444.6" y="300.7" width="2.5" height="1" fill="#8fb0e0" opacity="0.38" transform="rotate(-24 444.6 300.7)"/>
<rect x="426.0" y="288.4" width="2" height="1" fill="#8fb0e0" opacity="0.64" transform="rotate(28 426.0 288.4)"/>
<rect x="420.3" y="286.7" width="1" height="1" fill="#7f8fd0" opacity="0.80" transform="rotate(28 420.3 286.7)"/>
<rect x="424.5" y="273.2" width="2.5" height="1" fill="#9aa6dc" opacity="0.42" transform="rotate(5 424.5 273.2)"/>
<rect x="424.5" y="309.4" width="1" height="1" fill="#c77fc0" opacity="0.72" transform="rotate(22 424.5 309.4)"/>
<rect x="444.2" y="286.7" width="2" height="1" fill="#e79a6a" opacity="0.50" transform="rotate(-42 444.2 286.7)"/>
<rect x="429.2" y="291.6" width="2.5" height="1" fill="#8fb0e0" opacity="0.65" transform="rotate(18 429.2 291.6)"/>
<rect x="452.5" y="298.9" width="1.5" height="1" fill="#f0a070" opacity="0.72" transform="rotate(-2 452.5 298.9)"/>
<rect x="459.8" y="314.7" width="1" height="1" fill="#c77fc0" opacity="0.35" transform="rotate(-38 459.8 314.7)"/>
<rect x="432.1" y="289.9" width="2.5" height="1" fill="#8fb0e0" opacity="0.59" transform="rotate(19 432.1 289.9)"/>
<rect x="445.5" y="307.5" width="2" height="1" fill="#b58fd8" opacity="0.38" transform="rotate(32 445.5 307.5)"/>
<rect x="445.5" y="302.2" width="2.5" height="1" fill="#9aa6dc" opacity="0.48" transform="rotate(-36 445.5 302.2)"/>
<rect x="434.8" y="295.5" width="1.5" height="1" fill="#c77fc0" opacity="0.46" transform="rotate(-11 434.8 295.5)"/>
<rect x="426.2" y="299.1" width="1.5" height="1" fill="#9aa6dc" opacity="0.74" transform="rotate(-42 426.2 299.1)"/>
<rect x="436.3" y="286.1" width="1.5" height="1" fill="#b58fd8" opacity="0.57" transform="rotate(54 436.3 286.1)"/>
<rect x="442.2" y="299.8" width="1" height="1" fill="#c77fc0" opacity="0.56" transform="rotate(23 442.2 299.8)"/>
<rect x="432.2" y="308.8" width="1" height="1" fill="#9aa6dc" opacity="0.62" transform="rotate(4 432.2 308.8)"/>
<rect x="445.5" y="292.9" width="1" height="1" fill="#8fb0e0" opacity="0.40" transform="rotate(-16 445.5 292.9)"/>
<rect x="452.1" y="286.8" width="2" height="1" fill="#e79a6a" opacity="0.78" transform="rotate(-13 452.1 286.8)"/>
<rect x="426.1" y="299.3" width="1.5" height="1" fill="#b58fd8" opacity="0.70" transform="rotate(5 426.1 299.3)"/>
<rect x="436.3" y="274.4" width="2" height="1" fill="#7f8fd0" opacity="0.69" transform="rotate(-34 436.3 274.4)"/>
<rect x="427.7" y="286.3" width="2.5" height="1" fill="#9aa6dc" opacity="0.70" transform="rotate(-33 427.7 286.3)"/>
<rect x="436.3" y="277.9" width="2.5" height="1" fill="#c77fc0" opacity="0.67" transform="rotate(27 436.3 277.9)"/>
<rect x="486.4" y="289.0" width="2" height="1" fill="#b58fd8" opacity="0.67" transform="rotate(44 486.4 289.0)"/>
<rect x="438.8" y="288.5" width="2" height="1" fill="#c77fc0" opacity="0.58" transform="rotate(18 438.8 288.5)"/>
<rect x="452.3" y="312.5" width="1" height="1" fill="#e79a6a" opacity="0.57" transform="rotate(-51 452.3 312.5)"/>
<rect x="450.0" y="282.8" width="2.5" height="1" fill="#e79a6a" opacity="0.58" transform="rotate(4 450.0 282.8)"/>
<rect x="434.8" y="296.3" width="1" height="1" fill="#7f8fd0" opacity="0.79" transform="rotate(-26 434.8 296.3)"/>
<rect x="433.4" y="300.9" width="2.5" height="1" fill="#f0a070" opacity="0.57" transform="rotate(36 433.4 300.9)"/>
<rect x="446.7" y="292.2" width="2" height="1" fill="#9aa6dc" opacity="0.45" transform="rotate(-20 446.7 292.2)"/>
<rect x="451.1" y="303.9" width="1" height="1" fill="#8fb0e0" opacity="0.64" transform="rotate(11 451.1 303.9)"/>
<rect x="445.4" y="282.0" width="1.5" height="1" fill="#7f8fd0" opacity="0.59" transform="rotate(10 445.4 282.0)"/>
<rect x="459.0" y="300.5" width="2.5" height="1" fill="#e79a6a" opacity="0.64" transform="rotate(-26 459.0 300.5)"/>
<rect x="450.5" y="286.1" width="1.5" height="1" fill="#e79a6a" opacity="0.45" transform="rotate(-27 450.5 286.1)"/>
<rect x="404.7" y="294.9" width="1.5" height="1" fill="#7f8fd0" opacity="0.56" transform="rotate(44 404.7 294.9)"/>
<rect x="454.9" y="291.1" width="2" height="1" fill="#f0a070" opacity="0.71" transform="rotate(-46 454.9 291.1)"/>
<rect x="449.1" y="284.4" width="1.5" height="1" fill="#b58fd8" opacity="0.56" transform="rotate(47 449.1 284.4)"/>
<rect x="430.4" y="293.3" width="2.5" height="1" fill="#9aa6dc" opacity="0.41" transform="rotate(40 430.4 293.3)"/>
<rect x="437.3" y="284.0" width="1.5" height="1" fill="#c77fc0" opacity="0.45" transform="rotate(-28 437.3 284.0)"/>
<rect x="452.7" y="292.5" width="1.5" height="1" fill="#f0a070" opacity="0.58" transform="rotate(13 452.7 292.5)"/>
<rect x="460.0" y="268.0" width="1" height="1" fill="#8fb0e0" opacity="0.46" transform="rotate(16 460.0 268.0)"/>
<rect x="455.4" y="282.5" width="2.5" height="1" fill="#8fb0e0" opacity="0.41" transform="rotate(-59 455.4 282.5)"/>
<rect x="445.6" y="313.4" width="2" height="1" fill="#e79a6a" opacity="0.48" transform="rotate(52 445.6 313.4)"/>
<rect x="450.4" y="295.5" width="1" height="1" fill="#c77fc0" opacity="0.45" transform="rotate(-29 450.4 295.5)"/>
<rect x="452.2" y="310.2" width="1" height="1" fill="#b58fd8" opacity="0.41" transform="rotate(1 452.2 310.2)"/>
<rect x="465.9" y="286.6" width="1.5" height="1" fill="#c77fc0" opacity="0.40" transform="rotate(-5 465.9 286.6)"/>
<rect x="418.0" y="289.6" width="1.5" height="1" fill="#9aa6dc" opacity="0.48" transform="rotate(58 418.0 289.6)"/>
<rect x="457.3" y="293.3" width="1" height="1" fill="#7f8fd0" opacity="0.69" transform="rotate(-9 457.3 293.3)"/>
<rect x="448.0" y="288.0" width="1.5" height="1" fill="#7f8fd0" opacity="0.46" transform="rotate(-21 448.0 288.0)"/>
<rect x="427.5" y="274.3" width="2" height="1" fill="#8fb0e0" opacity="0.39" transform="rotate(24 427.5 274.3)"/>
<rect x="442.8" y="286.1" width="1" height="1" fill="#8fb0e0" opacity="0.56" transform="rotate(30 442.8 286.1)"/>
<rect x="442.9" y="287.2" width="1" height="1" fill="#e79a6a" opacity="0.40" transform="rotate(-47 442.9 287.2)"/>
<rect x="449.3" y="295.2" width="1" height="1" fill="#f0a070" opacity="0.79" transform="rotate(44 449.3 295.2)"/>
<rect x="455.8" y="307.7" width="2.5" height="1" fill="#b58fd8" opacity="0.78" transform="rotate(-31 455.8 307.7)"/>
<rect x="431.3" y="292.6" width="1.5" height="1" fill="#f0a070" opacity="0.35" transform="rotate(-44 431.3 292.6)"/>
<rect x="442.2" y="272.8" width="1" height="1" fill="#7f8fd0" opacity="0.79" transform="rotate(-29 442.2 272.8)"/>
<rect x="437.7" y="317.2" width="1" height="1" fill="#7f8fd0" opacity="0.71" transform="rotate(48 437.7 317.2)"/>
<rect x="424.0" y="285.4" width="1.5" height="1" fill="#7f8fd0" opacity="0.62" transform="rotate(14 424.0 285.4)"/>
<rect x="442.0" y="276.9" width="1" height="1" fill="#7f8fd0" opacity="0.45" transform="rotate(18 442.0 276.9)"/>
<rect x="445.3" y="294.9" width="2.5" height="1" fill="#e79a6a" opacity="0.60" transform="rotate(-17 445.3 294.9)"/>
<rect x="456.2" y="288.3" width="1" height="1" fill="#9aa6dc" opacity="0.60" transform="rotate(43 456.2 288.3)"/>
<rect x="430.9" y="301.9" width="2.5" height="1" fill="#8fb0e0" opacity="0.79" transform="rotate(17 430.9 301.9)"/>
<rect x="447.0" y="307.1" width="2.5" height="1" fill="#e79a6a" opacity="0.36" transform="rotate(-42 447.0 307.1)"/>
<rect x="446.7" y="284.8" width="2.5" height="1" fill="#8fb0e0" opacity="0.72" transform="rotate(-4 446.7 284.8)"/>
<rect x="432.9" y="284.4" width="1.5" height="1" fill="#e79a6a" opacity="0.58" transform="rotate(4 432.9 284.4)"/>
<rect x="443.6" y="313.1" width="1.5" height="1" fill="#c77fc0" opacity="0.51" transform="rotate(-30 443.6 313.1)"/>
<rect x="454.1" y="268.8" width="1.5" height="1" fill="#e79a6a" opacity="0.49" transform="rotate(10 454.1 268.8)"/>
<rect x="393.6" y="228.7" width="2" height="1" fill="#f0a070" opacity="0.50" transform="rotate(-7 393.6 228.7)"/>
<rect x="393.0" y="225.5" width="1.5" height="1" fill="#e79a6a" opacity="0.70" transform="rotate(22 393.0 225.5)"/>
<rect x="391.6" y="228.0" width="2" height="1" fill="#9aa6dc" opacity="0.74" transform="rotate(-24 391.6 228.0)"/>
<rect x="389.1" y="222.3" width="2.5" height="1" fill="#c77fc0" opacity="0.56" transform="rotate(2 389.1 222.3)"/>
<rect x="393.2" y="239.2" width="2.5" height="1" fill="#c77fc0" opacity="0.35" transform="rotate(-18 393.2 239.2)"/>
<rect x="398.8" y="241.1" width="2.5" height="1" fill="#8fb0e0" opacity="0.51" transform="rotate(-30 398.8 241.1)"/>
<rect x="399.5" y="237.1" width="2.5" height="1" fill="#e79a6a" opacity="0.62" transform="rotate(18 399.5 237.1)"/>
<rect x="392.7" y="230.0" width="1" height="1" fill="#c77fc0" opacity="0.62" transform="rotate(-55 392.7 230.0)"/>
<rect x="407.9" y="242.8" width="1.5" height="1" fill="#8fb0e0" opacity="0.44" transform="rotate(41 407.9 242.8)"/>
<rect x="413.6" y="229.9" width="1" height="1" fill="#b58fd8" opacity="0.47" transform="rotate(55 413.6 229.9)"/>
<rect x="384.3" y="236.6" width="2" height="1" fill="#9aa6dc" opacity="0.35" transform="rotate(-52 384.3 236.6)"/>
<rect x="375.5" y="222.7" width="2.5" height="1" fill="#8fb0e0" opacity="0.74" transform="rotate(-47 375.5 222.7)"/>
<rect x="390.3" y="227.6" width="1.5" height="1" fill="#e79a6a" opacity="0.75" transform="rotate(25 390.3 227.6)"/>
<rect x="408.0" y="220.1" width="1.5" height="1" fill="#9aa6dc" opacity="0.70" transform="rotate(-51 408.0 220.1)"/>
<rect x="402.1" y="222.3" width="2.5" height="1" fill="#e79a6a" opacity="0.79" transform="rotate(-21 402.1 222.3)"/>
<rect x="407.3" y="221.8" width="1.5" height="1" fill="#b58fd8" opacity="0.57" transform="rotate(-21 407.3 221.8)"/>
<rect x="388.1" y="218.7" width="2" height="1" fill="#c77fc0" opacity="0.76" transform="rotate(-23 388.1 218.7)"/>
<rect x="390.2" y="228.8" width="2.5" height="1" fill="#e79a6a" opacity="0.51" transform="rotate(-15 390.2 228.8)"/>
<rect x="395.8" y="220.4" width="2" height="1" fill="#7f8fd0" opacity="0.74" transform="rotate(16 395.8 220.4)"/>
<rect x="397.9" y="232.3" width="2" height="1" fill="#9aa6dc" opacity="0.37" transform="rotate(24 397.9 232.3)"/>
<rect x="388.0" y="223.4" width="1.5" height="1" fill="#f0a070" opacity="0.58" transform="rotate(-38 388.0 223.4)"/>
<rect x="393.5" y="225.8" width="2" height="1" fill="#e79a6a" opacity="0.73" transform="rotate(8 393.5 225.8)"/>
<rect x="381.8" y="229.1" width="1.5" height="1" fill="#c77fc0" opacity="0.52" transform="rotate(6 381.8 229.1)"/>
<rect x="402.7" y="231.1" width="2" height="1" fill="#7f8fd0" opacity="0.80" transform="rotate(49 402.7 231.1)"/>
<rect x="392.2" y="225.9" width="1.5" height="1" fill="#b58fd8" opacity="0.48" transform="rotate(37 392.2 225.9)"/>
<rect x="388.3" y="220.7" width="2" height="1" fill="#f0a070" opacity="0.48" transform="rotate(38 388.3 220.7)"/>
<rect x="403.2" y="216.0" width="2" height="1" fill="#9aa6dc" opacity="0.36" transform="rotate(-16 403.2 216.0)"/>
<rect x="381.6" y="225.2" width="2" height="1" fill="#8fb0e0" opacity="0.57" transform="rotate(5 381.6 225.2)"/>
<rect x="397.3" y="227.8" width="1" height="1" fill="#e79a6a" opacity="0.66" transform="rotate(4 397.3 227.8)"/>
<rect x="388.5" y="230.1" width="1" height="1" fill="#9aa6dc" opacity="0.50" transform="rotate(52 388.5 230.1)"/>
<rect x="413.2" y="217.1" width="1.5" height="1" fill="#e79a6a" opacity="0.40" transform="rotate(-17 413.2 217.1)"/>
<rect x="403.8" y="234.5" width="1.5" height="1" fill="#c77fc0" opacity="0.51" transform="rotate(-27 403.8 234.5)"/>
<rect x="397.5" y="228.8" width="1.5" height="1" fill="#b58fd8" opacity="0.38" transform="rotate(54 397.5 228.8)"/>
<rect x="389.9" y="223.4" width="2" height="1" fill="#c77fc0" opacity="0.62" transform="rotate(3 389.9 223.4)"/>
<rect x="407.0" y="216.8" width="1.5" height="1" fill="#e79a6a" opacity="0.35" transform="rotate(33 407.0 216.8)"/>
<rect x="387.7" y="220.2" width="2.5" height="1" fill="#7f8fd0" opacity="0.38" transform="rotate(48 387.7 220.2)"/>
<rect x="388.8" y="237.2" width="1.5" height="1" fill="#7f8fd0" opacity="0.61" transform="rotate(-35 388.8 237.2)"/>
<rect x="390.8" y="239.2" width="1.5" height="1" fill="#8fb0e0" opacity="0.41" transform="rotate(44 390.8 239.2)"/>
<rect x="381.8" y="244.0" width="2" height="1" fill="#9aa6dc" opacity="0.67" transform="rotate(6 381.8 244.0)"/>
<rect x="401.9" y="216.4" width="1.5" height="1" fill="#f0a070" opacity="0.74" transform="rotate(-52 401.9 216.4)"/>
<rect x="381.3" y="231.6" width="2" height="1" fill="#9aa6dc" opacity="0.57" transform="rotate(5 381.3 231.6)"/>
<rect x="403.9" y="233.0" width="1" height="1" fill="#f0a070" opacity="0.61" transform="rotate(-39 403.9 233.0)"/>
<rect x="403.0" y="229.6" width="1.5" height="1" fill="#7f8fd0" opacity="0.63" transform="rotate(-7 403.0 229.6)"/>
<rect x="374.6" y="235.2" width="2.5" height="1" fill="#e79a6a" opacity="0.80" transform="rotate(-35 374.6 235.2)"/>
<rect x="391.5" y="229.3" width="2.5" height="1" fill="#c77fc0" opacity="0.37" transform="rotate(-11 391.5 229.3)"/>
<rect x="408.7" y="220.7" width="1" height="1" fill="#f0a070" opacity="0.79" transform="rotate(6 408.7 220.7)"/>
<rect x="401.1" y="222.1" width="2.5" height="1" fill="#7f8fd0" opacity="0.55" transform="rotate(-10 401.1 222.1)"/>
<rect x="386.7" y="235.9" width="1" height="1" fill="#e79a6a" opacity="0.78" transform="rotate(-37 386.7 235.9)"/>
<rect x="402.1" y="237.8" width="1.5" height="1" fill="#e79a6a" opacity="0.67" transform="rotate(-55 402.1 237.8)"/>
<rect x="391.4" y="222.8" width="2.5" height="1" fill="#e79a6a" opacity="0.45" transform="rotate(4 391.4 222.8)"/>
<rect x="408.0" y="242.3" width="2.5" height="1" fill="#c77fc0" opacity="0.64" transform="rotate(-20 408.0 242.3)"/>
<rect x="396.8" y="241.0" width="2.5" height="1" fill="#e79a6a" opacity="0.54" transform="rotate(-25 396.8 241.0)"/>
<rect x="387.3" y="230.9" width="1.5" height="1" fill="#8fb0e0" opacity="0.75" transform="rotate(30 387.3 230.9)"/>
<rect x="396.6" y="246.0" width="1.5" height="1" fill="#b58fd8" opacity="0.73" transform="rotate(-4 396.6 246.0)"/>
<rect x="390.8" y="216.8" width="2" height="1" fill="#b58fd8" opacity="0.39" transform="rotate(-51 390.8 216.8)"/>
<rect x="378.2" y="230.7" width="2.5" height="1" fill="#b58fd8" opacity="0.68" transform="rotate(42 378.2 230.7)"/>
<rect x="375.7" y="233.0" width="1" height="1" fill="#7f8fd0" opacity="0.39" transform="rotate(33 375.7 233.0)"/>
<rect x="400.3" y="223.9" width="2" height="1" fill="#e79a6a" opacity="0.36" transform="rotate(44 400.3 223.9)"/>
<rect x="411.0" y="236.9" width="2" height="1" fill="#9aa6dc" opacity="0.78" transform="rotate(45 411.0 236.9)"/>
<rect x="410.1" y="224.5" width="1.5" height="1" fill="#7f8fd0" opacity="0.44" transform="rotate(-15 410.1 224.5)"/>
<rect x="393.5" y="236.5" width="2.5" height="1" fill="#e79a6a" opacity="0.41" transform="rotate(10 393.5 236.5)"/>
<rect x="390.2" y="221.5" width="1" height="1" fill="#9aa6dc" opacity="0.48" transform="rotate(-9 390.2 221.5)"/>
<rect x="382.5" y="222.9" width="2" height="1" fill="#b58fd8" opacity="0.37" transform="rotate(-51 382.5 222.9)"/>
<rect x="397.4" y="225.8" width="2" height="1" fill="#b58fd8" opacity="0.38" transform="rotate(-41 397.4 225.8)"/>
<rect x="408.0" y="224.3" width="1.5" height="1" fill="#f0a070" opacity="0.52" transform="rotate(1 408.0 224.3)"/>
<rect x="395.9" y="232.5" width="1.5" height="1" fill="#9aa6dc" opacity="0.36" transform="rotate(-50 395.9 232.5)"/>
<rect x="392.4" y="220.5" width="2.5" height="1" fill="#7f8fd0" opacity="0.49" transform="rotate(58 392.4 220.5)"/>
<rect x="394.3" y="227.8" width="1" height="1" fill="#f0a070" opacity="0.52" transform="rotate(25 394.3 227.8)"/>
<rect x="396.8" y="228.2" width="2.5" height="1" fill="#9aa6dc" opacity="0.77" transform="rotate(-54 396.8 228.2)"/>
<rect x="389.8" y="220.9" width="1.5" height="1" fill="#9aa6dc" opacity="0.80" transform="rotate(1 389.8 220.9)"/>
<rect x="382.8" y="240.2" width="1" height="1" fill="#9aa6dc" opacity="0.80" transform="rotate(19 382.8 240.2)"/>
<rect x="393.6" y="229.8" width="2.5" height="1" fill="#b58fd8" opacity="0.74" transform="rotate(58 393.6 229.8)"/>
<rect x="399.6" y="249.8" width="1.5" height="1" fill="#7f8fd0" opacity="0.40" transform="rotate(35 399.6 249.8)"/>
<rect x="387.0" y="225.2" width="2.5" height="1" fill="#7f8fd0" opacity="0.43" transform="rotate(23 387.0 225.2)"/>
<rect x="385.2" y="221.1" width="2" height="1" fill="#8fb0e0" opacity="0.56" transform="rotate(-55 385.2 221.1)"/>
<rect x="388.3" y="237.3" width="1.5" height="1" fill="#8fb0e0" opacity="0.47" transform="rotate(49 388.3 237.3)"/>
<rect x="415.2" y="226.0" width="1" height="1" fill="#e79a6a" opacity="0.66" transform="rotate(41 415.2 226.0)"/>
<rect x="398.0" y="221.2" width="2" height="1" fill="#c77fc0" opacity="0.71" transform="rotate(19 398.0 221.2)"/>
<rect x="378.4" y="225.8" width="1" height="1" fill="#7f8fd0" opacity="0.46" transform="rotate(13 378.4 225.8)"/>
<rect x="390.7" y="229.2" width="1.5" height="1" fill="#7f8fd0" opacity="0.39" transform="rotate(-15 390.7 229.2)"/>
<rect x="521.4" y="262.9" width="1" height="1" fill="#b58fd8" opacity="0.60" transform="rotate(54 521.4 262.9)"/>
<rect x="509.5" y="281.5" width="1.5" height="1" fill="#c77fc0" opacity="0.54" transform="rotate(23 509.5 281.5)"/>
<rect x="529.9" y="290.3" width="1" height="1" fill="#f0a070" opacity="0.59" transform="rotate(-18 529.9 290.3)"/>
<rect x="523.0" y="284.1" width="1.5" height="1" fill="#8fb0e0" opacity="0.51" transform="rotate(-4 523.0 284.1)"/>
<rect x="521.4" y="286.5" width="1.5" height="1" fill="#c77fc0" opacity="0.44" transform="rotate(13 521.4 286.5)"/>
<rect x="526.2" y="281.2" width="2" height="1" fill="#c77fc0" opacity="0.72" transform="rotate(-0 526.2 281.2)"/>
<rect x="528.4" y="282.7" width="2.5" height="1" fill="#c77fc0" opacity="0.67" transform="rotate(-17 528.4 282.7)"/>
<rect x="514.9" y="273.7" width="1.5" height="1" fill="#7f8fd0" opacity="0.78" transform="rotate(-25 514.9 273.7)"/>
<rect x="499.7" y="276.0" width="1" height="1" fill="#9aa6dc" opacity="0.39" transform="rotate(-17 499.7 276.0)"/>
<rect x="523.3" y="280.4" width="1" height="1" fill="#9aa6dc" opacity="0.65" transform="rotate(50 523.3 280.4)"/>
<rect x="514.4" y="293.1" width="2.5" height="1" fill="#9aa6dc" opacity="0.60" transform="rotate(40 514.4 293.1)"/>
<rect x="529.5" y="289.9" width="1" height="1" fill="#7f8fd0" opacity="0.71" transform="rotate(-7 529.5 289.9)"/>
<rect x="503.2" y="276.5" width="1.5" height="1" fill="#9aa6dc" opacity="0.54" transform="rotate(-50 503.2 276.5)"/>
<rect x="519.8" y="277.2" width="2.5" height="1" fill="#8fb0e0" opacity="0.37" transform="rotate(57 519.8 277.2)"/>
<rect x="520.9" y="272.0" width="1" height="1" fill="#f0a070" opacity="0.69" transform="rotate(-27 520.9 272.0)"/>
<rect x="514.0" y="276.5" width="1" height="1" fill="#c77fc0" opacity="0.59" transform="rotate(20 514.0 276.5)"/>
<rect x="527.9" y="296.0" width="1" height="1" fill="#9aa6dc" opacity="0.49" transform="rotate(42 527.9 296.0)"/>
<rect x="528.0" y="281.3" width="1" height="1" fill="#8fb0e0" opacity="0.71" transform="rotate(-45 528.0 281.3)"/>
<rect x="531.6" y="287.8" width="1.5" height="1" fill="#7f8fd0" opacity="0.44" transform="rotate(-28 531.6 287.8)"/>
<rect x="518.1" y="276.5" width="1" height="1" fill="#e79a6a" opacity="0.58" transform="rotate(-44 518.1 276.5)"/>
<rect x="516.2" y="283.4" width="1" height="1" fill="#b58fd8" opacity="0.43" transform="rotate(50 516.2 283.4)"/>
<rect x="528.6" y="275.3" width="1.5" height="1" fill="#8fb0e0" opacity="0.43" transform="rotate(-21 528.6 275.3)"/>
<rect x="521.0" y="287.5" width="1" height="1" fill="#8fb0e0" opacity="0.50" transform="rotate(32 521.0 287.5)"/>
<rect x="505.9" y="275.0" width="2" height="1" fill="#7f8fd0" opacity="0.73" transform="rotate(1 505.9 275.0)"/>
<rect x="515.8" y="277.4" width="2.5" height="1" fill="#f0a070" opacity="0.62" transform="rotate(55 515.8 277.4)"/>
<rect x="519.6" y="288.0" width="1" height="1" fill="#b58fd8" opacity="0.42" transform="rotate(38 519.6 288.0)"/>
<rect x="519.6" y="285.5" width="2.5" height="1" fill="#7f8fd0" opacity="0.58" transform="rotate(7 519.6 285.5)"/>
<rect x="524.1" y="255.0" width="2" height="1" fill="#9aa6dc" opacity="0.76" transform="rotate(24 524.1 255.0)"/>
<rect x="515.0" y="282.4" width="2" height="1" fill="#c77fc0" opacity="0.69" transform="rotate(-60 515.0 282.4)"/>
<rect x="526.5" y="280.6" width="1" height="1" fill="#b58fd8" opacity="0.79" transform="rotate(28 526.5 280.6)"/>
<rect x="526.8" y="270.8" width="2.5" height="1" fill="#c77fc0" opacity="0.65" transform="rotate(-25 526.8 270.8)"/>
<rect x="529.9" y="275.7" width="1.5" height="1" fill="#7f8fd0" opacity="0.72" transform="rotate(46 529.9 275.7)"/>
<rect x="515.6" y="294.5" width="2.5" height="1" fill="#b58fd8" opacity="0.75" transform="rotate(-52 515.6 294.5)"/>
<rect x="523.3" y="276.6" width="1.5" height="1" fill="#b58fd8" opacity="0.56" transform="rotate(48 523.3 276.6)"/>
<rect x="528.9" y="256.5" width="1.5" height="1" fill="#e79a6a" opacity="0.68" transform="rotate(20 528.9 256.5)"/>
<rect x="512.0" y="287.8" width="1.5" height="1" fill="#8fb0e0" opacity="0.78" transform="rotate(-1 512.0 287.8)"/>
<rect x="524.2" y="288.4" width="1" height="1" fill="#e79a6a" opacity="0.58" transform="rotate(9 524.2 288.4)"/>
<rect x="519.5" y="281.1" width="2" height="1" fill="#c77fc0" opacity="0.79" transform="rotate(-35 519.5 281.1)"/>
<rect x="516.7" y="282.7" width="2.5" height="1" fill="#e79a6a" opacity="0.72" transform="rotate(-56 516.7 282.7)"/>
<rect x="524.5" y="267.7" width="1.5" height="1" fill="#b58fd8" opacity="0.47" transform="rotate(52 524.5 267.7)"/>
<rect x="513.6" y="288.6" width="2" height="1" fill="#8fb0e0" opacity="0.66" transform="rotate(-47 513.6 288.6)"/>
<rect x="526.6" y="282.2" width="1" height="1" fill="#7f8fd0" opacity="0.72" transform="rotate(-30 526.6 282.2)"/>
<rect x="532.2" y="278.7" width="2" height="1" fill="#9aa6dc" opacity="0.73" transform="rotate(48 532.2 278.7)"/>
<rect x="519.6" y="279.6" width="1.5" height="1" fill="#7f8fd0" opacity="0.66" transform="rotate(-19 519.6 279.6)"/>
<rect x="525.2" y="287.4" width="2.5" height="1" fill="#f0a070" opacity="0.60" transform="rotate(-44 525.2 287.4)"/>
<rect x="520.6" y="291.5" width="1" height="1" fill="#7f8fd0" opacity="0.40" transform="rotate(20 520.6 291.5)"/>
<rect x="518.6" y="295.9" width="2" height="1" fill="#e79a6a" opacity="0.69" transform="rotate(9 518.6 295.9)"/>
<rect x="529.9" y="285.4" width="2" height="1" fill="#8fb0e0" opacity="0.48" transform="rotate(60 529.9 285.4)"/>
<rect x="510.9" y="268.3" width="1" height="1" fill="#f0a070" opacity="0.43" transform="rotate(59 510.9 268.3)"/>
<rect x="518.3" y="272.2" width="1" height="1" fill="#b58fd8" opacity="0.48" transform="rotate(-16 518.3 272.2)"/>
<rect x="518.8" y="274.2" width="1" height="1" fill="#b58fd8" opacity="0.40" transform="rotate(46 518.8 274.2)"/>
<rect x="501.0" y="272.7" width="2.5" height="1" fill="#e79a6a" opacity="0.41" transform="rotate(37 501.0 272.7)"/>
<rect x="516.4" y="273.7" width="2" height="1" fill="#e79a6a" opacity="0.75" transform="rotate(16 516.4 273.7)"/>
<rect x="518.1" y="281.5" width="1.5" height="1" fill="#9aa6dc" opacity="0.67" transform="rotate(-58 518.1 281.5)"/>
<rect x="526.1" y="273.6" width="2" height="1" fill="#e79a6a" opacity="0.49" transform="rotate(-52 526.1 273.6)"/>
<rect x="520.0" y="291.9" width="2" height="1" fill="#7f8fd0" opacity="0.73" transform="rotate(8 520.0 291.9)"/>
<rect x="521.2" y="266.4" width="2" height="1" fill="#8fb0e0" opacity="0.77" transform="rotate(-44 521.2 266.4)"/>
<rect x="514.6" y="265.9" width="1" height="1" fill="#8fb0e0" opacity="0.62" transform="rotate(-1 514.6 265.9)"/>
<rect x="521.0" y="293.5" width="2.5" height="1" fill="#7f8fd0" opacity="0.39" transform="rotate(-54 521.0 293.5)"/>
<rect x="525.7" y="280.3" width="1" height="1" fill="#b58fd8" opacity="0.61" transform="rotate(-9 525.7 280.3)"/>
<rect x="523.8" y="268.5" width="2.5" height="1" fill="#e79a6a" opacity="0.45" transform="rotate(-3 523.8 268.5)"/>
<rect x="524.0" y="298.5" width="1.5" height="1" fill="#f0a070" opacity="0.38" transform="rotate(46 524.0 298.5)"/>
<rect x="521.9" y="272.1" width="2.5" height="1" fill="#8fb0e0" opacity="0.68" transform="rotate(6 521.9 272.1)"/>
<rect x="519.4" y="287.8" width="1.5" height="1" fill="#b58fd8" opacity="0.56" transform="rotate(-13 519.4 287.8)"/>
<rect x="512.0" y="268.7" width="1.5" height="1" fill="#9aa6dc" opacity="0.59" transform="rotate(24 512.0 268.7)"/>
<rect x="519.2" y="279.1" width="2.5" height="1" fill="#8fb0e0" opacity="0.75" transform="rotate(2 519.2 279.1)"/>
<rect x="522.7" y="269.6" width="2" height="1" fill="#7f8fd0" opacity="0.53" transform="rotate(-26 522.7 269.6)"/>
<rect x="524.6" y="302.8" width="1.5" height="1" fill="#c77fc0" opacity="0.68" transform="rotate(-15 524.6 302.8)"/>
<rect x="514.1" y="263.8" width="2" height="1" fill="#9aa6dc" opacity="0.78" transform="rotate(-15 514.1 263.8)"/>
<rect x="530.9" y="271.4" width="1.5" height="1" fill="#e79a6a" opacity="0.56" transform="rotate(12 530.9 271.4)"/>
<rect x="512.6" y="285.0" width="2.5" height="1" fill="#b58fd8" opacity="0.75" transform="rotate(50 512.6 285.0)"/>
<rect x="520.5" y="276.8" width="1.5" height="1" fill="#e79a6a" opacity="0.35" transform="rotate(-36 520.5 276.8)"/>
<rect x="517.2" y="286.4" width="2.5" height="1" fill="#c77fc0" opacity="0.41" transform="rotate(18 517.2 286.4)"/>
<rect x="514.6" y="285.4" width="1" height="1" fill="#f0a070" opacity="0.50" transform="rotate(-57 514.6 285.4)"/>
<rect x="527.4" y="270.0" width="2" height="1" fill="#b58fd8" opacity="0.75" transform="rotate(-30 527.4 270.0)"/>
<rect x="519.6" y="282.3" width="1" height="1" fill="#f0a070" opacity="0.60" transform="rotate(-54 519.6 282.3)"/>
<rect x="518.2" y="290.6" width="1.5" height="1" fill="#f0a070" opacity="0.63" transform="rotate(17 518.2 290.6)"/>
<rect x="520.8" y="276.0" width="1.5" height="1" fill="#b58fd8" opacity="0.43" transform="rotate(-31 520.8 276.0)"/>
<rect x="530.3" y="284.6" width="1.5" height="1" fill="#7f8fd0" opacity="0.43" transform="rotate(-39 530.3 284.6)"/>
<rect x="533.0" y="274.9" width="1.5" height="1" fill="#e79a6a" opacity="0.79" transform="rotate(-41 533.0 274.9)"/>
<circle cx="475" cy="207.5" r="92" fill="#ec9dbb" opacity="0.55" filter="url(#blur6)"/>
<path d="M564.0,207.5 L564.3,213.3 L562.8,219.0 L560.6,224.4 L558.4,229.7 L556.4,235.0 L554.1,240.2 L551.1,245.1 L547.5,249.6 L543.7,253.9 L540.3,258.4 L537.0,263.1 L533.2,267.6 L528.4,271.0 L522.5,272.9 L516.2,273.9 L510.4,275.0 L505.4,277.4 L500.9,281.5 L496.1,286.3 L490.7,290.3 L484.6,292.1 L478.2,291.5 L471.9,289.3 L466.0,286.9 L460.3,285.1 L454.5,283.9 L448.7,282.6 L443.2,280.7 L437.9,278.2 L432.8,275.4 L427.6,272.8 L422.3,270.2 L417.3,267.0 L413.2,262.9 L410.2,258.0 L407.8,252.9 L404.8,248.3 L400.5,244.3 L395.1,240.5 L389.9,236.3 L386.5,231.1 L385.8,225.1 L387.5,218.9 L390.2,213.0 L392.3,207.5 L393.0,202.2 L392.8,196.8 L392.6,191.2 L393.4,185.7 L395.1,180.5 L397.2,175.3 L399.5,170.2 L401.8,165.0 L404.8,160.1 L408.8,155.9 L413.5,152.3 L418.3,149.0 L422.6,145.2 L426.5,140.6 L430.4,135.7 L435.1,131.5 L441.1,129.4 L447.8,129.7 L454.6,131.5 L460.9,133.1 L466.6,133.4 L472.2,132.0 L477.9,129.9 L484.0,128.2 L490.1,128.0 L496.0,129.1 L501.8,130.8 L507.5,132.7 L513.2,134.8 L518.6,137.3 L523.6,140.6 L528.0,144.5 L532.2,148.5 L536.7,152.1 L541.8,155.4 L546.7,159.1 L550.4,163.7 L552.2,169.4 L552.0,175.6 L551.3,181.7 L551.5,187.1 L553.8,191.9 L557.6,196.7 L561.5,201.9 L564.0,207.5Z" fill="#e58aa6" opacity="0.95" filter="url(#blur2)"/>
<path d="M564.0,207.5 L564.3,213.3 L562.8,219.0 L560.6,224.4 L558.4,229.7 L556.4,235.0 L554.1,240.2 L551.1,245.1 L547.5,249.6 L543.7,253.9 L540.3,258.4 L537.0,263.1 L533.2,267.6 L528.4,271.0 L522.5,272.9 L516.2,273.9 L510.4,275.0 L505.4,277.4 L500.9,281.5 L496.1,286.3 L490.7,290.3 L484.6,292.1 L478.2,291.5 L471.9,289.3 L466.0,286.9 L460.3,285.1 L454.5,283.9 L448.7,282.6 L443.2,280.7 L437.9,278.2 L432.8,275.4 L427.6,272.8 L422.3,270.2 L417.3,267.0 L413.2,262.9 L410.2,258.0 L407.8,252.9 L404.8,248.3 L400.5,244.3 L395.1,240.5 L389.9,236.3 L386.5,231.1 L385.8,225.1 L387.5,218.9 L390.2,213.0 L392.3,207.5 L393.0,202.2 L392.8,196.8 L392.6,191.2 L393.4,185.7 L395.1,180.5 L397.2,175.3 L399.5,170.2 L401.8,165.0 L404.8,160.1 L408.8,155.9 L413.5,152.3 L418.3,149.0 L422.6,145.2 L426.5,140.6 L430.4,135.7 L435.1,131.5 L441.1,129.4 L447.8,129.7 L454.6,131.5 L460.9,133.1 L466.6,133.4 L472.2,132.0 L477.9,129.9 L484.0,128.2 L490.1,128.0 L496.0,129.1 L501.8,130.8 L507.5,132.7 L513.2,134.8 L518.6,137.3 L523.6,140.6 L528.0,144.5 L532.2,148.5 L536.7,152.1 L541.8,155.4 L546.7,159.1 L550.4,163.7 L552.2,169.4 L552.0,175.6 L551.3,181.7 L551.5,187.1 L553.8,191.9 L557.6,196.7 L561.5,201.9 L564.0,207.5Z" fill="none" stroke="#d86a94" stroke-width="1" opacity="0.5"/>
<clipPath id="tcc"><path d="M564.0,207.5 L564.3,213.3 L562.8,219.0 L560.6,224.4 L558.4,229.7 L556.4,235.0 L554.1,240.2 L551.1,245.1 L547.5,249.6 L543.7,253.9 L540.3,258.4 L537.0,263.1 L533.2,267.6 L528.4,271.0 L522.5,272.9 L516.2,273.9 L510.4,275.0 L505.4,277.4 L500.9,281.5 L496.1,286.3 L490.7,290.3 L484.6,292.1 L478.2,291.5 L471.9,289.3 L466.0,286.9 L460.3,285.1 L454.5,283.9 L448.7,282.6 L443.2,280.7 L437.9,278.2 L432.8,275.4 L427.6,272.8 L422.3,270.2 L417.3,267.0 L413.2,262.9 L410.2,258.0 L407.8,252.9 L404.8,248.3 L400.5,244.3 L395.1,240.5 L389.9,236.3 L386.5,231.1 L385.8,225.1 L387.5,218.9 L390.2,213.0 L392.3,207.5 L393.0,202.2 L392.8,196.8 L392.6,191.2 L393.4,185.7 L395.1,180.5 L397.2,175.3 L399.5,170.2 L401.8,165.0 L404.8,160.1 L408.8,155.9 L413.5,152.3 L418.3,149.0 L422.6,145.2 L426.5,140.6 L430.4,135.7 L435.1,131.5 L441.1,129.4 L447.8,129.7 L454.6,131.5 L460.9,133.1 L466.6,133.4 L472.2,132.0 L477.9,129.9 L484.0,128.2 L490.1,128.0 L496.0,129.1 L501.8,130.8 L507.5,132.7 L513.2,134.8 L518.6,137.3 L523.6,140.6 L528.0,144.5 L532.2,148.5 L536.7,152.1 L541.8,155.4 L546.7,159.1 L550.4,163.7 L552.2,169.4 L552.0,175.6 L551.3,181.7 L551.5,187.1 L553.8,191.9 L557.6,196.7 L561.5,201.9 L564.0,207.5Z"/></clipPath>
<g clip-path="url(#tcc)">
<ellipse cx="477" cy="205.5" rx="66" ry="60" fill="#efb0bf" filter="url(#blur4)"/>
<ellipse cx="477" cy="207.5" rx="72" ry="66" fill="none" stroke="#f6ccd6" stroke-width="3" opacity="0.5" filter="url(#blur1)"/>
<ellipse cx="477" cy="193.5" rx="50" ry="40" fill="#f2b0b4" opacity="0.8" filter="url(#blur4)"/>
<ellipse cx="453" cy="221.5" rx="28" ry="26" fill="#eea2ae" opacity="0.6" filter="url(#blur4)"/>
<ellipse cx="487" cy="226.5" rx="42" ry="17" fill="#b88c86" opacity="0.75" filter="url(#blur2)" transform="rotate(-22 487 226.5)"/>
<ellipse cx="479" cy="233.5" rx="30" ry="9" fill="#a9847c" opacity="0.45" filter="url(#blur2)" transform="rotate(-20 479 233.5)"/>
<path d="M413,237.5 Q445,277.5 515,265.5" stroke="#fbe4ea" stroke-width="2.6" fill="none" opacity="0.7" filter="url(#blur1)"/>
<path d="M427,155.5 Q480,132.5 531,173.5" stroke="#fbe4ea" stroke-width="2.6" fill="none" opacity="0.7" filter="url(#blur1)"/>
<path d="M461,251.5 Q505,237.5 533,203.5" stroke="#fbe4ea" stroke-width="2.6" fill="none" opacity="0.7" filter="url(#blur1)"/>
<path d="M409,193.5 Q413,225.5 425,243.5" stroke="#fbe4ea" stroke-width="2.6" fill="none" opacity="0.7" filter="url(#blur1)"/>
<path d="M497,163.5 Q527,193.5 519,225.5" stroke="#fbe4ea" stroke-width="2.6" fill="none" opacity="0.7" filter="url(#blur1)"/>
<path d="M435,177.5 Q455,157.5 485,157.5" stroke="#fbe4ea" stroke-width="2.6" fill="none" opacity="0.7" filter="url(#blur1)"/>
<path d="M445,263.5 Q485,283.5 525,269.5" stroke="#fbe4ea" stroke-width="2.6" fill="none" opacity="0.7" filter="url(#blur1)"/>
<path d="M535,227.5 Q541,251.5 523,269.5" stroke="#fbe4ea" stroke-width="2.6" fill="none" opacity="0.7" filter="url(#blur1)"/>
<rect x="505.6" y="244.7" width="1.2" height="1" fill="#b58fd8" opacity="0.28"/>
<rect x="476.8" y="204.9" width="1.2" height="1" fill="#e79a6a" opacity="0.40"/>
<rect x="466.7" y="221.2" width="1.2" height="1" fill="#7f8fd0" opacity="0.34"/>
<rect x="522.0" y="255.2" width="1.2" height="1" fill="#9aa6dc" opacity="0.29"/>
<rect x="448.8" y="142.7" width="1.2" height="1" fill="#f0a070" opacity="0.38"/>
<rect x="512.4" y="262.4" width="1.2" height="1" fill="#7f8fd0" opacity="0.35"/>
<rect x="471.1" y="176.7" width="1.2" height="1" fill="#8fb0e0" opacity="0.38"/>
<rect x="461.0" y="175.8" width="1.2" height="1" fill="#7f8fd0" opacity="0.32"/>
<rect x="441.1" y="247.6" width="1.2" height="1" fill="#9aa6dc" opacity="0.41"/>
<rect x="512.5" y="179.3" width="1.2" height="1" fill="#8fb0e0" opacity="0.23"/>
<rect x="408.0" y="245.9" width="1.2" height="1" fill="#f0a070" opacity="0.33"/>
<rect x="481.4" y="153.3" width="1.2" height="1" fill="#7f8fd0" opacity="0.25"/>
<rect x="439.5" y="208.3" width="1.2" height="1" fill="#b58fd8" opacity="0.30"/>
<rect x="482.8" y="250.3" width="1.2" height="1" fill="#f0a070" opacity="0.25"/>
<rect x="459.0" y="174.2" width="1.2" height="1" fill="#8fb0e0" opacity="0.23"/>
<rect x="408.0" y="200.8" width="1.2" height="1" fill="#b58fd8" opacity="0.42"/>
<rect x="403.6" y="229.5" width="1.2" height="1" fill="#f0a070" opacity="0.35"/>
<rect x="448.8" y="169.9" width="1.2" height="1" fill="#7f8fd0" opacity="0.21"/>
<rect x="504.4" y="272.9" width="1.2" height="1" fill="#e79a6a" opacity="0.37"/>
<rect x="477.1" y="148.7" width="1.2" height="1" fill="#b58fd8" opacity="0.35"/>
<rect x="486.1" y="180.0" width="1.2" height="1" fill="#8fb0e0" opacity="0.35"/>
<rect x="483.7" y="229.4" width="1.2" height="1" fill="#f0a070" opacity="0.39"/>
<rect x="482.7" y="147.6" width="1.2" height="1" fill="#c77fc0" opacity="0.45"/>
<rect x="458.5" y="254.0" width="1.2" height="1" fill="#7f8fd0" opacity="0.27"/>
<rect x="546.8" y="233.6" width="1.2" height="1" fill="#e79a6a" opacity="0.33"/>
<rect x="520.1" y="230.2" width="1.2" height="1" fill="#f0a070" opacity="0.22"/>
<rect x="505.6" y="140.2" width="1.2" height="1" fill="#8fb0e0" opacity="0.40"/>
<rect x="529.7" y="256.9" width="1.2" height="1" fill="#8fb0e0" opacity="0.29"/>
<rect x="482.6" y="236.3" width="1.2" height="1" fill="#9aa6dc" opacity="0.42"/>
<rect x="503.8" y="243.6" width="1.2" height="1" fill="#8fb0e0" opacity="0.25"/>
<rect x="425.8" y="252.8" width="1.2" height="1" fill="#b58fd8" opacity="0.20"/>
<rect x="464.7" y="213.3" width="1.2" height="1" fill="#9aa6dc" opacity="0.43"/>
<rect x="505.1" y="279.1" width="1.2" height="1" fill="#8fb0e0" opacity="0.33"/>
<rect x="461.6" y="205.3" width="1.2" height="1" fill="#7f8fd0" opacity="0.25"/>
<rect x="480.5" y="222.3" width="1.2" height="1" fill="#8fb0e0" opacity="0.32"/>
<rect x="420.8" y="263.5" width="1.2" height="1" fill="#7f8fd0" opacity="0.35"/>
<rect x="527.8" y="235.8" width="1.2" height="1" fill="#8fb0e0" opacity="0.44"/>
<rect x="479.5" y="181.8" width="1.2" height="1" fill="#8fb0e0" opacity="0.33"/>
<rect x="510.8" y="191.6" width="1.2" height="1" fill="#7f8fd0" opacity="0.35"/>
<rect x="472.9" y="259.0" width="1.2" height="1" fill="#8fb0e0" opacity="0.34"/>
<rect x="521.0" y="224.3" width="1.2" height="1" fill="#b58fd8" opacity="0.31"/>
<rect x="524.1" y="203.4" width="1.2" height="1" fill="#8fb0e0" opacity="0.34"/>
<rect x="465.8" y="255.8" width="1.2" height="1" fill="#7f8fd0" opacity="0.30"/>
<rect x="466.7" y="173.7" width="1.2" height="1" fill="#8fb0e0" opacity="0.26"/>
<rect x="405.2" y="176.2" width="1.2" height="1" fill="#e79a6a" opacity="0.29"/>
<rect x="474.2" y="196.3" width="1.2" height="1" fill="#7f8fd0" opacity="0.22"/>
<rect x="430.1" y="269.0" width="1.2" height="1" fill="#b58fd8" opacity="0.22"/>
<rect x="418.5" y="163.6" width="1.2" height="1" fill="#7f8fd0" opacity="0.21"/>
<rect x="487.1" y="145.9" width="1.2" height="1" fill="#b58fd8" opacity="0.28"/>
<rect x="483.5" y="208.0" width="1.2" height="1" fill="#c77fc0" opacity="0.35"/>
<rect x="462.3" y="177.0" width="1.2" height="1" fill="#8fb0e0" opacity="0.29"/>
<rect x="482.1" y="240.4" width="1.2" height="1" fill="#e79a6a" opacity="0.44"/>
<rect x="450.9" y="161.7" width="1.2" height="1" fill="#c77fc0" opacity="0.44"/>
<rect x="448.0" y="181.1" width="1.2" height="1" fill="#8fb0e0" opacity="0.27"/>
<rect x="509.2" y="273.1" width="1.2" height="1" fill="#e79a6a" opacity="0.34"/>
<rect x="409.6" y="214.2" width="1.2" height="1" fill="#b58fd8" opacity="0.42"/>
<rect x="462.4" y="156.8" width="1.2" height="1" fill="#9aa6dc" opacity="0.20"/>
<rect x="502.8" y="185.7" width="1.2" height="1" fill="#b58fd8" opacity="0.21"/>
<rect x="445.3" y="173.1" width="1.2" height="1" fill="#c77fc0" opacity="0.38"/>
<rect x="518.7" y="265.8" width="1.2" height="1" fill="#8fb0e0" opacity="0.29"/>
<rect x="548.5" y="187.3" width="1.2" height="1" fill="#8fb0e0" opacity="0.41"/>
<rect x="427.0" y="266.5" width="1.2" height="1" fill="#b58fd8" opacity="0.32"/>
<rect x="480.7" y="132.8" width="1.2" height="1" fill="#8fb0e0" opacity="0.28"/>
<rect x="510.0" y="215.6" width="1.2" height="1" fill="#8fb0e0" opacity="0.31"/>
<rect x="505.6" y="220.2" width="1.2" height="1" fill="#c77fc0" opacity="0.38"/>
<rect x="503.4" y="170.1" width="1.2" height="1" fill="#b58fd8" opacity="0.35"/>
<rect x="479.9" y="243.5" width="1.2" height="1" fill="#f0a070" opacity="0.28"/>
<rect x="490.7" y="152.1" width="1.2" height="1" fill="#b58fd8" opacity="0.35"/>
<rect x="424.5" y="211.7" width="1.2" height="1" fill="#7f8fd0" opacity="0.37"/>
<rect x="429.5" y="237.6" width="1.2" height="1" fill="#9aa6dc" opacity="0.45"/>
<rect x="436.5" y="268.0" width="1.2" height="1" fill="#b58fd8" opacity="0.26"/>
<rect x="454.9" y="249.9" width="1.2" height="1" fill="#b58fd8" opacity="0.42"/>
<rect x="413.4" y="242.1" width="1.2" height="1" fill="#f0a070" opacity="0.32"/>
<rect x="402.0" y="229.5" width="1.2" height="1" fill="#f0a070" opacity="0.30"/>
<rect x="449.7" y="208.1" width="1.2" height="1" fill="#b58fd8" opacity="0.29"/>
<rect x="427.5" y="168.9" width="1.2" height="1" fill="#7f8fd0" opacity="0.31"/>
<rect x="468.2" y="254.3" width="1.2" height="1" fill="#9aa6dc" opacity="0.23"/>
<rect x="467.8" y="276.5" width="1.2" height="1" fill="#e79a6a" opacity="0.35"/>
<rect x="438.2" y="275.6" width="1.2" height="1" fill="#7f8fd0" opacity="0.28"/>
<rect x="489.4" y="187.2" width="1.2" height="1" fill="#f0a070" opacity="0.34"/>
<rect x="479.3" y="169.0" width="1.2" height="1" fill="#b58fd8" opacity="0.21"/>
<rect x="438.8" y="211.4" width="1.2" height="1" fill="#7f8fd0" opacity="0.31"/>
<rect x="412.2" y="242.3" width="1.2" height="1" fill="#8fb0e0" opacity="0.23"/>
<rect x="470.5" y="227.0" width="1.2" height="1" fill="#b58fd8" opacity="0.40"/>
<rect x="505.0" y="212.2" width="1.2" height="1" fill="#c77fc0" opacity="0.25"/>
<rect x="474.1" y="241.6" width="1.2" height="1" fill="#f0a070" opacity="0.32"/>
<rect x="542.8" y="183.3" width="1.2" height="1" fill="#9aa6dc" opacity="0.33"/>
<rect x="449.8" y="266.1" width="1.2" height="1" fill="#7f8fd0" opacity="0.21"/>
<rect x="446.0" y="210.0" width="1.2" height="1" fill="#f0a070" opacity="0.24"/>
<rect x="493.9" y="210.4" width="1.2" height="1" fill="#e79a6a" opacity="0.44"/>
<rect x="422.2" y="178.6" width="1.2" height="1" fill="#b58fd8" opacity="0.43"/>
<rect x="451.9" y="241.2" width="1.2" height="1" fill="#e79a6a" opacity="0.22"/>
<rect x="541.8" y="172.6" width="1.2" height="1" fill="#f0a070" opacity="0.38"/>
<rect x="437.1" y="204.6" width="1.2" height="1" fill="#7f8fd0" opacity="0.35"/>
<rect x="478.8" y="229.1" width="1.2" height="1" fill="#f0a070" opacity="0.27"/>
<rect x="467.6" y="208.9" width="1.2" height="1" fill="#7f8fd0" opacity="0.27"/>
<rect x="469.4" y="280.3" width="1.2" height="1" fill="#8fb0e0" opacity="0.37"/>
<rect x="476.5" y="149.7" width="1.2" height="1" fill="#e79a6a" opacity="0.31"/>
<rect x="432.5" y="226.8" width="1.2" height="1" fill="#b58fd8" opacity="0.22"/>
<rect x="423.1" y="251.9" width="1.2" height="1" fill="#f0a070" opacity="0.25"/>
<rect x="539.5" y="210.7" width="1.2" height="1" fill="#b58fd8" opacity="0.24"/>
<rect x="456.1" y="212.3" width="1.2" height="1" fill="#f0a070" opacity="0.28"/>
<rect x="479.6" y="136.0" width="1.2" height="1" fill="#9aa6dc" opacity="0.32"/>
<rect x="527.8" y="263.8" width="1.2" height="1" fill="#f0a070" opacity="0.29"/>
<rect x="419.3" y="197.4" width="1.2" height="1" fill="#e79a6a" opacity="0.23"/>
<rect x="478.3" y="149.3" width="1.2" height="1" fill="#f0a070" opacity="0.22"/>
<rect x="514.5" y="173.4" width="1.2" height="1" fill="#9aa6dc" opacity="0.23"/>
<rect x="532.7" y="214.2" width="1.2" height="1" fill="#8fb0e0" opacity="0.24"/>
<rect x="527.7" y="196.9" width="1.2" height="1" fill="#c77fc0" opacity="0.21"/>
<rect x="546.4" y="190.3" width="1.2" height="1" fill="#7f8fd0" opacity="0.30"/>
<rect x="432.5" y="192.5" width="1.2" height="1" fill="#9aa6dc" opacity="0.41"/>
<rect x="427.2" y="148.8" width="1.2" height="1" fill="#f0a070" opacity="0.40"/>
<rect x="447.1" y="220.1" width="1.2" height="1" fill="#7f8fd0" opacity="0.28"/>
<rect x="536.0" y="174.4" width="1.2" height="1" fill="#f0a070" opacity="0.39"/>
<rect x="431.3" y="243.2" width="1.2" height="1" fill="#b58fd8" opacity="0.36"/>
<rect x="446.3" y="267.5" width="1.2" height="1" fill="#7f8fd0" opacity="0.38"/>
<rect x="441.8" y="258.3" width="1.2" height="1" fill="#f0a070" opacity="0.28"/>
<rect x="455.0" y="269.1" width="1.2" height="1" fill="#7f8fd0" opacity="0.29"/>
<rect x="421.5" y="198.6" width="1.2" height="1" fill="#b58fd8" opacity="0.39"/>
<rect x="475.7" y="158.5" width="1.2" height="1" fill="#8fb0e0" opacity="0.36"/>
<rect x="518.6" y="271.2" width="1.2" height="1" fill="#8fb0e0" opacity="0.22"/>
<rect x="518.9" y="269.1" width="1.2" height="1" fill="#e79a6a" opacity="0.30"/>
<rect x="453.9" y="197.3" width="1.2" height="1" fill="#9aa6dc" opacity="0.35"/>
<rect x="462.2" y="210.9" width="1.2" height="1" fill="#9aa6dc" opacity="0.37"/>
<rect x="503.1" y="196.8" width="1.2" height="1" fill="#9aa6dc" opacity="0.32"/>
<rect x="467.4" y="265.6" width="1.2" height="1" fill="#f0a070" opacity="0.28"/>
<rect x="501.0" y="239.3" width="1.2" height="1" fill="#f0a070" opacity="0.22"/>
<rect x="445.0" y="162.3" width="1.2" height="1" fill="#b58fd8" opacity="0.28"/>
<rect x="428.0" y="248.7" width="1.2" height="1" fill="#7f8fd0" opacity="0.26"/>
<rect x="471.6" y="202.8" width="1.2" height="1" fill="#b58fd8" opacity="0.24"/>
<rect x="418.5" y="172.8" width="1.2" height="1" fill="#e79a6a" opacity="0.23"/>
<rect x="440.0" y="215.9" width="1.2" height="1" fill="#e79a6a" opacity="0.21"/>
<rect x="465.3" y="282.2" width="1.2" height="1" fill="#e79a6a" opacity="0.32"/>
<rect x="490.0" y="214.6" width="1.2" height="1" fill="#8fb0e0" opacity="0.44"/>
<rect x="502.9" y="204.5" width="1.2" height="1" fill="#9aa6dc" opacity="0.29"/>
<rect x="403.5" y="206.1" width="1.2" height="1" fill="#8fb0e0" opacity="0.37"/>
<rect x="490.7" y="193.8" width="1.2" height="1" fill="#7f8fd0" opacity="0.20"/>
<rect x="425.1" y="228.7" width="1.2" height="1" fill="#9aa6dc" opacity="0.31"/>
<rect x="431.5" y="257.8" width="1.2" height="1" fill="#f0a070" opacity="0.44"/>
<rect x="420.1" y="237.5" width="1.2" height="1" fill="#9aa6dc" opacity="0.32"/>
<rect x="481.5" y="216.7" width="1.2" height="1" fill="#e79a6a" opacity="0.24"/>
<rect x="512.3" y="271.5" width="1.2" height="1" fill="#f0a070" opacity="0.21"/>
<rect x="518.8" y="156.7" width="1.2" height="1" fill="#e79a6a" opacity="0.21"/>
<rect x="469.2" y="138.2" width="1.2" height="1" fill="#e79a6a" opacity="0.28"/>
<rect x="468.7" y="230.5" width="1.2" height="1" fill="#f0a070" opacity="0.36"/>
<rect x="445.2" y="240.9" width="1.2" height="1" fill="#b58fd8" opacity="0.40"/>
<rect x="420.7" y="250.7" width="1.2" height="1" fill="#9aa6dc" opacity="0.45"/>
<rect x="428.4" y="230.3" width="1.2" height="1" fill="#e79a6a" opacity="0.40"/>
<rect x="516.8" y="265.4" width="1.2" height="1" fill="#9aa6dc" opacity="0.41"/>
<rect x="433.9" y="237.2" width="1.2" height="1" fill="#b58fd8" opacity="0.41"/>
<rect x="444.6" y="244.2" width="1.2" height="1" fill="#b58fd8" opacity="0.41"/>
<rect x="541.5" y="170.5" width="1.2" height="1" fill="#8fb0e0" opacity="0.44"/>
<rect x="494.3" y="248.9" width="1.2" height="1" fill="#e79a6a" opacity="0.29"/>
<rect x="552.7" y="207.7" width="1.2" height="1" fill="#e79a6a" opacity="0.31"/>
<rect x="458.7" y="271.0" width="1.2" height="1" fill="#b58fd8" opacity="0.40"/>
<rect x="445.3" y="150.8" width="1.2" height="1" fill="#c77fc0" opacity="0.40"/>
<rect x="507.9" y="256.2" width="1.2" height="1" fill="#f0a070" opacity="0.32"/>
<rect x="410.3" y="180.9" width="1.2" height="1" fill="#c77fc0" opacity="0.28"/>
<rect x="416.8" y="180.2" width="1.2" height="1" fill="#f0a070" opacity="0.32"/>
<rect x="444.1" y="189.4" width="1.2" height="1" fill="#f0a070" opacity="0.37"/>
<rect x="421.9" y="259.0" width="1.2" height="1" fill="#f0a070" opacity="0.39"/>
<rect x="441.1" y="238.9" width="1.2" height="1" fill="#c77fc0" opacity="0.42"/>
<rect x="413.7" y="178.4" width="1.2" height="1" fill="#e79a6a" opacity="0.43"/>
<rect x="542.7" y="236.4" width="1.2" height="1" fill="#8fb0e0" opacity="0.25"/>
<rect x="443.0" y="245.4" width="1.2" height="1" fill="#7f8fd0" opacity="0.39"/>
<rect x="451.4" y="220.2" width="1.2" height="1" fill="#b58fd8" opacity="0.34"/>
<rect x="515.5" y="267.7" width="1.2" height="1" fill="#8fb0e0" opacity="0.32"/>
<rect x="428.1" y="203.2" width="1.2" height="1" fill="#c77fc0" opacity="0.40"/>
<rect x="425.9" y="231.0" width="1.2" height="1" fill="#9aa6dc" opacity="0.44"/>
<rect x="502.6" y="189.6" width="1.2" height="1" fill="#b58fd8" opacity="0.21"/>
<rect x="424.0" y="162.2" width="1.2" height="1" fill="#f0a070" opacity="0.38"/>
<rect x="454.9" y="268.5" width="1.2" height="1" fill="#e79a6a" opacity="0.41"/>
<rect x="508.8" y="158.3" width="1.2" height="1" fill="#f0a070" opacity="0.45"/>
<rect x="474.0" y="212.8" width="1.2" height="1" fill="#7f8fd0" opacity="0.33"/>
<rect x="431.8" y="151.0" width="1.2" height="1" fill="#f0a070" opacity="0.30"/>
<rect x="523.6" y="203.6" width="1.2" height="1" fill="#f0a070" opacity="0.43"/>
<rect x="477.3" y="277.5" width="1.2" height="1" fill="#e79a6a" opacity="0.29"/>
<rect x="447.6" y="249.4" width="1.2" height="1" fill="#b58fd8" opacity="0.37"/>
<rect x="484.0" y="227.6" width="1.2" height="1" fill="#b58fd8" opacity="0.34"/>
<rect x="448.2" y="174.2" width="1.2" height="1" fill="#b58fd8" opacity="0.23"/>
<rect x="501.9" y="138.4" width="1.2" height="1" fill="#b58fd8" opacity="0.25"/>
<rect x="474.7" y="279.5" width="1.2" height="1" fill="#f0a070" opacity="0.33"/>
<rect x="467.9" y="144.7" width="1.2" height="1" fill="#7f8fd0" opacity="0.39"/>
<rect x="463.2" y="167.9" width="1.2" height="1" fill="#7f8fd0" opacity="0.34"/>
<rect x="456.8" y="243.1" width="1.2" height="1" fill="#f0a070" opacity="0.45"/>
<rect x="506.8" y="195.5" width="1.2" height="1" fill="#f0a070" opacity="0.29"/>
<rect x="545.2" y="221.7" width="1.2" height="1" fill="#8fb0e0" opacity="0.37"/>
<rect x="416.2" y="242.5" width="1.2" height="1" fill="#f0a070" opacity="0.43"/>
<rect x="551.6" y="211.7" width="1.2" height="1" fill="#8fb0e0" opacity="0.34"/>
<rect x="452.2" y="237.9" width="1.2" height="1" fill="#c77fc0" opacity="0.35"/>
<rect x="536.5" y="211.2" width="1.2" height="1" fill="#c77fc0" opacity="0.45"/>
<rect x="492.1" y="137.9" width="1.2" height="1" fill="#c77fc0" opacity="0.41"/>
<rect x="460.5" y="243.8" width="1.2" height="1" fill="#7f8fd0" opacity="0.40"/>
<rect x="460.6" y="249.0" width="1.2" height="1" fill="#b58fd8" opacity="0.43"/>
<rect x="494.8" y="244.5" width="1.2" height="1" fill="#e79a6a" opacity="0.22"/>
<rect x="446.9" y="270.7" width="1.2" height="1" fill="#8fb0e0" opacity="0.24"/>
<rect x="532.2" y="223.6" width="1.2" height="1" fill="#f0a070" opacity="0.23"/>
<rect x="500.0" y="171.1" width="1.2" height="1" fill="#e79a6a" opacity="0.22"/>
<rect x="532.9" y="178.3" width="1.2" height="1" fill="#9aa6dc" opacity="0.30"/>
<rect x="457.7" y="134.2" width="1.2" height="1" fill="#b58fd8" opacity="0.29"/>
<rect x="528.4" y="155.8" width="1.2" height="1" fill="#b58fd8" opacity="0.44"/>
<rect x="433.1" y="220.2" width="1.2" height="1" fill="#8fb0e0" opacity="0.36"/>
<rect x="425.8" y="208.5" width="1.2" height="1" fill="#b58fd8" opacity="0.40"/>
<rect x="520.5" y="170.7" width="1.2" height="1" fill="#8fb0e0" opacity="0.44"/>
<rect x="446.3" y="250.0" width="1.2" height="1" fill="#c77fc0" opacity="0.43"/>
<rect x="539.7" y="244.7" width="1.2" height="1" fill="#f0a070" opacity="0.25"/>
<rect x="433.8" y="213.4" width="1.2" height="1" fill="#8fb0e0" opacity="0.35"/>
<rect x="477.5" y="269.0" width="1.2" height="1" fill="#f0a070" opacity="0.25"/>
<rect x="436.1" y="156.4" width="1.2" height="1" fill="#9aa6dc" opacity="0.32"/>
<rect x="405.1" y="179.7" width="1.2" height="1" fill="#b58fd8" opacity="0.42"/>
<rect x="487.6" y="160.2" width="1.2" height="1" fill="#c77fc0" opacity="0.38"/>
<rect x="466.4" y="146.4" width="1.2" height="1" fill="#c77fc0" opacity="0.22"/>
<rect x="447.8" y="228.7" width="1.2" height="1" fill="#b58fd8" opacity="0.37"/>
<rect x="416.3" y="198.5" width="1.2" height="1" fill="#9aa6dc" opacity="0.37"/>
<rect x="405.5" y="201.4" width="1.2" height="1" fill="#f0a070" opacity="0.32"/>
<rect x="518.0" y="173.3" width="1.2" height="1" fill="#e79a6a" opacity="0.35"/>
<rect x="546.9" y="230.5" width="1.2" height="1" fill="#f0a070" opacity="0.26"/>
<rect x="526.2" y="153.2" width="1.2" height="1" fill="#8fb0e0" opacity="0.42"/>
<rect x="529.0" y="234.2" width="1.2" height="1" fill="#f0a070" opacity="0.44"/>
<rect x="475.5" y="154.8" width="1.2" height="1" fill="#7f8fd0" opacity="0.42"/>
<rect x="450.2" y="259.0" width="1.2" height="1" fill="#8fb0e0" opacity="0.22"/>
<rect x="527.1" y="153.3" width="1.2" height="1" fill="#7f8fd0" opacity="0.40"/>
<rect x="474.0" y="262.9" width="1.2" height="1" fill="#8fb0e0" opacity="0.37"/>
<rect x="497.3" y="177.5" width="1.2" height="1" fill="#9aa6dc" opacity="0.31"/>
<rect x="514.0" y="268.1" width="1.2" height="1" fill="#8fb0e0" opacity="0.35"/>
<rect x="502.0" y="231.4" width="1.2" height="1" fill="#f0a070" opacity="0.43"/>
<rect x="517.3" y="223.0" width="1.2" height="1" fill="#9aa6dc" opacity="0.37"/>
<rect x="424.8" y="253.2" width="1.2" height="1" fill="#7f8fd0" opacity="0.23"/>
<rect x="501.2" y="258.5" width="1.2" height="1" fill="#c77fc0" opacity="0.29"/>
<rect x="402.7" y="204.6" width="1.2" height="1" fill="#b58fd8" opacity="0.26"/>
<rect x="490.6" y="217.6" width="1.2" height="1" fill="#9aa6dc" opacity="0.41"/>
<rect x="549.4" y="184.4" width="1.2" height="1" fill="#b58fd8" opacity="0.24"/>
<rect x="468.1" y="134.8" width="1.2" height="1" fill="#e79a6a" opacity="0.36"/>
<rect x="542.8" y="172.8" width="1.2" height="1" fill="#9aa6dc" opacity="0.36"/>
<rect x="477.2" y="153.3" width="1.2" height="1" fill="#9aa6dc" opacity="0.35"/>
<rect x="449.9" y="198.7" width="1.2" height="1" fill="#e79a6a" opacity="0.41"/>
<rect x="423.6" y="229.2" width="1.2" height="1" fill="#b58fd8" opacity="0.23"/>
<rect x="498.4" y="215.2" width="1.2" height="1" fill="#e79a6a" opacity="0.25"/>
<rect x="522.7" y="265.6" width="1.2" height="1" fill="#e79a6a" opacity="0.25"/>
<rect x="454.5" y="176.2" width="1.2" height="1" fill="#7f8fd0" opacity="0.31"/>
<rect x="512.2" y="236.5" width="1.2" height="1" fill="#e79a6a" opacity="0.39"/>
<rect x="521.6" y="266.2" width="1.2" height="1" fill="#8fb0e0" opacity="0.27"/>
<rect x="545.7" y="229.2" width="1.2" height="1" fill="#7f8fd0" opacity="0.37"/>
<rect x="487.1" y="221.0" width="1.2" height="1" fill="#e79a6a" opacity="0.41"/>
<rect x="405.2" y="240.8" width="1.2" height="1" fill="#8fb0e0" opacity="0.27"/>
<rect x="535.0" y="254.8" width="1.2" height="1" fill="#8fb0e0" opacity="0.37"/>
<rect x="466.3" y="145.0" width="1.2" height="1" fill="#7f8fd0" opacity="0.41"/>
<rect x="448.9" y="227.2" width="1.2" height="1" fill="#b58fd8" opacity="0.22"/>
<rect x="527.4" y="231.2" width="1.2" height="1" fill="#7f8fd0" opacity="0.28"/>
<rect x="448.7" y="231.9" width="1.2" height="1" fill="#b58fd8" opacity="0.38"/>
<rect x="445.0" y="222.0" width="1.2" height="1" fill="#c77fc0" opacity="0.43"/>
<rect x="431.9" y="191.6" width="1.2" height="1" fill="#8fb0e0" opacity="0.28"/>
<rect x="537.9" y="216.8" width="1.2" height="1" fill="#f0a070" opacity="0.21"/>
<rect x="430.9" y="145.8" width="1.2" height="1" fill="#9aa6dc" opacity="0.36"/>
<rect x="487.0" y="182.7" width="1.2" height="1" fill="#f0a070" opacity="0.37"/>
<rect x="501.5" y="225.4" width="1.2" height="1" fill="#f0a070" opacity="0.22"/>
<rect x="524.6" y="171.3" width="1.2" height="1" fill="#c77fc0" opacity="0.32"/>
<rect x="399.4" y="205.8" width="1.2" height="1" fill="#e79a6a" opacity="0.40"/>
<rect x="510.6" y="167.0" width="1.2" height="1" fill="#e79a6a" opacity="0.42"/>
<rect x="474.8" y="149.9" width="1.2" height="1" fill="#7f8fd0" opacity="0.43"/>
<rect x="524.9" y="217.7" width="1.2" height="1" fill="#9aa6dc" opacity="0.36"/>
<rect x="447.2" y="247.3" width="1.2" height="1" fill="#b58fd8" opacity="0.30"/>
<rect x="485.6" y="188.6" width="1.2" height="1" fill="#8fb0e0" opacity="0.33"/>
<rect x="549.7" y="200.7" width="1.2" height="1" fill="#8fb0e0" opacity="0.42"/>
<rect x="412.5" y="180.5" width="1.2" height="1" fill="#f0a070" opacity="0.23"/>
<rect x="456.3" y="178.4" width="1.2" height="1" fill="#b58fd8" opacity="0.31"/>
<rect x="497.3" y="226.3" width="1.2" height="1" fill="#f0a070" opacity="0.36"/>
<rect x="544.4" y="199.7" width="1.2" height="1" fill="#c77fc0" opacity="0.37"/>
<rect x="425.4" y="196.1" width="1.2" height="1" fill="#f0a070" opacity="0.22"/>
<rect x="429.5" y="254.5" width="1.2" height="1" fill="#e79a6a" opacity="0.22"/>
<rect x="432.8" y="144.1" width="1.2" height="1" fill="#8fb0e0" opacity="0.32"/>
<rect x="529.0" y="246.2" width="1.2" height="1" fill="#9aa6dc" opacity="0.31"/>
<rect x="471.0" y="177.8" width="1.2" height="1" fill="#8fb0e0" opacity="0.36"/>
<rect x="494.5" y="266.1" width="1.2" height="1" fill="#8fb0e0" opacity="0.30"/>
<rect x="479.1" y="146.2" width="1.2" height="1" fill="#c77fc0" opacity="0.41"/>
<rect x="446.6" y="181.5" width="1.2" height="1" fill="#e79a6a" opacity="0.30"/>
<rect x="513.4" y="161.6" width="1.2" height="1" fill="#8fb0e0" opacity="0.33"/>
<rect x="471.4" y="209.2" width="1.2" height="1" fill="#7f8fd0" opacity="0.35"/>
<rect x="487.4" y="142.8" width="1.2" height="1" fill="#c77fc0" opacity="0.31"/>
<rect x="496.0" y="214.7" width="1.2" height="1" fill="#b58fd8" opacity="0.30"/>
<rect x="444.7" y="269.8" width="1.2" height="1" fill="#9aa6dc" opacity="0.22"/>
<rect x="451.7" y="258.8" width="1.2" height="1" fill="#b58fd8" opacity="0.33"/>
<rect x="490.1" y="249.1" width="1.2" height="1" fill="#f0a070" opacity="0.34"/>
<rect x="502.5" y="215.2" width="1.2" height="1" fill="#f0a070" opacity="0.32"/>
<rect x="422.3" y="250.1" width="1.2" height="1" fill="#8fb0e0" opacity="0.21"/>
<rect x="524.7" y="206.2" width="1.2" height="1" fill="#8fb0e0" opacity="0.33"/>
<rect x="472.0" y="216.0" width="1.2" height="1" fill="#7f8fd0" opacity="0.29"/>
<rect x="469.7" y="138.7" width="1.2" height="1" fill="#f0a070" opacity="0.22"/>
<rect x="535.7" y="173.5" width="1.2" height="1" fill="#e79a6a" opacity="0.24"/>
<rect x="439.4" y="257.3" width="1.2" height="1" fill="#f0a070" opacity="0.21"/>
<rect x="455.9" y="158.1" width="1.2" height="1" fill="#8fb0e0" opacity="0.43"/>
<rect x="547.5" y="200.4" width="1.2" height="1" fill="#c77fc0" opacity="0.28"/>
<rect x="477.2" y="141.6" width="1.2" height="1" fill="#c77fc0" opacity="0.42"/>
<rect x="481.0" y="133.3" width="1.2" height="1" fill="#f0a070" opacity="0.34"/>
<rect x="473.0" y="131.5" width="1.2" height="1" fill="#9aa6dc" opacity="0.38"/>
<rect x="518.0" y="266.7" width="1.2" height="1" fill="#f0a070" opacity="0.43"/>
<rect x="445.3" y="277.8" width="1.2" height="1" fill="#8fb0e0" opacity="0.22"/>
<rect x="469.5" y="145.3" width="1.2" height="1" fill="#f0a070" opacity="0.29"/>
<rect x="417.3" y="223.0" width="1.2" height="1" fill="#b58fd8" opacity="0.43"/>
<rect x="497.6" y="231.9" width="1.2" height="1" fill="#c77fc0" opacity="0.33"/>
<rect x="494.7" y="233.0" width="1.2" height="1" fill="#e79a6a" opacity="0.20"/>
<rect x="498.5" y="140.1" width="1.2" height="1" fill="#c77fc0" opacity="0.30"/>
<rect x="492.0" y="152.4" width="1.2" height="1" fill="#f0a070" opacity="0.42"/>
<rect x="400.4" y="220.0" width="1.2" height="1" fill="#b58fd8" opacity="0.24"/>
<rect x="491.9" y="184.3" width="1.2" height="1" fill="#8fb0e0" opacity="0.24"/>
<rect x="444.6" y="252.5" width="1.2" height="1" fill="#b58fd8" opacity="0.22"/>
<rect x="443.1" y="193.5" width="1.2" height="1" fill="#e79a6a" opacity="0.45"/>
<rect x="478.3" y="166.5" width="1.2" height="1" fill="#e79a6a" opacity="0.44"/>
<rect x="432.8" y="197.3" width="1.2" height="1" fill="#e79a6a" opacity="0.42"/>
<rect x="446.2" y="154.8" width="1.2" height="1" fill="#c77fc0" opacity="0.37"/>
<rect x="418.2" y="156.2" width="1.2" height="1" fill="#c77fc0" opacity="0.31"/>
<rect x="458.5" y="136.4" width="1.2" height="1" fill="#7f8fd0" opacity="0.44"/>
<rect x="452.7" y="244.2" width="1.2" height="1" fill="#9aa6dc" opacity="0.40"/>
<rect x="444.4" y="228.3" width="1.2" height="1" fill="#7f8fd0" opacity="0.26"/>
<rect x="491.5" y="283.1" width="1.2" height="1" fill="#9aa6dc" opacity="0.20"/>
<rect x="458.0" y="278.7" width="1.2" height="1" fill="#b58fd8" opacity="0.39"/>
<rect x="443.3" y="214.1" width="1.2" height="1" fill="#8fb0e0" opacity="0.38"/>
<rect x="464.9" y="252.9" width="1.2" height="1" fill="#8fb0e0" opacity="0.38"/>
<rect x="477.6" y="167.6" width="1.2" height="1" fill="#f0a070" opacity="0.33"/>
<rect x="518.3" y="223.4" width="1.2" height="1" fill="#8fb0e0" opacity="0.21"/>
<rect x="506.1" y="164.1" width="1.2" height="1" fill="#7f8fd0" opacity="0.29"/>
<rect x="504.9" y="274.1" width="1.2" height="1" fill="#7f8fd0" opacity="0.27"/>
<rect x="481.9" y="277.2" width="1.2" height="1" fill="#8fb0e0" opacity="0.25"/>
<rect x="488.4" y="175.1" width="1.2" height="1" fill="#f0a070" opacity="0.28"/>
<rect x="507.4" y="220.4" width="1.2" height="1" fill="#8fb0e0" opacity="0.36"/>
<rect x="443.9" y="250.6" width="1.2" height="1" fill="#8fb0e0" opacity="0.37"/>
<rect x="407.2" y="176.6" width="1.2" height="1" fill="#9aa6dc" opacity="0.30"/>
<rect x="443.6" y="148.9" width="1.2" height="1" fill="#f0a070" opacity="0.32"/>
<rect x="481.0" y="182.4" width="1.2" height="1" fill="#f0a070" opacity="0.38"/>
<rect x="454.5" y="210.7" width="1.2" height="1" fill="#c77fc0" opacity="0.25"/>
<rect x="467.1" y="273.4" width="1.2" height="1" fill="#f0a070" opacity="0.32"/>
<rect x="417.2" y="235.8" width="1.2" height="1" fill="#e79a6a" opacity="0.40"/>
<rect x="472.3" y="273.5" width="1.2" height="1" fill="#c77fc0" opacity="0.31"/>
<rect x="522.7" y="148.7" width="1.2" height="1" fill="#7f8fd0" opacity="0.39"/>
<rect x="404.1" y="225.8" width="1.2" height="1" fill="#b58fd8" opacity="0.42"/>
<rect x="416.7" y="205.6" width="1.2" height="1" fill="#e79a6a" opacity="0.30"/>
<rect x="457.3" y="203.7" width="1.2" height="1" fill="#b58fd8" opacity="0.24"/>
<rect x="533.3" y="252.3" width="1.2" height="1" fill="#8fb0e0" opacity="0.30"/>
<rect x="434.0" y="216.5" width="1.2" height="1" fill="#9aa6dc" opacity="0.31"/>
<rect x="507.8" y="147.8" width="1.2" height="1" fill="#7f8fd0" opacity="0.44"/>
<rect x="503.9" y="230.3" width="1.2" height="1" fill="#e79a6a" opacity="0.20"/>
<rect x="471.5" y="133.6" width="1.2" height="1" fill="#e79a6a" opacity="0.23"/>
<rect x="419.9" y="179.8" width="1.2" height="1" fill="#e79a6a" opacity="0.34"/>
<rect x="518.6" y="227.1" width="1.2" height="1" fill="#f0a070" opacity="0.39"/>
<rect x="454.7" y="210.1" width="1.2" height="1" fill="#e79a6a" opacity="0.25"/>
<rect x="461.1" y="273.7" width="1.2" height="1" fill="#f0a070" opacity="0.36"/>
<rect x="535.8" y="223.3" width="1.2" height="1" fill="#f0a070" opacity="0.38"/>
<rect x="490.5" y="269.3" width="1.2" height="1" fill="#e79a6a" opacity="0.27"/>
<rect x="430.0" y="198.9" width="1.2" height="1" fill="#8fb0e0" opacity="0.30"/>
<rect x="449.6" y="235.4" width="1.2" height="1" fill="#8fb0e0" opacity="0.37"/>
<ellipse cx="493" cy="187.5" rx="30" ry="22" fill="#eea39f" opacity="0.45" filter="url(#blur4)"/>
<path d="M400,237.5 Q435,289.5 505,283.5" stroke="#cf6690" stroke-width="1" fill="none" opacity="0.55"/>
<path d="M445,133.5 Q405,155.5 399,197.5" stroke="#cf6690" stroke-width="1" fill="none" opacity="0.55"/>
<path d="M515,141.5 Q549,167.5 551,213.5" stroke="#cf6690" stroke-width="1" fill="none" opacity="0.55"/>
</g>
<text x="469.5" y="189" fill="#b02c6c" font-size="12.2" font-weight="bold" text-anchor="middle">TUMOR CELL</text>
<circle cx="95.6" cy="101" r="78" fill="none" stroke="#ee98ae" stroke-width="5" opacity="0.6" filter="url(#blur2)"/>
<circle cx="110.5" cy="366.6" r="78" fill="none" stroke="#ee98ae" stroke-width="5" opacity="0.6" filter="url(#blur2)"/>
<circle cx="295.3" cy="477" r="78" fill="none" stroke="#ee98ae" stroke-width="5" opacity="0.6" filter="url(#blur2)"/>
<circle cx="847" cy="366.2" r="78" fill="none" stroke="#ee98ae" stroke-width="5" opacity="0.6" filter="url(#blur2)"/>
<circle cx="847" cy="516" r="51" fill="#f4b8cb" opacity="0.72" filter="url(#blur6)"/>
<circle cx="847" cy="516" r="40" fill="#f7cbd8" opacity="0.5" filter="url(#blur6)"/>
<rect x="498" y="471.5" width="105.5" height="101.5" rx="4" fill="none" stroke="#f08fb2" stroke-width="4" opacity="0.5" filter="url(#blur2)"/>
<circle cx="95.6" cy="101" r="75.9" class="circ"/>
<circle cx="110.5" cy="366.6" r="75.9" class="circ"/>
<circle cx="295.3" cy="477" r="75.9" class="circ"/>
<circle cx="847" cy="366.2" r="75.9" class="circ"/>
<g>
<path d="M58,58 Q59,51 67,50 Q76,50 78,55 L80,96 L60,98 Z" fill="#ae96cd" stroke="#9b84bd" stroke-width="0.6"/>
<path d="M62,56 Q64,53 68,53 L70,96 L63,97 Z" fill="#d2c1e8" opacity="0.9"/>
<path d="M87,52 L87,40 Q90,35 94,38 L94,52 Z" fill="#e2525e"/>
<path d="M97,50 L97,36 Q101,31 105,34 L105,50 Z" fill="#e2525e"/>
<path d="M106,51 L106,41 Q109,37 112,40 L112,52 Z" fill="#e2525e"/>
<path d="M89,50 L89,41 Q90,39 92,41 L92,50 Z M99,48 L99,38 Q101,35 102,38 L102,48 Z" fill="#f09aa0" opacity="0.8"/>
<path d="M79,88 L80,62 Q83,47 96,46 Q110,46 114,56 L115,76 Q108,72 100,74 L96,88 Z" fill="#e4545f"/>
<path d="M83,84 L84,63 Q86,52 93,50 Q96,53 93,58 Q88,64 89,84 Z" fill="#ef8088" opacity="0.85"/>
<path d="M100,54 Q110,52 112,60 L110,68 Q104,62 100,54 Z" fill="#ec6f7a" opacity="0.8"/>
<clipPath id="hbc"><path d="M56.5,86.2 L57.2,85.2 L57.9,84.4 L58.8,83.7 L59.8,83.1 L60.8,82.7 L61.8,82.3 L62.9,82.0 L63.9,81.8 L64.9,81.6 L65.9,81.5 L66.8,81.5 L67.6,81.6 L68.3,81.9 L69.0,82.3 L69.7,82.7 L70.5,83.1 L71.4,83.4 L72.5,83.7 L73.8,83.8 L75.3,83.8 L77.1,83.6 L79.3,83.3 L81.7,83.0 L84.2,82.5 L86.9,82.0 L89.6,81.4 L92.2,80.8 L94.6,80.2 L96.9,79.6 L98.8,79.0 L100.5,78.4 L101.9,77.7 L103.2,76.9 L104.4,76.1 L105.4,75.3 L106.4,74.6 L107.4,73.8 L108.4,73.1 L109.5,72.5 L110.6,72.0 L111.8,71.5 L113.0,71.1 L114.1,70.7 L115.3,70.4 L116.5,70.1 L117.7,69.9 L118.9,69.7 L120.1,69.6 L121.2,69.6 L122.4,69.7 L123.6,69.9 L124.8,70.1 L126.1,70.4 L127.4,70.7 L128.6,71.2 L129.9,71.7 L131.0,72.2 L132.1,72.9 L133.1,73.6 L134.0,74.4 L134.8,75.3 L135.5,76.2 L136.1,77.3 L136.6,78.4 L137.0,79.6 L137.5,80.8 L137.8,82.1 L138.2,83.4 L138.5,84.8 L138.8,86.2 L139.1,87.6 L139.3,89.1 L139.5,90.6 L139.7,92.2 L139.8,93.8 L139.9,95.5 L139.9,97.2 L140.0,98.9 L140.0,100.7 L140.0,102.6 L140.0,104.6 L140.0,106.6 L139.9,108.8 L139.9,111.1 L139.8,113.3 L139.7,115.6 L139.5,117.8 L139.3,119.9 L139.1,121.9 L138.8,123.8 L138.5,125.5 L138.1,127.1 L137.8,128.7 L137.4,130.1 L136.9,131.5 L136.4,132.8 L135.9,134.1 L135.3,135.4 L134.7,136.7 L134.0,138.0 L133.3,139.3 L132.5,140.6 L131.7,141.9 L130.8,143.1 L129.9,144.4 L129.0,145.6 L128.0,146.7 L126.9,147.8 L125.8,148.8 L124.7,149.7 L123.5,150.6 L122.2,151.4 L120.8,152.1 L119.4,152.8 L117.9,153.5 L116.5,154.0 L115.0,154.5 L113.5,155.0 L112.0,155.3 L110.6,155.6 L109.2,155.8 L107.8,155.9 L106.4,155.9 L105.1,155.9 L103.7,155.8 L102.3,155.6 L100.9,155.4 L99.5,155.1 L98.0,154.8 L96.5,154.4 L94.9,154.0 L93.3,153.4 L91.7,152.9 L90.0,152.2 L88.2,151.6 L86.5,150.8 L84.8,150.0 L83.2,149.2 L81.6,148.3 L80.0,147.4 L78.5,146.4 L76.9,145.4 L75.4,144.3 L73.9,143.1 L72.4,141.9 L71.0,140.7 L69.6,139.5 L68.3,138.2 L67.1,136.9 L65.9,135.6 L64.8,134.3 L63.8,133.0 L62.8,131.7 L61.9,130.4 L61.1,129.0 L60.3,127.6 L59.6,126.2 L58.9,124.7 L58.2,123.1 L57.6,121.5 L57.0,119.8 L56.5,118.0 L56.0,116.1 L55.5,114.2 L55.1,112.2 L54.8,110.2 L54.5,108.2 L54.3,106.3 L54.1,104.4 L54.0,102.6 L54.0,100.8 L54.0,99.0 L54.1,97.1 L54.2,95.3 L54.4,93.5 L54.7,91.8 L55.1,90.2 L55.5,88.7 L55.9,87.4Z"/></clipPath>
<path d="M56.5,86.2 L57.2,85.2 L57.9,84.4 L58.8,83.7 L59.8,83.1 L60.8,82.7 L61.8,82.3 L62.9,82.0 L63.9,81.8 L64.9,81.6 L65.9,81.5 L66.8,81.5 L67.6,81.6 L68.3,81.9 L69.0,82.3 L69.7,82.7 L70.5,83.1 L71.4,83.4 L72.5,83.7 L73.8,83.8 L75.3,83.8 L77.1,83.6 L79.3,83.3 L81.7,83.0 L84.2,82.5 L86.9,82.0 L89.6,81.4 L92.2,80.8 L94.6,80.2 L96.9,79.6 L98.8,79.0 L100.5,78.4 L101.9,77.7 L103.2,76.9 L104.4,76.1 L105.4,75.3 L106.4,74.6 L107.4,73.8 L108.4,73.1 L109.5,72.5 L110.6,72.0 L111.8,71.5 L113.0,71.1 L114.1,70.7 L115.3,70.4 L116.5,70.1 L117.7,69.9 L118.9,69.7 L120.1,69.6 L121.2,69.6 L122.4,69.7 L123.6,69.9 L124.8,70.1 L126.1,70.4 L127.4,70.7 L128.6,71.2 L129.9,71.7 L131.0,72.2 L132.1,72.9 L133.1,73.6 L134.0,74.4 L134.8,75.3 L135.5,76.2 L136.1,77.3 L136.6,78.4 L137.0,79.6 L137.5,80.8 L137.8,82.1 L138.2,83.4 L138.5,84.8 L138.8,86.2 L139.1,87.6 L139.3,89.1 L139.5,90.6 L139.7,92.2 L139.8,93.8 L139.9,95.5 L139.9,97.2 L140.0,98.9 L140.0,100.7 L140.0,102.6 L140.0,104.6 L140.0,106.6 L139.9,108.8 L139.9,111.1 L139.8,113.3 L139.7,115.6 L139.5,117.8 L139.3,119.9 L139.1,121.9 L138.8,123.8 L138.5,125.5 L138.1,127.1 L137.8,128.7 L137.4,130.1 L136.9,131.5 L136.4,132.8 L135.9,134.1 L135.3,135.4 L134.7,136.7 L134.0,138.0 L133.3,139.3 L132.5,140.6 L131.7,141.9 L130.8,143.1 L129.9,144.4 L129.0,145.6 L128.0,146.7 L126.9,147.8 L125.8,148.8 L124.7,149.7 L123.5,150.6 L122.2,151.4 L120.8,152.1 L119.4,152.8 L117.9,153.5 L116.5,154.0 L115.0,154.5 L113.5,155.0 L112.0,155.3 L110.6,155.6 L109.2,155.8 L107.8,155.9 L106.4,155.9 L105.1,155.9 L103.7,155.8 L102.3,155.6 L100.9,155.4 L99.5,155.1 L98.0,154.8 L96.5,154.4 L94.9,154.0 L93.3,153.4 L91.7,152.9 L90.0,152.2 L88.2,151.6 L86.5,150.8 L84.8,150.0 L83.2,149.2 L81.6,148.3 L80.0,147.4 L78.5,146.4 L76.9,145.4 L75.4,144.3 L73.9,143.1 L72.4,141.9 L71.0,140.7 L69.6,139.5 L68.3,138.2 L67.1,136.9 L65.9,135.6 L64.8,134.3 L63.8,133.0 L62.8,131.7 L61.9,130.4 L61.1,129.0 L60.3,127.6 L59.6,126.2 L58.9,124.7 L58.2,123.1 L57.6,121.5 L57.0,119.8 L56.5,118.0 L56.0,116.1 L55.5,114.2 L55.1,112.2 L54.8,110.2 L54.5,108.2 L54.3,106.3 L54.1,104.4 L54.0,102.6 L54.0,100.8 L54.0,99.0 L54.1,97.1 L54.2,95.3 L54.4,93.5 L54.7,91.8 L55.1,90.2 L55.5,88.7 L55.9,87.4Z" fill="#f6dcc5"/>
<g clip-path="url(#hbc)">
<path d="M50,80 L80,80 Q84,100 80,116 Q74,128 62,130 L50,130 Z" fill="#d7a3c3"/>
<path d="M56,92 Q62,86 70,88 Q74,100 70,114 Q64,120 58,118 Z" fill="#e7c0d6" opacity="0.85"/>
<path d="M104,70 L142,70 L142,92 Q128,96 112,92 Q104,84 104,70 Z" fill="#e9a2ae"/>
<path d="M86,86 Q92,76 104,76 Q112,80 114,92 Q106,96 94,96 Z" fill="#ee9cb2"/>
<path d="M84,114 Q96,108 106,116 Q108,132 103,150 Q92,152 87,144 Q82,128 84,114 Z" fill="#e796a3"/>
<path d="M119,96 L142,96 L142,126 Q136,140 127,146 Q121,148 117,146 Q122,128 119,96 Z" fill="#e796a3"/>
<path d="M54,118 Q62,124 70,130 Q68,140 72,146 L54,146 Z" fill="#e4b0c6" opacity="0.9"/>
<path d="M85,120 L106,116 M84,128 L107,124 M86,136 L106,132 M88,144 L104,141 M119,104 L140,108 M120,114 L140,118 M120,124 L139,128 M119,134 L134,138 M118,143 L128,145" stroke="#d67a8c" stroke-width="0.8" opacity="0.8"/>
<path d="M96,98 Q100,104 106,110 M92,122 Q96,130 94,146 M128,108 Q126,124 130,136" stroke="#f7e2cc" stroke-width="1.3" fill="none" opacity="0.9"/>
</g>
<path d="M56.5,86.2 L57.2,85.2 L57.9,84.4 L58.8,83.7 L59.8,83.1 L60.8,82.7 L61.8,82.3 L62.9,82.0 L63.9,81.8 L64.9,81.6 L65.9,81.5 L66.8,81.5 L67.6,81.6 L68.3,81.9 L69.0,82.3 L69.7,82.7 L70.5,83.1 L71.4,83.4 L72.5,83.7 L73.8,83.8 L75.3,83.8 L77.1,83.6 L79.3,83.3 L81.7,83.0 L84.2,82.5 L86.9,82.0 L89.6,81.4 L92.2,80.8 L94.6,80.2 L96.9,79.6 L98.8,79.0 L100.5,78.4 L101.9,77.7 L103.2,76.9 L104.4,76.1 L105.4,75.3 L106.4,74.6 L107.4,73.8 L108.4,73.1 L109.5,72.5 L110.6,72.0 L111.8,71.5 L113.0,71.1 L114.1,70.7 L115.3,70.4 L116.5,70.1 L117.7,69.9 L118.9,69.7 L120.1,69.6 L121.2,69.6 L122.4,69.7 L123.6,69.9 L124.8,70.1 L126.1,70.4 L127.4,70.7 L128.6,71.2 L129.9,71.7 L131.0,72.2 L132.1,72.9 L133.1,73.6 L134.0,74.4 L134.8,75.3 L135.5,76.2 L136.1,77.3 L136.6,78.4 L137.0,79.6 L137.5,80.8 L137.8,82.1 L138.2,83.4 L138.5,84.8 L138.8,86.2 L139.1,87.6 L139.3,89.1 L139.5,90.6 L139.7,92.2 L139.8,93.8 L139.9,95.5 L139.9,97.2 L140.0,98.9 L140.0,100.7 L140.0,102.6 L140.0,104.6 L140.0,106.6 L139.9,108.8 L139.9,111.1 L139.8,113.3 L139.7,115.6 L139.5,117.8 L139.3,119.9 L139.1,121.9 L138.8,123.8 L138.5,125.5 L138.1,127.1 L137.8,128.7 L137.4,130.1 L136.9,131.5 L136.4,132.8 L135.9,134.1 L135.3,135.4 L134.7,136.7 L134.0,138.0 L133.3,139.3 L132.5,140.6 L131.7,141.9 L130.8,143.1 L129.9,144.4 L129.0,145.6 L128.0,146.7 L126.9,147.8 L125.8,148.8 L124.7,149.7 L123.5,150.6 L122.2,151.4 L120.8,152.1 L119.4,152.8 L117.9,153.5 L116.5,154.0 L115.0,154.5 L113.5,155.0 L112.0,155.3 L110.6,155.6 L109.2,155.8 L107.8,155.9 L106.4,155.9 L105.1,155.9 L103.7,155.8 L102.3,155.6 L100.9,155.4 L99.5,155.1 L98.0,154.8 L96.5,154.4 L94.9,154.0 L93.3,153.4 L91.7,152.9 L90.0,152.2 L88.2,151.6 L86.5,150.8 L84.8,150.0 L83.2,149.2 L81.6,148.3 L80.0,147.4 L78.5,146.4 L76.9,145.4 L75.4,144.3 L73.9,143.1 L72.4,141.9 L71.0,140.7 L69.6,139.5 L68.3,138.2 L67.1,136.9 L65.9,135.6 L64.8,134.3 L63.8,133.0 L62.8,131.7 L61.9,130.4 L61.1,129.0 L60.3,127.6 L59.6,126.2 L58.9,124.7 L58.2,123.1 L57.6,121.5 L57.0,119.8 L56.5,118.0 L56.0,116.1 L55.5,114.2 L55.1,112.2 L54.8,110.2 L54.5,108.2 L54.3,106.3 L54.1,104.4 L54.0,102.6 L54.0,100.8 L54.0,99.0 L54.1,97.1 L54.2,95.3 L54.4,93.5 L54.7,91.8 L55.1,90.2 L55.5,88.7 L55.9,87.4Z" fill="none" stroke="#c98088" stroke-width="0.8"/>
<path d="M94,92 Q93,80 104,74 L127,66 Q132,68 130,75 L117,79 Q116,88 112,94 Z" fill="#ee8ca8" stroke="#d77890" stroke-width="0.5"/>
<path d="M108,74 L127,67 Q129,69 128,71 L110,77 Z" fill="#f6b3c6" opacity="0.8"/>
</g>
<g>
<path d="M51.0,354.2 L157.5,334.0 A7.2,7.2 0 0 1 160.5,348.0 L55.0,372.8 Z" fill="#e17a89" stroke="#c0566b" stroke-width="0.7"/>
<path d="M51.5,356.5 L157.9,335.7 L158.7,339.6 L52.6,361.6 Z" fill="#f0a3ad" opacity="0.85"/>
<path d="M53.9,367.7 L159.7,344.2 L160.4,347.7 L54.9,372.3 Z" fill="#cf6a7c" opacity="0.6"/>
<ellipse cx="84.8" cy="356.8" rx="6" ry="2.5" fill="#c27aa6" opacity="0.8" transform="rotate(-12.0 84.8 356.8)"/>
<ellipse cx="127.2" cy="347.8" rx="6" ry="2.5" fill="#c27aa6" opacity="0.8" transform="rotate(-12.0 127.2 347.8)"/>
<ellipse cx="53" cy="363.5" rx="5.2" ry="9.5" fill="#ee99a4" stroke="#c45c70" stroke-width="0.7" transform="rotate(-12.0 53 363.5)"/>
<path d="M61.4,357.1 L170.8,340.4 A7.2,7.2 0 0 1 173.2,354.6 L64.6,375.9 Z" fill="#e17a89" stroke="#c0566b" stroke-width="0.7"/>
<path d="M61.8,359.5 L171.1,342.2 L171.8,346.1 L62.7,364.6 Z" fill="#f0a3ad" opacity="0.85"/>
<path d="M63.7,370.7 L172.6,350.7 L173.2,354.2 L64.5,375.4 Z" fill="#cf6a7c" opacity="0.6"/>
<ellipse cx="104.4" cy="359.3" rx="6" ry="2.5" fill="#c27aa6" opacity="0.8" transform="rotate(-9.9 104.4 359.3)"/>
<ellipse cx="128.4" cy="355.1" rx="6" ry="2.5" fill="#c27aa6" opacity="0.8" transform="rotate(-9.9 128.4 355.1)"/>
<ellipse cx="63" cy="366.5" rx="5.2" ry="9.5" fill="#ee99a4" stroke="#c45c70" stroke-width="0.7" transform="rotate(-9.9 63 366.5)"/>
<path d="M46.3,366.6 L163.7,347.9 A7.2,7.2 0 0 1 166.3,362.1 L49.7,385.4 Z" fill="#e17a89" stroke="#c0566b" stroke-width="0.7"/>
<path d="M46.7,369.0 L164.0,349.7 L164.7,353.6 L47.7,374.1 Z" fill="#f0a3ad" opacity="0.85"/>
<path d="M48.8,380.2 L165.6,358.2 L166.2,361.7 L49.6,384.9 Z" fill="#cf6a7c" opacity="0.6"/>
<ellipse cx="101.8" cy="366.3" rx="6" ry="2.5" fill="#c27aa6" opacity="0.8" transform="rotate(-10.2 101.8 366.3)"/>
<ellipse cx="129.9" cy="361.3" rx="6" ry="2.5" fill="#c27aa6" opacity="0.8" transform="rotate(-10.2 129.9 361.3)"/>
<ellipse cx="48" cy="376" rx="5.2" ry="9.5" fill="#ee99a4" stroke="#c45c70" stroke-width="0.7" transform="rotate(-10.2 48 376)"/>
<path d="M57.8,374.2 L170.7,355.9 A7.2,7.2 0 0 1 173.3,370.1 L61.2,392.8 Z" fill="#e17a89" stroke="#c0566b" stroke-width="0.7"/>
<path d="M58.2,376.5 L171.0,357.7 L171.7,361.6 L59.2,381.6 Z" fill="#f0a3ad" opacity="0.85"/>
<path d="M60.3,387.7 L172.6,366.2 L173.2,369.7 L61.1,392.4 Z" fill="#cf6a7c" opacity="0.6"/>
<ellipse cx="93.2" cy="377.4" rx="6" ry="2.5" fill="#c27aa6" opacity="0.8" transform="rotate(-10.3 93.2 377.4)"/>
<ellipse cx="127.0" cy="371.2" rx="6" ry="2.5" fill="#c27aa6" opacity="0.8" transform="rotate(-10.3 127.0 371.2)"/>
<ellipse cx="59.5" cy="383.5" rx="5.2" ry="9.5" fill="#ee99a4" stroke="#c45c70" stroke-width="0.7" transform="rotate(-10.3 59.5 383.5)"/>
<path d="M69.6,371.7 L177.6,351.9 A7.2,7.2 0 0 1 180.4,366.1 L73.4,390.3 Z" fill="#e17a89" stroke="#c0566b" stroke-width="0.7"/>
<path d="M70.1,374.0 L177.9,353.7 L178.7,357.6 L71.1,379.1 Z" fill="#f0a3ad" opacity="0.85"/>
<path d="M72.4,385.2 L179.6,362.2 L180.4,365.7 L73.3,389.8 Z" fill="#cf6a7c" opacity="0.6"/>
<ellipse cx="112.3" cy="372.6" rx="6" ry="2.5" fill="#c27aa6" opacity="0.8" transform="rotate(-11.6 112.3 372.6)"/>
<ellipse cx="146.8" cy="365.6" rx="6" ry="2.5" fill="#c27aa6" opacity="0.8" transform="rotate(-11.6 146.8 365.6)"/>
<ellipse cx="71.5" cy="381" rx="5.2" ry="9.5" fill="#ee99a4" stroke="#c45c70" stroke-width="0.7" transform="rotate(-11.6 71.5 381)"/>
<path d="M49.6,385.6 L163.9,370.9 A7.2,7.2 0 0 1 166.1,385.1 L52.4,404.4 Z" fill="#e17a89" stroke="#c0566b" stroke-width="0.7"/>
<path d="M49.9,388.0 L164.2,372.7 L164.8,376.6 L50.7,393.1 Z" fill="#f0a3ad" opacity="0.85"/>
<path d="M51.6,399.2 L165.5,381.2 L166.0,384.8 L52.3,403.9 Z" fill="#cf6a7c" opacity="0.6"/>
<ellipse cx="103.4" cy="387.2" rx="6" ry="2.5" fill="#c27aa6" opacity="0.8" transform="rotate(-8.5 103.4 387.2)"/>
<ellipse cx="119.4" cy="384.8" rx="6" ry="2.5" fill="#c27aa6" opacity="0.8" transform="rotate(-8.5 119.4 384.8)"/>
<ellipse cx="51" cy="395" rx="5.2" ry="9.5" fill="#ee99a4" stroke="#c45c70" stroke-width="0.7" transform="rotate(-8.5 51 395)"/>
<path d="M68.0,387.7 L175.5,367.0 A7.2,7.2 0 0 1 178.5,381.0 L72.0,406.3 Z" fill="#e17a89" stroke="#c0566b" stroke-width="0.7"/>
<path d="M68.5,390.0 L175.9,368.7 L176.7,372.6 L69.6,395.1 Z" fill="#f0a3ad" opacity="0.85"/>
<path d="M70.9,401.2 L177.7,377.2 L178.4,380.7 L71.9,405.8 Z" fill="#cf6a7c" opacity="0.6"/>
<ellipse cx="102.1" cy="390.1" rx="6" ry="2.5" fill="#c27aa6" opacity="0.8" transform="rotate(-12.1 102.1 390.1)"/>
<ellipse cx="144.9" cy="380.9" rx="6" ry="2.5" fill="#c27aa6" opacity="0.8" transform="rotate(-12.1 144.9 380.9)"/>
<ellipse cx="70" cy="397" rx="5.2" ry="9.5" fill="#ee99a4" stroke="#c45c70" stroke-width="0.7" transform="rotate(-12.1 70 397)"/>
<path d="M60.4,394.1 L169.4,378.4 A7.2,7.2 0 0 1 171.8,392.6 L63.6,412.9 Z" fill="#e17a89" stroke="#c0566b" stroke-width="0.7"/>
<path d="M60.8,396.5 L169.7,380.2 L170.4,384.1 L61.7,401.6 Z" fill="#f0a3ad" opacity="0.85"/>
<path d="M62.7,407.7 L171.1,388.7 L171.7,392.2 L63.5,412.4 Z" fill="#cf6a7c" opacity="0.6"/>
<ellipse cx="103.3" cy="396.7" rx="6" ry="2.5" fill="#c27aa6" opacity="0.8" transform="rotate(-9.4 103.3 396.7)"/>
<ellipse cx="127.2" cy="392.7" rx="6" ry="2.5" fill="#c27aa6" opacity="0.8" transform="rotate(-9.4 127.2 392.7)"/>
<ellipse cx="62" cy="403.5" rx="5.2" ry="9.5" fill="#ee99a4" stroke="#c45c70" stroke-width="0.7" transform="rotate(-9.4 62 403.5)"/>
</g>
<g transform="translate(229.4,0) scale(0.978,1) translate(-229.4,0)">
<path d="M289,504 Q298,518 310,532 L319,530 Q310,516 306,502 Z" fill="#f4d9c9" stroke="#c79a8c" stroke-width="0.7"/>
<ellipse cx="321" cy="511.5" rx="23" ry="13.5" fill="#d58a82" stroke="#b06a64" stroke-width="0.8"/>
<path d="M301,506 Q320,500 341,506 M299,512 Q320,507 343,512 M301,518 Q320,514 341,519" stroke="#c07672" stroke-width="0.7" fill="none" opacity="0.8"/>
<clipPath id="brc"><path d="M229.4,471 Q230,455 240,442 Q254,428 277,423 Q297,420 317,424 Q336,429 350,443 Q361,455 365,469 Q366,484 356,495 Q350,500 345,502 Q330,505 312,504 Q290,503 273,497 Q265,492 263,485 Q250,486 242,483 Q232,479 229.4,471 Z"/></clipPath>
<path d="M229.4,471 Q230,455 240,442 Q254,428 277,423 Q297,420 317,424 Q336,429 350,443 Q361,455 365,469 Q366,484 356,495 Q350,500 345,502 Q330,505 312,504 Q290,503 273,497 Q265,492 263,485 Q250,486 242,483 Q232,479 229.4,471 Z" fill="#f4c6b8"/>
<g clip-path="url(#brc)">
<path d="M240,490 Q300,470 370,490 L370,510 L240,510 Z" fill="#eaab9c" opacity="0.7" filter="url(#blur2)"/>
<path d="M314.0,482.3 q2.4,3.5 3.8,3.4 q-3.8,-0.3 7.1,1.2 q3.2,-3.1 -0.5,-2.0" stroke="#c98676" stroke-width="0.8" fill="none" opacity="0.8"/>
<path d="M303.0,468.2 q-3.9,-2.3 -3.5,3.3 q2.1,-2.7 4.8,-2.9 q0.9,-3.0 -8.0,3.0" stroke="#c98676" stroke-width="0.8" fill="none" opacity="0.8"/>
<path d="M256.9,438.1 q3.9,3.0 -3.4,3.7 q0.3,1.4 -4.7,3.5 q1.5,3.7 6.3,-1.6" stroke="#c98676" stroke-width="0.8" fill="none" opacity="0.8"/>
<path d="M277.8,433.9 q-2.8,-3.5 -3.2,0.8 q-4.0,1.4 -2.6,-1.5 q2.5,-0.2 -2.9,-0.2" stroke="#c98676" stroke-width="0.8" fill="none" opacity="0.8"/>
<path d="M325.2,424.8 q3.8,-3.8 4.0,2.8 q-3.9,2.3 -2.1,0.6 q-3.9,-3.6 -5.1,3.6" stroke="#c98676" stroke-width="0.8" fill="none" opacity="0.8"/>
<path d="M255.1,483.5 q3.4,3.5 -2.5,-1.2 q0.2,2.2 -6.3,2.0 q2.4,2.9 -7.4,3.6" stroke="#c98676" stroke-width="0.8" fill="none" opacity="0.8"/>
<path d="M240.6,448.6 q0.9,3.3 -2.6,3.4 q0.4,-1.5 -2.9,-2.6 q-3.4,-2.8 3.0,4.0" stroke="#c98676" stroke-width="0.8" fill="none" opacity="0.8"/>
<path d="M250.3,424.1 q3.9,0.3 -1.5,-2.1 q0.8,2.6 -0.7,-0.6 q-3.6,3.3 -7.5,-0.1" stroke="#c98676" stroke-width="0.8" fill="none" opacity="0.8"/>
<path d="M343.7,431.0 q1.9,3.6 2.1,2.3 q-3.1,-0.5 -5.6,2.8 q-1.6,-0.4 8.0,2.8" stroke="#c98676" stroke-width="0.8" fill="none" opacity="0.8"/>
<path d="M362.7,458.1 q-0.1,1.8 -0.3,-1.7 q-0.8,-2.8 -2.0,3.9 q3.7,1.0 -0.0,-1.3" stroke="#c98676" stroke-width="0.8" fill="none" opacity="0.8"/>
<path d="M240.3,442.9 q2.3,2.9 -2.2,2.3 q2.2,1.6 2.6,2.1 q-1.1,1.6 -3.5,-0.1" stroke="#c98676" stroke-width="0.8" fill="none" opacity="0.8"/>
<path d="M334.2,478.0 q-1.6,3.6 2.4,0.6 q-3.9,0.4 -4.0,1.4 q-0.3,2.5 2.4,2.4" stroke="#c98676" stroke-width="0.8" fill="none" opacity="0.8"/>
<path d="M276.0,474.1 q1.9,2.6 -2.4,2.7 q3.0,1.5 7.6,3.7 q0.1,0.2 -5.3,2.7" stroke="#c98676" stroke-width="0.8" fill="none" opacity="0.8"/>
<path d="M357.4,460.1 q1.5,1.8 3.7,-2.6 q2.2,0.6 2.6,-0.6 q1.0,2.2 2.2,1.8" stroke="#c98676" stroke-width="0.8" fill="none" opacity="0.8"/>
<path d="M231.8,433.4 q-0.5,1.2 -4.5,1.5 q1.0,-3.7 -0.5,-2.2 q-3.6,-2.9 -2.9,-2.5" stroke="#c98676" stroke-width="0.8" fill="none" opacity="0.8"/>
<path d="M254.7,423.0 q-0.3,-1.0 1.8,0.7 q-2.1,3.2 -8.0,-0.8 q-1.8,-0.7 -6.2,2.7" stroke="#c98676" stroke-width="0.8" fill="none" opacity="0.8"/>
<path d="M279.6,423.0 q0.9,-3.2 0.7,-1.3 q0.6,3.7 5.1,-0.6 q2.5,1.1 -2.1,-2.9" stroke="#c98676" stroke-width="0.8" fill="none" opacity="0.8"/>
<path d="M310.2,467.4 q3.7,3.7 1.7,-1.2 q3.1,-4.0 -6.3,0.5 q0.9,-2.9 2.1,3.1" stroke="#c98676" stroke-width="0.8" fill="none" opacity="0.8"/>
<path d="M279.9,456.3 q-2.2,-1.7 7.6,-1.0 q3.7,3.3 1.5,-1.9 q3.8,-0.0 -1.4,-1.4" stroke="#c98676" stroke-width="0.8" fill="none" opacity="0.8"/>
<path d="M363.8,461.3 q-1.7,-0.2 -6.0,1.0 q-0.5,-1.7 4.5,2.6 q-3.9,0.3 -3.6,3.5" stroke="#c98676" stroke-width="0.8" fill="none" opacity="0.8"/>
<path d="M335.9,440.6 q-1.9,-2.8 7.8,-1.7 q0.9,-0.2 2.3,0.8 q1.9,-3.1 4.2,-1.6" stroke="#c98676" stroke-width="0.8" fill="none" opacity="0.8"/>
<path d="M301.6,448.2 q-1.6,0.2 -0.6,-1.1 q2.0,0.7 -7.4,-2.0 q-0.4,3.3 6.2,0.4" stroke="#c98676" stroke-width="0.8" fill="none" opacity="0.8"/>
<path d="M230.0,485.4 q-0.6,0.6 3.3,1.1 q-0.1,3.3 -1.8,-0.9 q2.8,-2.4 -3.3,2.6" stroke="#c98676" stroke-width="0.8" fill="none" opacity="0.8"/>
<path d="M237.1,490.2 q1.6,-0.5 -3.4,2.2 q3.3,-2.9 -0.3,0.4 q-0.0,-1.4 -5.5,0.7" stroke="#c98676" stroke-width="0.8" fill="none" opacity="0.8"/>
<path d="M340.0,425.7 q-2.2,2.6 4.7,1.3 q-3.8,1.8 7.7,4.0 q1.6,-3.6 5.5,-2.2" stroke="#c98676" stroke-width="0.8" fill="none" opacity="0.8"/>
<path d="M317.1,500.0 q1.7,-2.9 -3.3,3.3 q-2.8,0.9 -1.4,-2.7 q1.0,-3.7 -6.3,-1.0" stroke="#c98676" stroke-width="0.8" fill="none" opacity="0.8"/>
<path d="M237.9,424.8 q0.6,1.9 6.1,-2.9 q-0.5,-1.5 1.6,-0.1 q3.5,-1.0 -7.1,1.6" stroke="#c98676" stroke-width="0.8" fill="none" opacity="0.8"/>
<path d="M248.9,473.0 q0.0,3.3 0.9,1.0 q-1.9,0.4 -3.9,2.0 q0.1,-2.9 -4.2,-1.0" stroke="#c98676" stroke-width="0.8" fill="none" opacity="0.8"/>
<path d="M329.7,435.1 q1.7,1.2 -6.6,1.3 q-3.3,-3.0 1.5,-2.1 q3.0,-0.2 -2.8,2.4" stroke="#c98676" stroke-width="0.8" fill="none" opacity="0.8"/>
<path d="M232.1,480.9 q-3.6,-2.8 7.2,1.4 q-2.2,-3.1 7.6,1.3 q2.6,-2.9 2.0,-1.2" stroke="#c98676" stroke-width="0.8" fill="none" opacity="0.8"/>
<path d="M260.4,448.0 q0.9,-1.2 -1.8,-2.9 q2.6,1.2 4.9,-0.5 q2.8,0.1 1.5,0.6" stroke="#c98676" stroke-width="0.8" fill="none" opacity="0.8"/>
<path d="M330.1,453.2 q-3.2,-3.7 -4.8,-3.7 q3.1,-0.2 4.2,-4.0 q-0.2,3.1 1.9,-0.6" stroke="#c98676" stroke-width="0.8" fill="none" opacity="0.8"/>
<path d="M292.2,428.4 q-2.8,-2.7 -2.0,-0.9 q3.0,-2.8 -3.9,-1.8 q-2.7,-1.7 -4.2,-0.1" stroke="#c98676" stroke-width="0.8" fill="none" opacity="0.8"/>
<path d="M232.4,497.7 q-1.0,3.5 3.0,1.4 q-0.2,3.6 -6.1,1.3 q-1.7,1.4 3.7,-2.7" stroke="#c98676" stroke-width="0.8" fill="none" opacity="0.8"/>
<path d="M255.7,422.1 q-2.2,-3.4 -1.6,3.8 q-1.1,-1.5 -0.5,-1.7 q1.9,1.7 -5.4,-2.1" stroke="#c98676" stroke-width="0.8" fill="none" opacity="0.8"/>
<path d="M320.8,499.0 q1.2,-0.6 7.6,-3.9 q-3.5,2.2 -1.4,-3.6 q0.4,3.9 0.3,-1.2" stroke="#c98676" stroke-width="0.8" fill="none" opacity="0.8"/>
<path d="M240.9,426.0 q3.2,-0.1 7.0,-3.6 q-2.1,-3.6 -1.6,-3.5 q-2.0,-0.7 -3.1,-3.6" stroke="#c98676" stroke-width="0.8" fill="none" opacity="0.8"/>
<path d="M233.2,501.6 q-2.6,0.1 -1.6,0.3 q-3.3,-1.5 -6.3,0.3 q3.4,0.8 5.7,-2.3" stroke="#c98676" stroke-width="0.8" fill="none" opacity="0.8"/>
<path d="M230.4,465.3 q-0.1,0.6 -2.0,1.0 q1.8,3.3 -3.1,-0.4 q2.6,-2.2 -6.1,-1.5" stroke="#c98676" stroke-width="0.8" fill="none" opacity="0.8"/>
<path d="M240.1,484.9 q2.6,-1.5 -5.9,-3.3 q-2.0,-3.3 -1.1,0.6 q-2.0,-3.5 3.2,-3.6" stroke="#c98676" stroke-width="0.8" fill="none" opacity="0.8"/>
<path d="M255.6,444.0 q-1.0,-3.2 -1.3,-1.5 q2.0,0.4 6.3,1.2 q2.1,0.6 -0.9,2.5" stroke="#c98676" stroke-width="0.8" fill="none" opacity="0.8"/>
<path d="M318.5,500.2 q1.8,1.6 -3.7,2.5 q-0.9,-3.0 -6.9,-2.6 q-1.9,1.4 -3.4,-3.5" stroke="#c98676" stroke-width="0.8" fill="none" opacity="0.8"/>
<path d="M333.4,466.8 q-3.8,-3.6 -5.9,-1.1 q2.9,3.6 1.8,-2.2 q-0.6,-1.1 -2.7,-3.9" stroke="#c98676" stroke-width="0.8" fill="none" opacity="0.8"/>
<path d="M308.6,489.5 q1.8,-3.2 0.5,-2.6 q1.7,-0.4 7.0,2.4 q-3.1,-1.5 6.6,-0.3" stroke="#c98676" stroke-width="0.8" fill="none" opacity="0.8"/>
<path d="M287.9,457.1 q2.1,3.5 0.5,3.8 q0.8,-3.2 5.0,-0.6 q-3.6,3.8 -7.5,0.6" stroke="#c98676" stroke-width="0.8" fill="none" opacity="0.8"/>
<path d="M294.5,494.1 q-0.9,-2.3 -3.6,-2.4 q0.5,-1.1 4.0,-2.1 q-1.2,-2.0 7.7,2.7" stroke="#c98676" stroke-width="0.8" fill="none" opacity="0.8"/>
<path d="M345.3,471.9 q-0.8,-2.9 5.3,-0.1 q-3.7,-2.6 -6.4,1.7 q3.2,-2.4 4.8,-1.4" stroke="#c98676" stroke-width="0.8" fill="none" opacity="0.8"/>
<path d="M322.2,492.5 q1.0,2.4 -2.0,-3.9 q0.1,0.7 -5.0,-0.9 q-1.5,-3.8 -3.0,-0.9" stroke="#c98676" stroke-width="0.8" fill="none" opacity="0.8"/>
<path d="M293.7,479.1 q-0.8,3.9 5.0,3.4 q1.5,1.4 0.6,2.4 q-1.1,0.7 2.9,0.2" stroke="#c98676" stroke-width="0.8" fill="none" opacity="0.8"/>
<path d="M267.2,426.5 q-3.3,-1.2 1.3,2.1 q1.7,-1.5 6.9,-1.8 q1.7,-3.4 4.1,1.4" stroke="#c98676" stroke-width="0.8" fill="none" opacity="0.8"/>
<path d="M360.1,495.4 q1.5,2.7 3.8,0.9 q-2.3,0.1 6.3,-2.1 q3.8,0.4 -1.7,-4.0" stroke="#c98676" stroke-width="0.8" fill="none" opacity="0.8"/>
<path d="M281.8,435.0 q1.2,3.2 6.6,0.9 q-0.9,-3.1 3.0,0.4 q1.7,-1.0 6.2,-2.3" stroke="#c98676" stroke-width="0.8" fill="none" opacity="0.8"/>
<path d="M270.2,442.5 q1.0,3.2 -5.3,1.1 q2.1,-2.2 -7.0,0.5 q2.6,3.0 3.6,-0.7" stroke="#c98676" stroke-width="0.8" fill="none" opacity="0.8"/>
<path d="M286.7,464.4 q3.2,-1.6 -3.5,0.8 q3.7,-2.5 -7.5,-3.1 q0.5,0.8 -5.1,-2.5" stroke="#c98676" stroke-width="0.8" fill="none" opacity="0.8"/>
<path d="M310.0,474.3 q1.5,1.8 -7.0,-0.1 q2.7,3.7 -2.9,2.8 q1.2,3.4 -4.3,1.6" stroke="#c98676" stroke-width="0.8" fill="none" opacity="0.8"/>
<path d="M344.0,460.0 q-3.2,-2.5 -5.5,-3.3 q-2.8,0.9 -6.3,2.1 q1.9,2.5 4.9,1.7" stroke="#c98676" stroke-width="0.8" fill="none" opacity="0.8"/>
<path d="M355.5,500.4 q1.0,3.7 -6.3,-3.2 q-3.5,-2.3 -2.0,-0.3 q1.4,1.9 -6.7,-0.8" stroke="#c98676" stroke-width="0.8" fill="none" opacity="0.8"/>
<path d="M303.0,451.5 q-3.1,0.8 -2.0,1.5 q-0.0,3.7 7.1,-3.4 q2.1,1.8 -3.3,-3.1" stroke="#c98676" stroke-width="0.8" fill="none" opacity="0.8"/>
<path d="M294.1,449.7 q1.9,3.3 -1.9,-1.7 q-0.0,1.6 4.6,0.6 q-1.6,-1.3 5.6,0.2" stroke="#c98676" stroke-width="0.8" fill="none" opacity="0.8"/>
<path d="M235.0,455.3 q-2.1,1.3 -6.8,-1.8 q-3.2,-0.2 7.8,0.3 q-0.9,3.5 -6.5,-1.2" stroke="#c98676" stroke-width="0.8" fill="none" opacity="0.8"/>
<path d="M339.9,420.4 q2.1,-1.1 -7.7,-2.0 q-0.3,-0.9 0.3,-3.6 q-2.3,3.8 -0.9,-0.2" stroke="#c98676" stroke-width="0.8" fill="none" opacity="0.8"/>
<path d="M239.8,443.4 q3.6,1.5 0.1,-3.6 q-0.9,2.2 -1.0,0.7 q3.2,1.2 2.2,-3.7" stroke="#c98676" stroke-width="0.8" fill="none" opacity="0.8"/>
<path d="M231.3,484.6 q-0.7,3.0 5.2,3.3 q-1.0,4.0 4.1,3.1 q-2.8,2.2 -1.2,3.8" stroke="#c98676" stroke-width="0.8" fill="none" opacity="0.8"/>
<path d="M365.2,438.2 q-0.6,-1.8 -0.5,-1.7 q1.3,-3.0 -5.3,-0.3 q-3.4,-1.0 6.4,3.1" stroke="#c98676" stroke-width="0.8" fill="none" opacity="0.8"/>
<path d="M255.1,421.6 q2.6,3.7 1.6,-2.9 q-2.1,3.4 7.0,-3.8 q-2.5,-0.6 -3.7,2.0" stroke="#c98676" stroke-width="0.8" fill="none" opacity="0.8"/>
<path d="M279.5,485.1 q-2.8,0.1 7.6,1.6 q-3.3,-3.1 2.3,-1.0 q-1.1,-0.2 1.3,3.7" stroke="#c98676" stroke-width="0.8" fill="none" opacity="0.8"/>
<path d="M261.2,467.8 q-1.9,0.4 3.7,-2.9 q-0.2,1.6 -7.9,2.2 q-0.6,0.0 1.8,2.3" stroke="#c98676" stroke-width="0.8" fill="none" opacity="0.8"/>
<path d="M235.7,462.0 q-3.7,-0.9 -2.5,-3.8 q-1.6,-0.4 2.5,3.4 q-1.0,0.2 3.4,3.5" stroke="#c98676" stroke-width="0.8" fill="none" opacity="0.8"/>
<path d="M359.1,503.0 q-1.6,-2.7 6.9,-3.4 q-0.4,1.9 0.5,-0.9 q3.4,-1.6 0.8,2.6" stroke="#c98676" stroke-width="0.8" fill="none" opacity="0.8"/>
<path d="M247.0,449.5 q-0.0,0.5 -4.7,-0.4 q-3.5,-3.3 -2.5,-2.8 q3.7,-1.9 -3.6,2.3" stroke="#c98676" stroke-width="0.8" fill="none" opacity="0.8"/>
<path d="M330.3,442.0 q2.6,1.0 -1.8,1.0 q-2.0,-1.9 6.0,-0.5 q3.2,-2.6 -5.8,-3.6" stroke="#c98676" stroke-width="0.8" fill="none" opacity="0.8"/>
<path d="M330.1,467.1 q-3.9,-3.7 5.2,-0.0 q3.0,-3.7 1.4,-3.1 q1.8,0.9 1.8,-2.2" stroke="#c98676" stroke-width="0.8" fill="none" opacity="0.8"/>
<path d="M359.0,429.3 q-3.5,1.5 -6.5,-3.5 q-0.3,1.2 6.3,1.8 q-3.4,1.1 5.5,-3.0" stroke="#c98676" stroke-width="0.8" fill="none" opacity="0.8"/>
<path d="M332.1,441.7 q-1.6,-4.0 4.1,0.1 q3.2,-0.3 -5.5,-2.3 q-1.9,3.6 -4.7,-3.3" stroke="#c98676" stroke-width="0.8" fill="none" opacity="0.8"/>
<path d="M276.7,426.6 q-0.6,1.0 2.4,-2.6 q-2.9,-0.1 3.0,-0.4 q0.6,3.3 -5.7,-1.9" stroke="#c98676" stroke-width="0.8" fill="none" opacity="0.8"/>
<path d="M296.1,465.0 q3.2,0.4 2.6,-0.6 q2.3,2.7 -3.3,-3.1 q-1.9,-1.1 6.2,-1.9" stroke="#c98676" stroke-width="0.8" fill="none" opacity="0.8"/>
<path d="M314.9,473.8 q3.6,-3.1 4.3,-1.3 q-3.2,1.1 5.5,0.7 q-3.6,3.8 -1.9,1.1" stroke="#c98676" stroke-width="0.8" fill="none" opacity="0.8"/>
<path d="M327.9,441.9 q-0.7,-1.4 -6.5,-3.5 q1.7,-0.7 5.9,-3.5 q-1.6,-2.6 7.1,2.3" stroke="#c98676" stroke-width="0.8" fill="none" opacity="0.8"/>
<path d="M351.7,462.5 q-3.2,-0.7 -4.4,-3.8 q0.5,-1.7 -6.3,0.1 q3.5,3.6 -0.5,-3.2" stroke="#c98676" stroke-width="0.8" fill="none" opacity="0.8"/>
<path d="M334.1,429.6 q0.3,-3.3 7.8,0.3 q-0.5,-1.8 0.8,3.8 q-0.6,-2.3 0.2,3.3" stroke="#c98676" stroke-width="0.8" fill="none" opacity="0.8"/>
<path d="M280.7,473.2 q3.3,-1.4 5.0,0.2 q-2.9,-3.6 7.0,-0.3 q-0.5,3.3 1.2,0.0" stroke="#c98676" stroke-width="0.8" fill="none" opacity="0.8"/>
<path d="M267.2,482.5 q-2.0,-0.2 4.1,0.8 q-2.9,-2.4 3.1,1.8 q-3.2,4.0 -5.9,-2.7" stroke="#c98676" stroke-width="0.8" fill="none" opacity="0.8"/>
<path d="M240.4,457.5 q1.0,2.9 -5.4,1.6 q-3.2,0.6 -4.0,-1.1 q-3.6,1.8 -6.0,2.1" stroke="#c98676" stroke-width="0.8" fill="none" opacity="0.8"/>
<path d="M274.4,469.7 q1.1,-0.1 6.0,3.4 q-1.7,-1.3 6.0,-2.9 q-0.6,-0.7 7.6,-3.0" stroke="#c98676" stroke-width="0.8" fill="none" opacity="0.8"/>
<path d="M318.4,483.6 q1.8,-4.0 7.1,-1.5 q2.8,1.3 -1.3,2.7 q1.4,-1.3 3.7,0.0" stroke="#c98676" stroke-width="0.8" fill="none" opacity="0.8"/>
<path d="M326.2,471.6 q2.4,-2.7 -0.1,-4.0 q2.3,2.2 5.4,-3.7 q0.3,-0.2 -6.1,-2.4" stroke="#c98676" stroke-width="0.8" fill="none" opacity="0.8"/>
<path d="M362.5,491.6 q-2.1,2.6 2.4,-0.9 q1.2,-2.2 -3.6,-3.9 q1.3,0.7 3.9,0.0" stroke="#c98676" stroke-width="0.8" fill="none" opacity="0.8"/>
<path d="M288.0,445.7 q1.9,-1.0 1.5,2.1 q-0.4,1.5 -7.0,-1.9 q2.7,-2.8 -7.1,-3.9" stroke="#c98676" stroke-width="0.8" fill="none" opacity="0.8"/>
<path d="M333.7,428.9 q-0.3,-0.5 4.8,-0.2 q0.2,-3.8 4.7,2.1 q1.0,2.7 1.8,1.7" stroke="#c98676" stroke-width="0.8" fill="none" opacity="0.8"/>
<path d="M345.4,471.9 q-3.8,3.1 7.8,-2.4 q-3.5,-1.3 -6.4,-1.0 q-3.3,-2.2 -7.9,-0.6" stroke="#c98676" stroke-width="0.8" fill="none" opacity="0.8"/>
<path d="M269.4,481.2 q-0.9,-2.7 7.3,3.2 q1.5,-2.3 -1.6,-0.4 q-0.7,-3.8 -0.7,2.1" stroke="#c98676" stroke-width="0.8" fill="none" opacity="0.8"/>
<path d="M323.7,492.3 q1.5,2.1 5.9,3.3 q2.3,-0.7 2.6,1.3 q3.1,1.7 -0.9,-2.5" stroke="#c98676" stroke-width="0.8" fill="none" opacity="0.8"/>
<path d="M273.2,441.0 q1.5,2.2 -4.9,0.3 q2.7,-1.1 -6.5,0.8 q-1.1,-2.8 -3.4,-3.9" stroke="#c98676" stroke-width="0.8" fill="none" opacity="0.8"/>
<path d="M248.5,455.7 q-3.2,-4.0 0.8,3.7 q2.7,-1.4 6.8,-3.4 q-2.8,-3.9 -7.1,0.8" stroke="#c98676" stroke-width="0.8" fill="none" opacity="0.8"/>
<path d="M332.5,460.1 q2.4,-0.4 6.7,0.9 q0.3,-2.6 -1.2,-0.5 q2.6,-2.2 -3.3,2.5" stroke="#c98676" stroke-width="0.8" fill="none" opacity="0.8"/>
<path d="M237.8,465.1 q-2.2,1.3 1.5,-3.2 q1.8,-0.7 -2.9,2.9 q2.2,-1.5 2.8,-3.0" stroke="#c98676" stroke-width="0.8" fill="none" opacity="0.8"/>
<path d="M299.6,426.9 q1.1,3.3 2.2,-3.7 q0.1,-0.2 -0.9,-2.8 q-1.8,-0.4 -6.9,1.4" stroke="#c98676" stroke-width="0.8" fill="none" opacity="0.8"/>
<path d="M261.6,444.4 q-3.3,-1.6 6.9,-1.7 q-3.2,-1.2 7.1,-3.3 q-1.3,-2.3 2.9,-0.3" stroke="#c98676" stroke-width="0.8" fill="none" opacity="0.8"/>
<path d="M241.6,492.4 q-1.4,1.5 -0.8,3.0 q-3.5,-2.2 -3.4,-1.9 q2.6,0.0 -2.5,0.1" stroke="#c98676" stroke-width="0.8" fill="none" opacity="0.8"/>
<path d="M344.7,467.9 q-0.4,1.3 1.8,-0.8 q-0.6,-2.9 -1.0,3.0 q-1.6,-1.1 1.7,0.7" stroke="#c98676" stroke-width="0.8" fill="none" opacity="0.8"/>
<path d="M252.2,457.5 q1.9,-3.7 -6.3,2.0 q3.2,-3.5 -6.7,1.0 q-1.7,1.3 -7.5,-0.3" stroke="#c98676" stroke-width="0.8" fill="none" opacity="0.8"/>
<path d="M250.3,447.9 q1.5,0.1 5.7,2.7 q1.0,2.8 -5.2,-0.2 q-1.4,1.0 -6.2,3.1" stroke="#c98676" stroke-width="0.8" fill="none" opacity="0.8"/>
<path d="M279.1,485.8 q3.5,3.5 -1.8,2.9 q4.0,-3.0 4.0,1.8 q-0.3,-1.8 -5.2,-0.7" stroke="#c98676" stroke-width="0.8" fill="none" opacity="0.8"/>
<path d="M356.6,453.8 q-2.0,1.0 -1.0,0.9 q-0.4,-1.7 -7.4,2.5 q1.3,-2.1 -0.0,0.6" stroke="#c98676" stroke-width="0.8" fill="none" opacity="0.8"/>
<path d="M297.5,495.7 q2.2,-1.5 -2.6,0.9 q-2.7,3.5 -7.3,-0.0 q-1.8,0.2 -7.3,-2.2" stroke="#c98676" stroke-width="0.8" fill="none" opacity="0.8"/>
<path d="M364.5,486.2 q-2.2,-0.4 -7.5,-3.0 q-2.5,3.9 -3.0,-2.0 q-3.5,-3.1 7.9,1.9" stroke="#c98676" stroke-width="0.8" fill="none" opacity="0.8"/>
<path d="M355.0,490.2 q2.3,-2.0 -5.3,-1.8 q-3.5,-2.6 3.5,-0.1 q-3.9,-1.6 5.6,2.8" stroke="#c98676" stroke-width="0.8" fill="none" opacity="0.8"/>
<path d="M328.7,481.4 q3.3,0.5 -1.9,0.6 q-1.7,-3.7 -3.8,-0.3 q-3.0,-3.4 -4.0,-1.1" stroke="#c98676" stroke-width="0.8" fill="none" opacity="0.8"/>
<path d="M360.1,460.9 q2.7,2.0 1.5,-1.4 q-0.9,-1.5 2.1,2.8 q2.3,-1.6 -5.6,-3.9" stroke="#c98676" stroke-width="0.8" fill="none" opacity="0.8"/>
<path d="M308.7,439.2 q-4.0,-1.6 -4.3,-2.4 q1.3,0.7 -3.5,1.8 q-2.3,3.4 -6.1,0.7" stroke="#c98676" stroke-width="0.8" fill="none" opacity="0.8"/>
<path d="M325.3,481.5 q-0.1,3.0 2.1,1.5 q-3.4,-2.5 -0.5,0.4 q-3.2,1.9 -2.5,-0.2" stroke="#c98676" stroke-width="0.8" fill="none" opacity="0.8"/>
<path d="M300.0,490.5 q-1.6,0.5 1.7,1.2 q-1.5,-1.8 -0.5,0.8 q1.2,-2.9 -0.9,0.5" stroke="#c98676" stroke-width="0.8" fill="none" opacity="0.8"/>
<path d="M254.9,428.6 q3.4,-3.8 -0.0,-1.6 q-3.8,-1.8 -5.4,-0.8 q3.3,-3.4 -2.4,1.6" stroke="#c98676" stroke-width="0.8" fill="none" opacity="0.8"/>
<path d="M314.2,421.7 q-2.2,-1.8 6.3,-0.5 q-1.9,-0.2 -0.2,-2.8 q1.3,1.8 -0.4,0.3" stroke="#c98676" stroke-width="0.8" fill="none" opacity="0.8"/>
<path d="M334.3,500.3 q0.9,-3.6 0.1,1.3 q-1.4,1.5 -2.1,0.9 q0.9,1.4 6.8,1.7" stroke="#c98676" stroke-width="0.8" fill="none" opacity="0.8"/>
<path d="M325.9,479.2 q-2.2,0.9 1.9,-3.5 q2.0,-2.2 -0.1,0.2 q1.8,2.1 -0.5,3.5" stroke="#c98676" stroke-width="0.8" fill="none" opacity="0.8"/>
<path d="M289.1,467.6 q3.9,-1.4 3.4,3.7 q-3.3,2.2 2.4,0.3 q2.3,2.9 -5.7,-0.1" stroke="#c98676" stroke-width="0.8" fill="none" opacity="0.8"/>
<path d="M312.9,478.7 q3.7,2.4 5.3,-3.5 q-0.6,3.3 7.1,2.0 q-1.3,2.2 0.5,1.3" stroke="#c98676" stroke-width="0.8" fill="none" opacity="0.8"/>
<path d="M316.0,492.7 q1.7,3.8 -0.1,-0.1 q1.3,0.5 -7.2,3.7 q-1.5,-0.0 -7.3,-2.5" stroke="#c98676" stroke-width="0.8" fill="none" opacity="0.8"/>
<path d="M356.2,443.3 q-1.6,2.5 -4.1,1.3 q0.5,3.2 -0.4,-1.4 q-1.9,-1.1 -8.0,-3.0" stroke="#c98676" stroke-width="0.8" fill="none" opacity="0.8"/>
<path d="M248.5,446.4 q2.1,3.5 -2.3,-2.0 q-1.7,1.0 -0.3,-3.1 q0.2,-1.8 -5.7,2.3" stroke="#c98676" stroke-width="0.8" fill="none" opacity="0.8"/>
<path d="M242.5,456.9 q2.1,0.3 6.0,-1.5 q3.6,-3.7 6.3,-0.6 q-4.0,-1.9 7.8,1.7" stroke="#c98676" stroke-width="0.8" fill="none" opacity="0.8"/>
<path d="M329.7,488.1 q-3.9,-1.5 -0.5,3.3 q3.3,-2.8 7.8,0.4 q-1.6,-3.3 -1.2,0.2" stroke="#c98676" stroke-width="0.8" fill="none" opacity="0.8"/>
<path d="M290.6,446.1 q3.6,-0.2 -3.1,2.2 q-2.0,-0.6 -6.3,-2.1 q4.0,1.0 0.4,1.4" stroke="#c98676" stroke-width="0.8" fill="none" opacity="0.8"/>
<path d="M320.8,463.8 q-1.1,-2.8 -7.5,-3.0 q-0.8,-3.9 2.8,-1.3 q-2.1,-1.5 -0.1,-2.3" stroke="#c98676" stroke-width="0.8" fill="none" opacity="0.8"/>
<path d="M345.6,460.6 q-3.5,-3.3 6.2,0.6 q-1.7,1.7 -7.3,3.1 q3.5,1.3 -7.2,-0.6" stroke="#c98676" stroke-width="0.8" fill="none" opacity="0.8"/>
<path d="M343.5,469.9 q-2.3,-2.1 -7.0,0.2 q-2.5,-0.4 6.3,3.2 q-0.1,2.3 -5.9,3.6" stroke="#c98676" stroke-width="0.8" fill="none" opacity="0.8"/>
<path d="M347.4,460.5 q3.1,-1.6 7.7,-1.4 q3.4,2.7 7.0,1.8 q-3.4,-1.8 2.5,3.3" stroke="#c98676" stroke-width="0.8" fill="none" opacity="0.8"/>
<path d="M322.0,423.3 q-1.2,-1.2 -5.3,-2.2 q0.1,-1.0 -3.7,-0.7 q3.6,0.8 4.0,3.5" stroke="#c98676" stroke-width="0.8" fill="none" opacity="0.8"/>
<path d="M232.3,494.0 q-3.2,-2.4 3.8,2.0 q0.9,-0.2 3.6,-0.6 q-2.4,-2.2 -6.2,-3.7" stroke="#c98676" stroke-width="0.8" fill="none" opacity="0.8"/>
<path d="M359.4,499.8 q-1.2,-0.7 -3.5,2.3 q-0.1,-2.6 6.1,3.4 q-3.6,-0.3 -4.5,1.1" stroke="#c98676" stroke-width="0.8" fill="none" opacity="0.8"/>
<path d="M277.5,445.0 q-1.6,0.9 0.1,-0.1 q1.4,-0.2 7.1,-0.5 q2.3,3.4 1.9,0.7" stroke="#c98676" stroke-width="0.8" fill="none" opacity="0.8"/>
<path d="M337.0,479.8 q-2.5,-0.7 -5.5,-3.8 q1.5,-1.4 -3.9,-3.8 q-3.8,1.4 -2.3,-0.5" stroke="#c98676" stroke-width="0.8" fill="none" opacity="0.8"/>
<path d="M321.3,496.2 q1.6,-2.2 7.8,-2.5 q0.6,1.2 -3.4,3.1 q0.9,1.7 -5.8,2.7" stroke="#c98676" stroke-width="0.8" fill="none" opacity="0.8"/>
<path d="M267.6,471.9 q1.9,-1.4 -3.8,-1.4 q3.8,1.3 -0.5,0.5 q1.2,-1.9 -6.8,-3.1" stroke="#c98676" stroke-width="0.8" fill="none" opacity="0.8"/>
<path d="M308.3,470.3 q3.8,1.0 5.6,3.9 q-0.0,-0.6 -0.5,-1.0 q2.1,0.6 -6.0,3.6" stroke="#c98676" stroke-width="0.8" fill="none" opacity="0.8"/>
<path d="M300.6,482.9 q0.4,0.7 1.2,-3.1 q-3.0,1.8 -2.4,-3.0 q2.5,2.0 4.2,-0.9" stroke="#c98676" stroke-width="0.8" fill="none" opacity="0.8"/>
<path d="M246.2,483.8 q-2.3,1.3 3.1,-1.8 q-4.0,0.7 4.6,0.7 q3.9,-2.2 3.7,-0.5" stroke="#c98676" stroke-width="0.8" fill="none" opacity="0.8"/>
<path d="M308.1,445.4 q-2.2,0.4 1.7,3.3 q0.8,-0.0 2.4,1.0 q-0.7,-1.9 2.9,-0.9" stroke="#c98676" stroke-width="0.8" fill="none" opacity="0.8"/>
<path d="M233.1,434.3 q-1.1,1.5 2.5,-0.1 q2.5,-1.4 -2.4,2.0 q1.4,-0.6 6.2,-3.8" stroke="#c98676" stroke-width="0.8" fill="none" opacity="0.8"/>
<path d="M302.0,492.1 q3.0,-2.5 4.9,0.3 q3.5,-1.4 2.6,1.1 q3.9,-1.3 -1.8,-3.0" stroke="#c98676" stroke-width="0.8" fill="none" opacity="0.8"/>
<path d="M322.4,425.9 q2.8,-2.8 -4.9,3.6 q-0.0,2.0 -2.5,-2.1 q-1.1,3.9 -4.9,3.2" stroke="#c98676" stroke-width="0.8" fill="none" opacity="0.8"/>
<path d="M349.8,477.2 q-1.9,1.8 6.5,0.7 q-2.2,0.9 7.3,0.7 q-2.8,-2.4 2.1,-3.6" stroke="#c98676" stroke-width="0.8" fill="none" opacity="0.8"/>
<path d="M228.2,451.4 q-1.9,-0.1 -6.8,0.5 q1.4,-1.5 1.3,0.2 q2.3,0.6 2.2,0.5" stroke="#c98676" stroke-width="0.8" fill="none" opacity="0.8"/>
<path d="M341.6,428.1 q-3.1,2.9 5.3,-3.9 q3.2,0.9 5.7,1.6 q-1.0,-3.1 4.2,1.7" stroke="#c98676" stroke-width="0.8" fill="none" opacity="0.8"/>
<path d="M292.9,442.7 q-1.1,3.5 -0.6,-2.3 q3.9,3.8 -5.2,-2.4 q1.8,-0.9 -0.4,1.5" stroke="#c98676" stroke-width="0.8" fill="none" opacity="0.8"/>
<path d="M265.7,469.9 q-2.4,-2.2 0.7,-0.6 q3.2,-2.9 6.7,-1.9 q-1.3,-3.1 -2.9,3.8" stroke="#c98676" stroke-width="0.8" fill="none" opacity="0.8"/>
<path d="M278.0,490.2 q3.8,1.6 -5.1,-0.5 q-2.7,-2.0 -2.6,-2.7 q1.4,0.2 -3.3,-2.0" stroke="#c98676" stroke-width="0.8" fill="none" opacity="0.8"/>
<path d="M247.6,429.6 q-0.5,-3.4 0.4,-2.0 q2.2,-1.9 5.7,3.6 q3.4,-2.2 6.9,-0.2" stroke="#c98676" stroke-width="0.8" fill="none" opacity="0.8"/>
<path d="M350.1,459.0 q0.3,-1.9 4.1,-1.1 q3.1,1.7 -1.1,-3.8 q-1.9,-0.7 -2.1,0.7" stroke="#c98676" stroke-width="0.8" fill="none" opacity="0.8"/>
<path d="M228.7,459.3 q3.1,3.6 3.0,1.5 q0.8,4.0 4.6,-0.3 q-0.0,3.5 0.8,0.8" stroke="#c98676" stroke-width="0.8" fill="none" opacity="0.8"/>
<path d="M270.4,475.8 q-0.1,3.5 8.0,4.0 q3.6,-3.7 -6.8,-1.3 q2.6,0.5 -3.9,-3.2" stroke="#c98676" stroke-width="0.8" fill="none" opacity="0.8"/>
<path d="M262.5,430.7 q-2.9,2.0 -4.9,-2.7 q1.0,-3.0 5.3,1.2 q3.0,1.8 3.7,-1.9" stroke="#c98676" stroke-width="0.8" fill="none" opacity="0.8"/>
<path d="M286.3,451.9 q-0.9,3.3 -1.0,2.4 q1.0,-3.3 -4.6,0.6 q2.3,-2.1 -4.0,-1.0" stroke="#c98676" stroke-width="0.8" fill="none" opacity="0.8"/>
<path d="M291.3,455.3 q3.4,0.9 -3.5,-1.2 q0.1,-2.7 -1.7,-3.5 q1.3,2.9 6.4,0.8" stroke="#c98676" stroke-width="0.8" fill="none" opacity="0.8"/>
<path d="M281.1,467.0 q0.4,-2.6 0.6,-0.0 q-2.4,-0.5 5.4,1.1 q-1.4,-2.1 2.1,0.4" stroke="#c98676" stroke-width="0.8" fill="none" opacity="0.8"/>
<path d="M269.1,459.6 q-0.7,1.0 6.1,-1.0 q0.3,0.5 2.7,-2.1 q-2.0,3.4 -5.7,1.4" stroke="#c98676" stroke-width="0.8" fill="none" opacity="0.8"/>
<path d="M263.9,461.3 q-0.4,-2.1 -5.2,3.7 q-3.7,-2.9 3.8,-1.0 q-2.4,2.2 7.7,-2.3" stroke="#c98676" stroke-width="0.8" fill="none" opacity="0.8"/>
<path d="M325.6,453.3 q4.0,0.8 6.3,1.3 q-2.9,-0.5 3.3,-2.8 q-3.3,3.9 6.8,1.2" stroke="#c98676" stroke-width="0.8" fill="none" opacity="0.8"/>
<path d="M236.8,478.9 q3.9,2.3 3.4,-0.5 q1.1,3.4 -0.0,-3.4 q-2.8,3.6 3.4,3.5" stroke="#c98676" stroke-width="0.8" fill="none" opacity="0.8"/>
<path d="M248.4,428.9 q1.5,-0.6 -0.6,-2.1 q2.1,2.3 3.6,-0.6 q-0.1,-0.8 -0.6,-1.4" stroke="#c98676" stroke-width="0.8" fill="none" opacity="0.8"/>
<path d="M292.7,500.8 q2.4,-2.9 2.7,2.6 q-1.2,3.1 7.0,-3.4 q1.0,-1.0 -0.5,0.4" stroke="#c98676" stroke-width="0.8" fill="none" opacity="0.8"/>
<path d="M346.6,473.0 q3.1,-2.0 4.8,-0.9 q-2.5,2.4 1.2,-2.2 q3.1,-0.1 2.8,3.9" stroke="#c98676" stroke-width="0.8" fill="none" opacity="0.8"/>
<path d="M273.1,465.7 q0.4,-1.7 0.5,3.7 q1.6,-1.9 2.9,0.9 q-1.1,1.4 -2.0,2.2" stroke="#c98676" stroke-width="0.8" fill="none" opacity="0.8"/>
<path d="M281.5,489.2 q-1.6,-2.6 -2.7,-3.0 q3.0,4.0 -1.3,-2.1 q3.1,2.8 -4.1,-1.6" stroke="#c98676" stroke-width="0.8" fill="none" opacity="0.8"/>
<path d="M296.6,431.1 q-2.3,-0.8 -6.1,-2.8 q0.8,-1.6 6.6,3.7 q1.4,-1.8 4.2,-1.3" stroke="#c98676" stroke-width="0.8" fill="none" opacity="0.8"/>
<path d="M348.1,455.6 q1.5,2.0 3.2,2.0 q-1.3,-2.8 -2.1,3.7 q-3.7,-1.7 -3.0,-0.5" stroke="#c98676" stroke-width="0.8" fill="none" opacity="0.8"/>
<path d="M348.2,434.4 q-3.2,-3.9 -2.6,1.8 q-0.4,1.2 0.2,-1.1 q-0.7,-3.7 7.2,1.9" stroke="#c98676" stroke-width="0.8" fill="none" opacity="0.8"/>
<path d="M241.5,437.0 q2.3,0.1 4.0,2.0 q-2.8,2.6 -4.8,-2.9 q2.0,2.5 -3.2,-0.9" stroke="#c98676" stroke-width="0.8" fill="none" opacity="0.8"/>
<path d="M329.3,444.7 q-0.4,3.9 -5.9,3.5 q3.1,4.0 -4.1,-2.4 q-0.5,-2.6 6.8,0.6" stroke="#c98676" stroke-width="0.8" fill="none" opacity="0.8"/>
</g>
<path d="M229.4,471 Q230,455 240,442 Q254,428 277,423 Q297,420 317,424 Q336,429 350,443 Q361,455 365,469 Q366,484 356,495 Q350,500 345,502 Q330,505 312,504 Q290,503 273,497 Q265,492 263,485 Q250,486 242,483 Q232,479 229.4,471 Z" fill="none" stroke="#b87060" stroke-width="1.3"/>
<path d="M263,485 Q282,476 300,476 Q320,474 347,478" stroke="#c4806f" stroke-width="1.2" fill="none"/>
</g>
<g>
<path d="M832,374 Q822,396 815,421 L806,419 Q814,394 824,372 Z" fill="#f2dcc8" stroke="#cfa48f" stroke-width="0.7"/>
<path d="M795,354.4 L836,357 L836,365.8 L794,364.3 Q789,359.3 795,354.4 Z" fill="#d9505d" stroke="#c9958a" stroke-width="0.7"/>
<path d="M796,356.5 L834,358.8 L834,361 L796,359 Z" fill="#ec8690" opacity="0.8"/>
<path d="M792,365.8 L837,369.7 L837,377.7 L792,376.4 Q786,371 792,365.8 Z" fill="#5f71c6" stroke="#d0a08f" stroke-width="0.8"/>
<path d="M794,368 L834,371.2 L834,373.4 L794,370.5 Z" fill="#8b9ce0" opacity="0.8"/>
<clipPath id="kdc"><path d="M845.3,299.8 Q862,300 872,309 Q885,322 889,339 Q893,352 892.3,366 Q892,384 888,398 Q884,411 877.5,419.4 Q868,428 856,427.5 Q842,428 832,422 Q824,416 821,406 Q818,395 822.4,387 Q827,380 834.5,376.4 Q839,372 838.5,363 Q839,354 834.5,349.5 Q826,346 821,338.8 Q815,330 817,322.6 Q818,312 823.8,306.5 Q832,300 845.3,299.8 Z"/></clipPath>
<path d="M845.3,299.8 Q862,300 872,309 Q885,322 889,339 Q893,352 892.3,366 Q892,384 888,398 Q884,411 877.5,419.4 Q868,428 856,427.5 Q842,428 832,422 Q824,416 821,406 Q818,395 822.4,387 Q827,380 834.5,376.4 Q839,372 838.5,363 Q839,354 834.5,349.5 Q826,346 821,338.8 Q815,330 817,322.6 Q818,312 823.8,306.5 Q832,300 845.3,299.8 Z" fill="url(#kid)" stroke="#a24f48" stroke-width="0.9"/>
<g clip-path="url(#kdc)">
<ellipse cx="842" cy="322" rx="13" ry="10" fill="#e6afa4" opacity="0.75" filter="url(#blur4)"/>
<ellipse cx="850" cy="398" rx="12" ry="8" fill="#dc9c92" opacity="0.6" filter="url(#blur4)"/>
<path d="M836,352 Q850,346 858,352 M836,374 Q848,378 856,372" stroke="#e8c6b0" stroke-width="1.5" fill="none" opacity="0.8"/>
</g>
</g>
<path d="M384.02,159.00 L382.79,158.87 L381.40,158.74 L379.85,158.59 L378.16,158.44 L376.34,158.28 L374.39,158.11 L372.32,157.93 L370.15,157.79 L367.88,157.64 L365.53,157.49 L363.10,157.32 L360.61,157.15 L358.05,156.97 L355.46,156.77 L352.82,156.56 L350.16,156.34 L347.49,156.11 L344.80,155.86 L342.12,155.60 L339.45,155.33 L336.80,155.03 L334.19,154.72 L331.61,154.40 L329.09,154.06 L326.59,153.65 L324.05,153.23 L321.49,152.78 L318.90,152.31 L316.29,151.82 L313.65,151.31 L310.99,150.78 L308.32,150.24 L305.62,149.69 L302.91,149.12 L300.19,148.55 L297.45,147.96 L294.71,147.37 L291.95,146.77 L289.19,146.17 L286.42,145.56 L283.65,144.96 L280.88,144.35 L278.11,143.75 L275.34,143.15 L272.57,142.55 L269.81,141.97 L267.06,141.39 L264.32,140.82 L261.55,140.25 L258.74,139.67 L255.87,139.09 L252.97,138.50 L250.03,137.91 L247.07,137.31 L244.09,136.71 L241.11,136.10 L238.12,135.50 L235.13,134.89 L232.16,134.29 L229.21,133.69 L226.28,133.09 L223.39,132.50 L220.54,131.91 L217.74,131.33 L214.99,130.76 L212.31,130.20 L209.70,129.64 L207.17,129.10 L204.73,128.57 L202.37,128.05 L200.12,127.55 L197.98,127.06 L195.92,126.61 L193.91,126.16 L191.96,125.71 L190.05,125.26 L188.20,124.81 L186.41,124.37 L184.67,123.93 L182.98,123.50 L181.35,123.07 L179.77,122.65 L178.25,122.24 L176.79,121.84 L175.38,121.46 L174.03,121.08 L172.50,126.61 L173.86,126.98 L175.29,127.37 L176.77,127.76 L178.31,128.17 L179.91,128.58 L181.57,129.01 L183.28,129.44 L185.05,129.87 L186.88,130.31 L188.76,130.75 L190.69,131.20 L192.68,131.65 L194.72,132.09 L196.82,132.54 L199.00,132.96 L201.28,133.40 L203.66,133.84 L206.14,134.29 L208.70,134.76 L211.33,135.23 L214.04,135.71 L216.81,136.19 L219.63,136.68 L222.51,137.18 L225.42,137.68 L228.37,138.19 L231.34,138.69 L234.33,139.20 L237.34,139.71 L240.34,140.22 L243.35,140.72 L246.34,141.23 L249.32,141.73 L252.27,142.23 L255.19,142.73 L258.07,143.22 L260.90,143.70 L263.68,144.18 L266.43,144.66 L269.19,145.15 L271.96,145.65 L274.74,146.15 L277.53,146.66 L280.31,147.18 L283.10,147.69 L285.89,148.21 L288.67,148.72 L291.46,149.24 L294.23,149.75 L297.00,150.25 L299.76,150.75 L302.50,151.24 L305.23,151.72 L307.95,152.19 L310.65,152.64 L313.33,153.08 L315.99,153.51 L318.63,153.92 L321.24,154.31 L323.83,154.67 L326.38,155.02 L328.91,155.34 L331.45,155.68 L334.03,156.00 L336.66,156.31 L339.31,156.59 L341.99,156.87 L344.68,157.12 L347.38,157.36 L350.06,157.59 L352.73,157.80 L355.36,158.01 L357.97,158.20 L360.52,158.37 L363.02,158.54 L365.45,158.70 L367.80,158.85 L370.07,158.99 L372.25,159.12 L374.32,159.20 L376.27,159.27 L378.10,159.34 L379.80,159.40 L381.35,159.47 L382.74,159.53 L383.98,159.60Z" fill="#e8175d" opacity="1.0"/>
<path d="M163.00,121.00 L183.57,117.84 L175.82,124.53 L179.07,134.23Z" fill="#e8175d"/>
<path d="M386.34,234.21 L385.13,234.42 L383.75,234.66 L382.21,234.92 L380.52,235.20 L378.70,235.49 L376.74,235.81 L374.68,236.14 L372.51,236.54 L370.26,236.96 L367.92,237.40 L365.51,237.86 L363.04,238.34 L360.52,238.84 L357.95,239.35 L355.36,239.88 L352.76,240.42 L350.14,240.98 L347.53,241.55 L344.93,242.14 L342.35,242.74 L339.82,243.36 L337.32,243.99 L334.89,244.62 L332.52,245.27 L330.18,245.90 L327.83,246.55 L325.46,247.21 L323.09,247.89 L320.70,248.59 L318.31,249.30 L315.90,250.03 L313.49,250.77 L311.08,251.53 L308.65,252.31 L306.22,253.10 L303.78,253.90 L301.34,254.71 L298.90,255.54 L296.45,256.38 L294.00,257.23 L291.55,258.10 L289.09,258.97 L286.64,259.86 L284.18,260.75 L281.73,261.66 L279.27,262.57 L276.82,263.50 L274.37,264.43 L271.91,265.37 L269.44,266.32 L266.95,267.28 L264.44,268.25 L261.92,269.23 L259.39,270.23 L256.86,271.23 L254.32,272.25 L251.77,273.28 L249.23,274.32 L246.68,275.38 L244.14,276.44 L241.61,277.52 L239.09,278.61 L236.58,279.72 L234.08,280.83 L231.59,281.96 L229.13,283.11 L226.68,284.26 L224.26,285.43 L221.86,286.62 L219.48,287.82 L217.14,289.03 L214.83,290.26 L212.52,291.58 L210.17,292.97 L207.79,294.42 L205.38,295.93 L202.97,297.48 L200.55,299.07 L198.13,300.69 L195.72,302.32 L193.33,303.97 L190.97,305.63 L188.64,307.27 L186.36,308.90 L184.13,310.51 L181.96,312.08 L179.86,313.61 L177.84,315.09 L175.90,316.51 L174.06,317.86 L177.49,322.50 L179.32,321.14 L181.24,319.72 L183.25,318.24 L185.34,316.71 L187.49,315.14 L189.69,313.54 L191.95,311.91 L194.25,310.28 L196.58,308.64 L198.93,307.00 L201.30,305.38 L203.68,303.78 L206.05,302.21 L208.41,300.68 L210.76,299.20 L213.07,297.78 L215.34,296.42 L217.57,295.14 L219.78,293.87 L222.04,292.60 L224.32,291.35 L226.64,290.10 L228.98,288.87 L231.35,287.65 L233.74,286.44 L236.15,285.24 L238.59,284.05 L241.03,282.88 L243.50,281.71 L245.97,280.56 L248.45,279.41 L250.94,278.28 L253.43,277.16 L255.92,276.05 L258.41,274.95 L260.90,273.87 L263.39,272.79 L265.86,271.72 L268.33,270.67 L270.78,269.63 L273.21,268.59 L275.63,267.57 L278.04,266.56 L280.45,265.56 L282.86,264.57 L285.27,263.58 L287.69,262.61 L290.10,261.64 L292.51,260.69 L294.93,259.74 L297.34,258.81 L299.75,257.89 L302.15,256.99 L304.55,256.09 L306.95,255.21 L309.34,254.34 L311.73,253.49 L314.11,252.65 L316.49,251.83 L318.86,251.02 L321.22,250.23 L323.57,249.45 L325.91,248.69 L328.24,247.95 L330.57,247.23 L332.88,246.53 L335.23,245.87 L337.65,245.23 L340.13,244.60 L342.65,243.99 L345.21,243.38 L347.80,242.79 L350.41,242.21 L353.02,241.65 L355.62,241.10 L358.20,240.56 L360.76,240.05 L363.27,239.55 L365.74,239.06 L368.15,238.60 L370.48,238.15 L372.74,237.73 L374.90,237.32 L376.94,236.88 L378.88,236.47 L380.69,236.08 L382.36,235.72 L383.89,235.38 L385.26,235.07 L386.46,234.79Z" fill="#e8175d" opacity="1.0"/>
<path d="M167.20,326.40 L177.55,308.34 L177.95,318.57 L187.56,322.08Z" fill="#e8175d"/>
<path d="M426.11,278.57 L425.46,279.06 L424.71,279.60 L423.88,280.19 L422.98,280.82 L422.00,281.50 L420.95,282.23 L419.84,282.99 L418.70,283.84 L417.52,284.74 L416.29,285.67 L415.02,286.64 L413.72,287.64 L412.39,288.68 L411.03,289.75 L409.66,290.86 L408.28,291.99 L406.89,293.16 L405.50,294.35 L404.11,295.56 L402.73,296.80 L401.37,298.06 L400.03,299.34 L398.71,300.64 L397.43,301.95 L396.13,303.28 L394.82,304.65 L393.50,306.08 L392.17,307.55 L390.83,309.06 L389.48,310.60 L388.13,312.19 L386.76,313.80 L385.39,315.44 L384.01,317.10 L382.63,318.78 L381.25,320.48 L379.86,322.20 L378.47,323.92 L377.08,325.65 L375.69,327.39 L374.30,329.12 L372.92,330.85 L371.53,332.57 L370.15,334.28 L368.78,335.98 L367.41,337.66 L366.05,339.32 L364.69,340.95 L363.33,342.58 L361.94,344.23 L360.53,345.89 L359.11,347.56 L357.68,349.24 L356.24,350.93 L354.79,352.63 L353.33,354.32 L351.88,356.02 L350.43,357.72 L348.98,359.41 L347.55,361.10 L346.13,362.78 L344.72,364.45 L343.33,366.12 L341.96,367.76 L340.62,369.40 L339.31,371.02 L338.03,372.61 L336.78,374.19 L335.57,375.75 L334.39,377.28 L333.26,378.78 L332.18,380.26 L331.15,381.76 L330.15,383.27 L329.17,384.78 L328.22,386.30 L327.29,387.82 L326.39,389.33 L325.51,390.84 L324.66,392.32 L323.84,393.80 L323.04,395.24 L322.27,396.66 L321.53,398.05 L320.82,399.41 L320.14,400.72 L325.06,403.25 L325.73,401.95 L326.42,400.62 L327.13,399.26 L327.88,397.86 L328.65,396.45 L329.44,395.01 L330.26,393.56 L331.10,392.09 L331.97,390.62 L332.85,389.15 L333.76,387.68 L334.69,386.22 L335.65,384.77 L336.62,383.34 L337.61,381.87 L338.64,380.37 L339.72,378.83 L340.85,377.26 L342.01,375.66 L343.21,374.04 L344.44,372.39 L345.70,370.72 L346.99,369.04 L348.30,367.33 L349.63,365.62 L350.98,363.89 L352.34,362.15 L353.71,360.40 L355.09,358.65 L356.47,356.90 L357.85,355.15 L359.23,353.39 L360.61,351.65 L361.98,349.90 L363.34,348.17 L364.68,346.45 L366.00,344.74 L367.31,343.05 L368.61,341.35 L369.91,339.62 L371.22,337.88 L372.53,336.12 L373.84,334.35 L375.15,332.57 L376.47,330.79 L377.79,329.00 L379.11,327.21 L380.42,325.43 L381.74,323.65 L383.05,321.89 L384.36,320.14 L385.67,318.41 L386.97,316.70 L388.27,315.02 L389.56,313.36 L390.85,311.74 L392.12,310.15 L393.39,308.60 L394.65,307.09 L395.90,305.62 L397.14,304.21 L398.37,302.85 L399.63,301.55 L400.93,300.26 L402.25,298.99 L403.59,297.74 L404.95,296.51 L406.33,295.30 L407.70,294.11 L409.08,292.95 L410.45,291.82 L411.81,290.72 L413.15,289.65 L414.47,288.61 L415.76,287.60 L417.03,286.63 L418.25,285.70 L419.43,284.81 L420.56,283.95 L421.61,283.10 L422.60,282.30 L423.52,281.54 L424.38,280.84 L425.17,280.18 L425.87,279.58 L426.49,279.03Z" fill="#e8175d" opacity="1.0"/>
<path d="M317.50,411.90 L318.67,391.12 L323.61,400.08 L333.77,398.92Z" fill="#e8175d"/>
<path d="M565.97,181.80 L566.95,181.94 L568.08,182.08 L569.34,182.23 L570.71,182.39 L572.20,182.56 L573.78,182.74 L575.47,182.92 L577.23,183.12 L579.07,183.33 L580.98,183.55 L582.95,183.74 L584.97,183.94 L587.03,184.16 L589.12,184.39 L591.24,184.64 L593.37,184.90 L595.50,185.18 L597.63,185.48 L599.75,185.79 L601.85,186.13 L603.92,186.48 L605.94,186.86 L607.92,187.26 L609.84,187.69 L611.74,188.13 L613.65,188.60 L615.56,189.08 L617.48,189.57 L619.41,190.09 L621.34,190.62 L623.28,191.16 L625.22,191.73 L627.17,192.31 L629.13,192.91 L631.09,193.52 L633.06,194.16 L635.03,194.81 L637.01,195.48 L638.99,196.16 L640.98,196.87 L642.98,197.59 L644.98,198.33 L646.98,199.08 L648.99,199.86 L651.01,200.65 L653.03,201.46 L655.06,202.29 L657.09,203.14 L659.12,204.03 L661.16,204.96 L663.21,205.91 L665.27,206.88 L667.35,207.88 L669.43,208.90 L671.51,209.94 L673.61,211.00 L675.71,212.07 L677.81,213.17 L679.92,214.28 L682.03,215.40 L684.14,216.53 L686.26,217.68 L688.37,218.83 L690.48,220.00 L692.59,221.17 L694.69,222.34 L696.79,223.53 L698.89,224.71 L700.98,225.89 L703.06,227.08 L705.14,228.26 L707.21,229.44 L709.27,230.61 L711.32,231.76 L713.36,232.89 L715.38,234.00 L717.40,235.11 L719.41,236.21 L721.41,237.30 L723.41,238.40 L725.39,239.50 L727.38,240.61 L729.37,241.74 L731.35,242.88 L733.33,244.05 L735.32,245.24 L737.31,246.46 L739.31,247.71 L741.31,249.00 L743.32,250.34 L745.34,251.72 L747.38,253.15 L749.42,254.64 L751.48,256.18 L753.56,257.79 L755.65,259.46 L757.82,261.22 L760.10,263.14 L762.47,265.19 L764.92,267.38 L767.43,269.67 L769.99,272.04 L772.59,274.50 L775.21,277.01 L777.85,279.56 L780.48,282.14 L783.10,284.72 L785.69,287.30 L788.23,289.85 L790.72,292.36 L793.15,294.81 L795.49,297.19 L797.74,299.48 L799.89,301.66 L801.91,303.72 L805.71,299.96 L803.68,297.92 L801.52,295.74 L799.26,293.46 L796.89,291.09 L794.45,288.65 L791.93,286.14 L789.36,283.59 L786.75,281.02 L784.10,278.43 L781.44,275.85 L778.77,273.30 L776.11,270.78 L773.47,268.31 L770.86,265.91 L768.30,263.60 L765.79,261.40 L763.36,259.31 L761.01,257.35 L758.75,255.54 L756.54,253.88 L754.36,252.29 L752.19,250.76 L750.04,249.30 L747.91,247.89 L745.80,246.54 L743.70,245.23 L741.61,243.97 L739.54,242.75 L737.47,241.57 L735.41,240.42 L733.36,239.29 L731.32,238.20 L729.28,237.12 L727.24,236.06 L725.21,235.01 L723.18,233.97 L721.14,232.93 L719.10,231.89 L717.05,230.85 L715.00,229.80 L712.94,228.74 L710.88,227.66 L708.79,226.56 L706.69,225.44 L704.58,224.32 L702.46,223.19 L700.33,222.07 L698.19,220.95 L696.05,219.83 L693.91,218.71 L691.76,217.60 L689.61,216.50 L687.45,215.40 L685.30,214.31 L683.14,213.24 L680.99,212.18 L678.84,211.12 L676.70,210.09 L674.55,209.07 L672.42,208.07 L670.29,207.09 L668.17,206.12 L666.05,205.18 L663.95,204.26 L661.86,203.37 L659.78,202.50 L657.71,201.66 L655.66,200.82 L653.62,199.99 L651.59,199.19 L649.56,198.40 L647.53,197.63 L645.52,196.87 L643.50,196.14 L641.49,195.42 L639.49,194.72 L637.50,194.04 L635.50,193.38 L633.52,192.73 L631.54,192.10 L629.57,191.49 L627.60,190.89 L625.64,190.32 L623.68,189.76 L621.73,189.21 L619.79,188.69 L617.85,188.18 L615.92,187.69 L613.99,187.21 L612.07,186.75 L610.16,186.31 L608.21,185.89 L606.21,185.49 L604.16,185.12 L602.07,184.77 L599.96,184.44 L597.83,184.12 L595.68,183.83 L593.54,183.56 L591.40,183.31 L589.27,183.07 L587.17,182.84 L585.10,182.63 L583.08,182.44 L581.10,182.25 L579.18,182.12 L577.33,182.00 L575.56,181.88 L573.87,181.78 L572.27,181.67 L570.78,181.57 L569.41,181.48 L568.15,181.39 L567.02,181.29 L566.03,181.20Z" fill="#e8175d" opacity="1.0"/>
<path d="M811.70,309.70 L792.26,302.26 L802.30,300.29 L804.29,290.25Z" fill="#e8175d"/>
<path d="M808.56,146.78 L808.92,147.84 L809.33,149.05 L809.80,150.39 L810.31,151.86 L810.87,153.44 L811.47,155.13 L812.10,156.93 L812.77,158.81 L813.46,160.77 L814.17,162.81 L814.90,164.92 L815.65,167.07 L816.41,169.28 L817.17,171.52 L817.93,173.79 L818.69,176.08 L819.45,178.38 L820.19,180.68 L820.91,182.98 L821.61,185.26 L822.29,187.52 L822.94,189.74 L823.56,191.92 L824.14,194.04 L824.69,196.16 L825.24,198.31 L825.79,200.48 L826.34,202.68 L826.88,204.90 L827.41,207.14 L827.93,209.40 L828.45,211.67 L828.96,213.95 L829.47,216.24 L829.96,218.54 L830.45,220.84 L830.92,223.14 L831.39,225.44 L831.85,227.73 L832.29,230.02 L832.73,232.30 L833.15,234.57 L833.56,236.82 L833.96,239.05 L834.34,241.27 L834.71,243.46 L835.07,245.63 L835.41,247.77 L835.73,249.92 L836.04,252.13 L836.34,254.38 L836.63,256.68 L836.90,259.00 L837.16,261.34 L837.41,263.70 L837.64,266.05 L837.87,268.40 L838.08,270.73 L838.29,273.03 L838.48,275.30 L838.67,277.52 L838.84,279.68 L839.01,281.78 L839.16,283.81 L843.32,283.43 L843.11,281.41 L842.89,279.30 L842.66,277.14 L842.42,274.91 L842.16,272.64 L841.90,270.34 L841.62,268.00 L841.33,265.64 L841.03,263.28 L840.72,260.91 L840.40,258.55 L840.06,256.22 L839.71,253.90 L839.35,251.63 L838.98,249.40 L838.59,247.23 L838.19,245.08 L837.78,242.91 L837.35,240.71 L836.90,238.50 L836.45,236.26 L835.98,234.01 L835.49,231.74 L835.00,229.46 L834.49,227.18 L833.97,224.88 L833.44,222.59 L832.90,220.29 L832.35,217.99 L831.80,215.70 L831.23,213.42 L830.66,211.14 L830.08,208.87 L829.49,206.62 L828.90,204.39 L828.30,202.17 L827.70,199.98 L827.09,197.81 L826.48,195.67 L825.86,193.56 L825.23,191.43 L824.55,189.25 L823.84,187.03 L823.10,184.79 L822.33,182.52 L821.55,180.23 L820.74,177.94 L819.93,175.65 L819.11,173.38 L818.28,171.13 L817.46,168.90 L816.65,166.71 L815.84,164.57 L815.06,162.49 L814.29,160.47 L813.55,158.52 L812.83,156.66 L812.15,154.88 L811.51,153.21 L810.91,151.64 L810.36,150.19 L809.86,148.86 L809.42,147.67 L809.04,146.62Z" fill="#e8175d" opacity="1.0"/>
<path d="M842.40,296.00 L832.09,276.87 L841.11,282.06 L849.01,275.30Z" fill="#e8175d"/>
<path d="M724.87,336.38 L725.55,336.63 L726.32,336.91 L727.18,337.22 L728.13,337.56 L729.16,337.92 L730.25,338.32 L731.42,338.73 L732.64,339.17 L733.91,339.63 L735.23,340.10 L736.59,340.59 L737.97,341.09 L739.39,341.60 L740.81,342.12 L742.25,342.65 L743.69,343.18 L745.13,343.71 L746.56,344.24 L747.97,344.77 L749.35,345.30 L750.70,345.82 L752.02,346.34 L753.29,346.84 L754.51,347.33 L755.72,347.83 L756.96,348.35 L758.24,348.89 L759.55,349.45 L760.87,350.02 L762.21,350.61 L763.55,351.20 L764.90,351.80 L766.25,352.40 L767.59,353.01 L768.91,353.60 L770.22,354.20 L771.49,354.78 L773.05,351.06 L771.73,350.55 L770.39,350.04 L769.02,349.53 L767.64,349.01 L766.25,348.50 L764.86,347.98 L763.47,347.47 L762.08,346.97 L760.71,346.48 L759.37,346.00 L758.04,345.54 L756.75,345.09 L755.49,344.67 L754.23,344.25 L752.91,343.83 L751.56,343.40 L750.16,342.96 L748.74,342.52 L747.29,342.08 L745.83,341.64 L744.35,341.19 L742.88,340.76 L741.40,340.32 L739.94,339.89 L738.50,339.47 L737.08,339.06 L735.70,338.66 L734.35,338.28 L733.05,337.90 L731.80,337.55 L730.61,337.21 L729.49,336.88 L728.44,336.58 L727.47,336.31 L726.59,336.05 L725.81,335.82 L725.13,335.62Z" fill="#e8175d" opacity="1.0"/>
<path d="M783.20,357.50 L760.55,357.25 L769.64,351.83 L767.10,341.56Z" fill="#e8175d"/>
<path d="M846.80,434.00 L846.78,434.82 L846.75,435.77 L846.71,436.85 L846.68,438.04 L846.64,439.33 L846.60,440.71 L846.55,442.18 L846.51,443.72 L846.46,445.32 L846.41,446.98 L846.36,448.68 L846.31,450.41 L846.25,452.16 L846.20,453.92 L846.15,455.69 L846.09,457.44 L846.04,459.18 L845.99,460.89 L845.94,462.57 L845.89,464.19 L845.84,465.76 L845.80,467.25 L845.76,468.67 L845.72,470.00 L845.68,471.28 L845.64,472.57 L845.60,473.86 L845.56,475.15 L845.52,476.44 L845.49,477.71 L845.45,478.97 L845.41,480.22 L845.37,481.45 L845.34,482.66 L845.30,483.84 L849.10,483.84 L849.06,482.66 L849.03,481.45 L848.99,480.22 L848.95,478.97 L848.91,477.71 L848.88,476.44 L848.84,475.15 L848.80,473.86 L848.76,472.57 L848.72,471.28 L848.68,470.00 L848.64,468.67 L848.60,467.25 L848.56,465.76 L848.51,464.19 L848.46,462.57 L848.41,460.89 L848.36,459.18 L848.31,457.44 L848.25,455.69 L848.20,453.92 L848.15,452.16 L848.09,450.41 L848.04,448.68 L847.99,446.98 L847.94,445.32 L847.89,443.72 L847.85,442.18 L847.80,440.71 L847.76,439.33 L847.72,438.04 L847.69,436.85 L847.65,435.77 L847.62,434.82 L847.60,434.00Z" fill="#e8175d" opacity="1.0"/>
<path d="M847.20,495.50 L838.45,475.50 L847.20,481.50 L855.95,475.50Z" fill="#e8175d"/>
<path d="M802.80,520.70 L801.35,520.69 L799.66,520.68 L797.75,520.67 L795.64,520.66 L793.33,520.64 L790.87,520.63 L788.25,520.61 L785.51,520.59 L782.66,520.58 L779.71,520.56 L776.70,520.54 L773.62,520.52 L770.52,520.50 L767.40,520.48 L764.28,520.46 L761.18,520.44 L758.12,520.42 L755.12,520.40 L752.20,520.38 L749.37,520.37 L746.66,520.35 L744.08,520.33 L741.65,520.32 L739.40,520.30 L737.28,520.27 L735.23,520.23 L733.25,520.20 L731.34,520.17 L729.48,520.14 L727.68,520.11 L725.94,520.08 L724.23,520.05 L722.57,520.02 L720.94,519.99 L719.34,519.97 L717.77,519.94 L716.21,519.91 L714.68,519.88 L713.15,519.86 L711.62,519.83 L710.10,519.80 L708.57,519.78 L707.03,519.75 L705.47,519.72 L703.90,519.69 L702.30,519.66 L700.67,519.63 L699.00,519.60 L697.32,519.57 L695.66,519.54 L694.00,519.51 L692.35,519.48 L690.70,519.44 L689.07,519.41 L687.43,519.38 L685.80,519.35 L684.16,519.32 L682.53,519.29 L680.89,519.25 L679.24,519.22 L677.59,519.19 L675.93,519.16 L674.26,519.12 L672.58,519.09 L670.88,519.05 L669.17,519.02 L667.45,518.98 L665.70,518.95 L663.94,518.91 L662.15,518.88 L660.34,518.84 L658.51,518.80 L656.61,518.79 L654.61,518.77 L652.52,518.75 L650.36,518.74 L648.14,518.72 L645.87,518.70 L643.56,518.68 L641.23,518.66 L638.88,518.64 L636.53,518.62 L634.19,518.60 L631.88,518.58 L629.60,518.56 L627.37,518.55 L625.19,518.53 L623.09,518.51 L623.07,523.20 L625.17,523.20 L627.35,523.20 L629.58,523.20 L631.86,523.20 L634.17,523.20 L636.51,523.20 L638.86,523.20 L641.21,523.21 L643.54,523.20 L645.85,523.20 L648.12,523.20 L650.35,523.20 L652.51,523.20 L654.59,523.20 L656.59,523.20 L658.49,523.20 L660.33,523.17 L662.14,523.15 L663.92,523.12 L665.69,523.10 L667.44,523.07 L669.16,523.05 L670.87,523.03 L672.57,523.00 L674.25,522.98 L675.92,522.95 L677.58,522.93 L679.23,522.90 L680.88,522.88 L682.52,522.85 L684.15,522.83 L685.79,522.81 L687.42,522.78 L689.06,522.76 L690.70,522.73 L692.34,522.70 L693.99,522.68 L695.65,522.65 L697.32,522.63 L699.00,522.60 L700.66,522.57 L702.30,522.55 L703.90,522.52 L705.47,522.49 L707.03,522.47 L708.57,522.44 L710.10,522.42 L711.62,522.39 L713.15,522.37 L714.68,522.34 L716.21,522.31 L717.77,522.29 L719.34,522.26 L720.94,522.23 L722.57,522.20 L724.23,522.17 L725.94,522.14 L727.69,522.11 L729.48,522.08 L731.34,522.05 L733.25,522.01 L735.23,521.98 L737.28,521.94 L739.40,521.90 L741.66,521.88 L744.08,521.86 L746.66,521.83 L749.37,521.81 L752.20,521.78 L755.12,521.76 L758.12,521.73 L761.18,521.70 L764.28,521.67 L767.40,521.64 L770.52,521.61 L773.63,521.58 L776.70,521.55 L779.71,521.52 L782.66,521.49 L785.51,521.47 L788.26,521.44 L790.87,521.41 L793.34,521.39 L795.64,521.37 L797.75,521.35 L799.66,521.33 L801.35,521.31 L802.80,521.30Z" fill="#e8175d" opacity="1.0"/>
<path d="M610.30,520.80 L630.34,512.39 L624.30,520.86 L630.26,529.39Z" fill="#e8175d"/>
<path d="M823.77,500.71 L822.79,500.46 L821.67,500.17 L820.42,499.86 L819.06,499.52 L817.58,499.16 L816.00,498.77 L814.32,498.35 L812.56,497.92 L810.73,497.47 L808.83,497.00 L806.87,496.51 L804.86,496.00 L802.81,495.49 L800.73,494.96 L798.63,494.42 L796.52,493.88 L794.40,493.32 L792.28,492.76 L790.18,492.20 L788.10,491.64 L786.05,491.07 L784.04,490.51 L782.08,489.95 L780.18,489.39 L778.30,488.83 L776.43,488.28 L774.56,487.72 L772.69,487.16 L770.82,486.59 L768.94,486.03 L767.06,485.45 L765.18,484.87 L763.30,484.29 L761.41,483.69 L759.51,483.09 L757.61,482.48 L755.69,481.85 L753.77,481.22 L751.84,480.57 L749.90,479.91 L747.94,479.24 L745.98,478.55 L744.00,477.85 L742.00,477.13 L739.99,476.39 L737.96,475.64 L735.92,474.86 L733.86,474.07 L731.75,473.25 L729.60,472.39 L727.39,471.50 L725.15,470.58 L722.86,469.63 L720.55,468.66 L718.21,467.66 L715.86,466.65 L713.49,465.63 L711.11,464.59 L708.74,463.55 L706.37,462.50 L704.01,461.45 L701.67,460.41 L699.35,459.37 L697.07,458.34 L694.81,457.32 L692.60,456.32 L690.44,455.33 L688.33,454.37 L686.28,453.43 L684.29,452.53 L682.38,451.65 L680.54,450.81 L678.78,450.00 L677.10,449.23 L675.48,448.49 L673.93,447.77 L672.44,447.07 L671.00,446.40 L669.61,445.74 L668.25,445.10 L666.94,444.47 L665.65,443.85 L664.39,443.24 L663.15,442.63 L661.92,442.02 L660.70,441.41 L659.48,440.80 L658.26,440.18 L657.02,439.55 L655.78,438.91 L654.51,438.26 L653.22,437.59 L651.90,436.90 L650.55,436.18 L649.15,435.44 L647.70,434.67 L646.21,433.88 L644.70,433.09 L643.17,432.29 L641.62,431.49 L640.07,430.68 L638.50,429.87 L636.91,429.05 L635.32,428.22 L633.72,427.38 L632.12,426.54 L630.51,425.68 L628.90,424.81 L627.29,423.93 L625.68,423.04 L624.08,422.13 L622.47,421.21 L620.88,420.28 L619.29,419.33 L617.72,418.36 L616.15,417.37 L614.60,416.36 L613.07,415.34 L611.55,414.29 L610.05,413.23 L608.56,412.13 L607.07,411.02 L605.60,409.89 L604.13,408.74 L602.66,407.57 L601.21,406.38 L599.75,405.17 L598.31,403.95 L596.87,402.71 L595.43,401.45 L593.99,400.18 L592.56,398.89 L591.14,397.59 L589.71,396.27 L588.29,394.95 L586.87,393.60 L585.45,392.25 L584.03,390.89 L582.61,389.51 L581.19,388.12 L579.77,386.72 L578.35,385.32 L576.93,383.90 L575.51,382.48 L574.08,381.04 L572.64,379.58 L571.20,378.10 L569.75,376.60 L568.29,375.07 L566.83,373.54 L565.37,371.98 L563.90,370.42 L562.44,368.84 L560.99,367.25 L559.54,365.65 L558.09,364.05 L556.66,362.44 L555.23,360.83 L553.82,359.22 L552.42,357.61 L551.04,356.00 L549.68,354.39 L548.33,352.79 L547.01,351.20 L545.70,349.62 L544.43,348.05 L543.18,346.49 L541.96,344.94 L540.75,343.41 L539.55,341.85 L538.36,340.29 L537.18,338.70 L536.02,337.11 L534.86,335.51 L533.72,333.91 L532.60,332.30 L531.49,330.69 L530.39,329.09 L529.31,327.50 L528.25,325.91 L527.21,324.34 L526.18,322.78 L525.18,321.24 L524.20,319.72 L523.23,318.22 L522.29,316.75 L521.38,315.31 L520.48,313.90 L519.62,312.52 L518.77,311.19 L517.96,309.89 L517.17,308.64 L516.42,307.43 L515.69,306.23 L514.98,305.04 L514.29,303.87 L513.63,302.72 L512.99,301.58 L512.37,300.46 L511.77,299.37 L511.19,298.29 L510.63,297.25 L510.10,296.22 L505.52,298.62 L506.07,299.66 L506.64,300.73 L507.24,301.83 L507.86,302.96 L508.50,304.10 L509.16,305.27 L509.85,306.46 L510.56,307.67 L511.29,308.89 L512.05,310.12 L512.83,311.36 L513.63,312.62 L514.45,313.92 L515.30,315.26 L516.17,316.64 L517.07,318.05 L518.00,319.50 L518.95,320.98 L519.92,322.48 L520.92,324.01 L521.94,325.57 L522.98,327.14 L524.04,328.73 L525.12,330.33 L526.21,331.94 L527.33,333.56 L528.46,335.19 L529.61,336.82 L530.77,338.45 L531.95,340.07 L533.15,341.69 L534.35,343.30 L535.57,344.90 L536.80,346.49 L538.04,348.06 L539.31,349.61 L540.60,351.18 L541.92,352.75 L543.26,354.34 L544.63,355.93 L546.01,357.53 L547.42,359.14 L548.84,360.75 L550.27,362.36 L551.72,363.96 L553.19,365.57 L554.66,367.17 L556.14,368.77 L557.63,370.36 L559.12,371.94 L560.61,373.52 L562.11,375.08 L563.61,376.62 L565.11,378.15 L566.60,379.67 L568.08,381.16 L569.56,382.64 L571.03,384.09 L572.49,385.52 L573.95,386.93 L575.39,388.34 L576.84,389.73 L578.29,391.12 L579.74,392.49 L581.19,393.86 L582.64,395.22 L584.10,396.57 L585.55,397.90 L587.01,399.22 L588.47,400.54 L589.94,401.83 L591.41,403.12 L592.88,404.39 L594.36,405.64 L595.84,406.88 L597.33,408.11 L598.82,409.31 L600.33,410.50 L601.84,411.67 L603.35,412.83 L604.88,413.96 L606.41,415.08 L607.95,416.17 L609.51,417.25 L611.09,418.30 L612.68,419.33 L614.28,420.34 L615.90,421.33 L617.52,422.29 L619.15,423.24 L620.78,424.17 L622.42,425.08 L624.07,425.98 L625.71,426.86 L627.35,427.73 L628.99,428.58 L630.62,429.42 L632.25,430.25 L633.86,431.06 L635.47,431.87 L637.07,432.67 L638.65,433.46 L640.22,434.25 L641.77,435.02 L643.30,435.80 L644.81,436.56 L646.30,437.33 L647.76,438.08 L649.17,438.81 L650.55,439.52 L651.88,440.20 L653.18,440.86 L654.46,441.50 L655.72,442.13 L656.97,442.75 L658.20,443.36 L659.44,443.96 L660.67,444.56 L661.92,445.16 L663.17,445.76 L664.45,446.36 L665.75,446.97 L667.08,447.59 L668.45,448.22 L669.85,448.87 L671.31,449.53 L672.81,450.21 L674.37,450.92 L676.00,451.65 L677.69,452.40 L679.46,453.19 L681.31,454.01 L683.23,454.87 L685.23,455.76 L687.29,456.67 L689.42,457.61 L691.59,458.57 L693.82,459.55 L696.08,460.55 L698.38,461.56 L700.71,462.58 L703.07,463.60 L705.44,464.62 L707.83,465.65 L710.22,466.67 L712.61,467.68 L714.99,468.68 L717.37,469.67 L719.72,470.64 L722.05,471.59 L724.36,472.52 L726.62,473.42 L728.85,474.29 L731.02,475.13 L733.14,475.93 L735.23,476.70 L737.30,477.45 L739.34,478.18 L741.37,478.89 L743.39,479.58 L745.39,480.26 L747.37,480.92 L749.35,481.57 L751.31,482.20 L753.25,482.82 L755.19,483.43 L757.12,484.02 L759.04,484.61 L760.95,485.19 L762.85,485.75 L764.75,486.31 L766.64,486.87 L768.53,487.41 L770.42,487.95 L772.30,488.49 L774.18,489.02 L776.06,489.55 L777.94,490.08 L779.82,490.61 L781.74,491.14 L783.72,491.68 L785.74,492.21 L787.80,492.75 L789.90,493.28 L792.01,493.81 L794.14,494.34 L796.27,494.86 L798.39,495.38 L800.51,495.89 L802.59,496.38 L804.65,496.87 L806.67,497.34 L808.63,497.80 L810.54,498.25 L812.38,498.67 L814.15,499.08 L815.83,499.47 L817.42,499.83 L818.90,500.18 L820.27,500.50 L821.52,500.79 L822.64,501.05 L823.63,501.29Z" fill="#e8175d" opacity="1.0"/>
<path d="M502.70,287.40 L518.99,300.36 L508.82,299.21 L503.89,308.18Z" fill="#e8175d"/>
<ellipse cx="262.3" cy="150.6" rx="66.8" ry="51.4" fill="#fdebf0" fill-opacity="0.85" stroke="#e63c72" stroke-width="1.5"/>
<ellipse cx="273.4" cy="267.4" rx="68.1" ry="45" fill="#fdebf0" fill-opacity="0.85" stroke="#e63c72" stroke-width="1.5"/>
<ellipse cx="367.4" cy="343" rx="68" ry="45" fill="#fdebf0" fill-opacity="0.85" stroke="#e63c72" stroke-width="1.5"/>
<ellipse cx="791.7" cy="86" rx="78.3" ry="56.8" fill="#fdebf0" fill-opacity="0.85" stroke="#e63c72" stroke-width="1.5"/>
<ellipse cx="707.6" cy="230" rx="67" ry="40.7" fill="#fdebf0" fill-opacity="0.85" stroke="#e63c72" stroke-width="1.5"/>
<ellipse cx="679.5" cy="323.5" rx="44.5" ry="29.7" fill="#fdebf0" fill-opacity="0.85" stroke="#e63c72" stroke-width="1.5"/>
<ellipse cx="574.5" cy="399.6" rx="94.8" ry="56.8" fill="#fdebf0" fill-opacity="0.85" stroke="#e63c72" stroke-width="1.5"/>
<ellipse cx="699" cy="521.4" rx="40.4" ry="23.2" fill="#fdebf0" fill-opacity="0.85" stroke="#e63c72" stroke-width="1.5"/>
<rect x="13" y="157" width="165" height="110" rx="3" fill="url(#bluebox)" fill-opacity="0.93" stroke="#5b2a8e" stroke-width="1.6"/>
<rect x="111" y="405" width="80.5" height="55" rx="3" fill="url(#bluebox)" fill-opacity="0.93" stroke="#5b2a8e" stroke-width="1.6"/>
<rect x="181" y="519" width="101" height="54" rx="3" fill="url(#bluebox)" fill-opacity="0.93" stroke="#5b2a8e" stroke-width="1.6"/>
<rect x="698" y="387.6" width="120" height="54.7" rx="3" fill="url(#bluebox)" fill-opacity="0.93" stroke="#5b2a8e" stroke-width="1.6"/>
<rect x="499" y="472.5" width="103.5" height="99.5" rx="3" fill="#d8d5ed" fill-opacity="0.97" stroke="#5b2a8e" stroke-width="1.6"/>
<rect x="386.5" y="16.5" width="164" height="110" rx="4" fill="#fcf0f3" fill-opacity="0.72" stroke="#c4246a" stroke-width="1.6"/>
<text x="468.5" y="38.5" fill="#b5306f" font-size="11.6" font-weight="bold" text-anchor="middle">Rapid cell lysis:</text>
<text x="468.5" y="57" fill="#b5306f" font-size="12.7" text-anchor="middle">Spontaneous occurrence</text>
<text x="468.5" y="75.5" fill="#b5306f" font-size="12.7" text-anchor="middle">Glucocorticoids</text>
<text x="468.5" y="94" fill="#b5306f" font-size="12.7" text-anchor="middle">Antineoplastic therapy</text>
<text x="468.5" y="112.5" fill="#b5306f" font-size="12.7" text-anchor="middle">Radiotherapy</text>
<text x="263.5" y="126.2" class="pk" >Hyperkalemia</text>
<text x="263.5" y="146.6" class="pk" >Calcium phosphate</text>
<text x="263.5" y="163.2" class="pk" >binding</text>
<text x="263.5" y="180.8" class="pk" >(hypocalcemia)</text>
<text x="274.5" y="258.2" class="pk" >Calcium phosphate</text>
<text x="274.5" y="275" class="pk" >binding</text>
<text x="274.5" y="292.4" class="pk" >(hypocalcemia)</text>
<text x="368.5" y="333.4" class="pk" >Calcium phosphate</text>
<text x="368.5" y="350.2" class="pk" >binding</text>
<text x="368.5" y="367.6" class="pk" >(hypocalcemia)</text>
<text x="792" y="63" class="pk" >Nephrotoxic drugs</text>
<text x="792" y="82.5" class="pk" >NSAIDs</text>
<text x="792" y="102" class="pk" >Diuretics</text>
<text x="792" y="121.5" class="pk" >ACE inhibitors</text>
<text x="708.5" y="210.8" class="pk" >Uric acid,</text>
<text x="708.5" y="232.7" class="pk" >calcium, phosphate,</text>
<text x="708.5" y="253.8" class="pk" >potassium</text>
<text x="679.7" y="319.7" class="pk" >Prerenal</text>
<text x="679.7" y="335.4" class="pk" >azotemia</text>
<text x="574.5" y="369.9" class="pk" >Progressive renal</text>
<text x="574.5" y="386.2" class="pk" >dysfunction</text>
<text x="574.5" y="408.3" class="pk" >Impaired excretion of uric</text>
<text x="574.5" y="424.6" class="pk" >acid, phosphate, calcium,</text>
<text x="574.5" y="441" class="pk" >and potassium</text>
<text x="698.5" y="525.8" class="pk" >Oliguria</text>
<text x="847" y="509.5" class="ak hl" filter="url(#blur1)" fill="#e8286a" stroke="#e8286a" stroke-width="0.45" font-size="13" text-anchor="middle">Acute</text>
<text x="847" y="509.5" class="ak" fill="#e8286a" stroke="#e8286a" stroke-width="0.45" font-size="13" text-anchor="middle">Acute</text>
<text x="847" y="526" class="ak hl" filter="url(#blur1)" fill="#e8286a" stroke="#e8286a" stroke-width="0.45" font-size="13" text-anchor="middle">kidney injury</text>
<text x="847" y="526" class="ak" fill="#e8286a" stroke="#e8286a" stroke-width="0.45" font-size="13" text-anchor="middle">kidney injury</text>
<text x="365" y="129" class="tl hl" filter="url(#blur1)" >Uric</text>
<text x="365" y="129" class="tl" >Uric</text>
<text x="365" y="145.5" class="tl hl" filter="url(#blur1)" >acid</text>
<text x="365" y="145.5" class="tl" >acid</text>
<text x="362" y="175.5" class="tl hl" filter="url(#blur1)" >Phosphate</text>
<text x="362" y="175.5" class="tl" >Phosphate</text>
<text x="362" y="189" class="tl hl" filter="url(#blur1)" >Potassium</text>
<text x="362" y="189" class="tl" >Potassium</text>
<text x="358" y="225.5" class="tl hl" filter="url(#blur1)" >Phosphate</text>
<text x="358" y="225.5" class="tl" >Phosphate</text>
<text x="377" y="255.5" class="tl hl" filter="url(#blur1)" >Potassium</text>
<text x="377" y="255.5" class="tl" >Potassium</text>
<text x="396" y="274.5" class="tl hl" filter="url(#blur1)" >Uric</text>
<text x="396" y="274.5" class="tl" >Uric</text>
<text x="396" y="290.5" class="tl hl" filter="url(#blur1)" >acid</text>
<text x="396" y="290.5" class="tl" >acid</text>
<text x="468" y="303" class="tl hl" filter="url(#blur1)" >Potassium</text>
<text x="468" y="303" class="tl" >Potassium</text>
<text x="547" y="292.5" class="tl hl" filter="url(#blur1)" >Phosphate</text>
<text x="547" y="292.5" class="tl" >Phosphate</text>
<text x="575" y="244.5" class="tl hl" filter="url(#blur1)" >Uric</text>
<text x="575" y="244.5" class="tl" >Uric</text>
<text x="575" y="260.5" class="tl hl" filter="url(#blur1)" >acid</text>
<text x="575" y="260.5" class="tl" >acid</text>
<text x="588" y="207" class="tl hl" filter="url(#blur1)" >Phosphate</text>
<text x="588" y="207" class="tl" >Phosphate</text>
<text x="588" y="224.5" class="tl hl" filter="url(#blur1)" >Potassium</text>
<text x="588" y="224.5" class="tl" >Potassium</text>
<text x="583.5" y="150" class="tl hl" filter="url(#blur1)" >Phosphate</text>
<text x="583.5" y="150" class="tl" >Phosphate</text>
<text x="583.5" y="168.5" class="tl hl" filter="url(#blur1)" >Potassium</text>
<text x="583.5" y="168.5" class="tl" >Potassium</text>
<text x="96" y="177" class="pu" >Reduced action potentials</text>
<text x="96" y="196" class="pu" >Irritability</text>
<text x="96" y="215.6" class="pu" >Arrhythmias or torsades</text>
<text x="96" y="235.5" class="pu" >Heart failure</text>
<text x="96" y="255" class="pu" >Cardiac arrest</text>
<text x="151" y="426.3" class="pu" >Twitching</text>
<text x="151" y="446.3" class="pu" >Tetany</text>
<text x="231.5" y="540" class="pu" >CNS irritability</text>
<text x="231.5" y="559.8" class="pu" >Seizures</text>
<text x="758" y="408.6" class="pu" >Dehydration</text>
<text x="758" y="428.4" class="pu" >Insensible losses</text>
<text x="550" y="499" class="pu" style="font-size:12px;font-weight:bold">Hemodialysis</text>
<text x="550" y="518" class="pu" >↓ Uric acid</text>
<text x="550" y="540" class="pu" >↓ Phosphate</text>
<text x="550" y="559.5" class="pu" >↓ Potassium</text>
<text x="95" y="89.5" class="lb hl" filter="url(#blur1)" >CARDIOVASCULAR</text>
<text x="95" y="89.5" class="lb" >CARDIOVASCULAR</text>
<text x="95" y="105" class="lb hl" filter="url(#blur1)" >SYSTEM</text>
<text x="95" y="105" class="lb" >SYSTEM</text>
<text x="109" y="316" class="lb hl" filter="url(#blur1)" >SKELETAL</text>
<text x="109" y="316" class="lb" >SKELETAL</text>
<text x="109" y="332" class="lb hl" filter="url(#blur1)" >MUSCLE</text>
<text x="109" y="332" class="lb" >MUSCLE</text>
<text x="295" y="450.5" class="lb hl" filter="url(#blur1)" >CENTRAL</text>
<text x="295" y="450.5" class="lb" >CENTRAL</text>
<text x="295" y="466.5" class="lb hl" filter="url(#blur1)" >NERVOUS SYSTEM</text>
<text x="295" y="466.5" class="lb" >NERVOUS SYSTEM</text>
<text x="848" y="367.5" class="lb hl" filter="url(#blur1)" >KIDNEY</text>
<text x="848" y="367.5" class="lb" >KIDNEY</text>
<rect x="2" y="0" width="1" height="595" fill="#8a8a8a"/>
<rect x="933" y="0" width="1" height="595" fill="#8a8a8a"/>
<rect x="3" y="594" width="930" height="1" fill="#e6e6e6"/>
<rect x="467.9" y="64" width="1.4" height="531" fill="#b3acb0" style="mix-blend-mode:multiply"/>
</svg>
</body></html>
